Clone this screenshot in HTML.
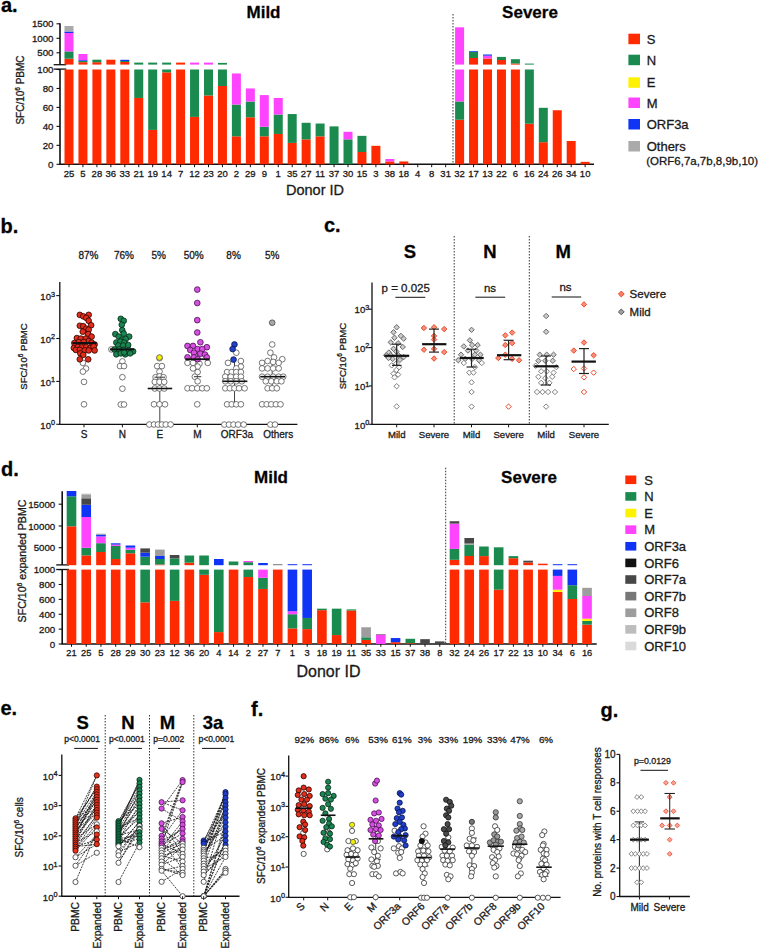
<!DOCTYPE html>
<html><head><meta charset="utf-8"><style>
html,body{margin:0;padding:0;background:#fff;}
svg{display:block;}
text{stroke:#1a1a1a;stroke-width:0.3px;}
</style></head><body>
<svg width="760" height="950" viewBox="0 0 760 950" font-family='"Liberation Sans", sans-serif'>
<rect width="760" height="950" fill="#fff"/>
<text x="1.00" y="11.80" font-size="20" text-anchor="start" font-weight="bold" fill="#000" >a.</text>
<text x="263.50" y="17.60" font-size="17" text-anchor="middle" font-weight="bold" fill="#000" >Mild</text>
<text x="530.00" y="17.60" font-size="17" text-anchor="middle" font-weight="bold" fill="#000" >Severe</text>
<line x1="60.00" y1="23.30" x2="60.00" y2="64.70" stroke="#111" stroke-width="1.6" />
<line x1="60.00" y1="69.10" x2="60.00" y2="164.30" stroke="#111" stroke-width="1.6" />
<line x1="59.20" y1="164.30" x2="594.00" y2="164.30" stroke="#111" stroke-width="1.6" />
<line x1="53.70" y1="64.70" x2="66.30" y2="64.70" stroke="#111" stroke-width="1.3" />
<line x1="53.70" y1="69.10" x2="66.30" y2="69.10" stroke="#111" stroke-width="1.3" />
<line x1="56.50" y1="23.80" x2="60.00" y2="23.80" stroke="#111" stroke-width="1.1" />
<text x="53.50" y="27.30" font-size="9.7" text-anchor="end" fill="#1a1a1a" >1500</text>
<line x1="56.50" y1="38.30" x2="60.00" y2="38.30" stroke="#111" stroke-width="1.1" />
<text x="53.50" y="41.80" font-size="9.7" text-anchor="end" fill="#1a1a1a" >1000</text>
<line x1="56.50" y1="52.80" x2="60.00" y2="52.80" stroke="#111" stroke-width="1.1" />
<text x="53.50" y="56.30" font-size="9.7" text-anchor="end" fill="#1a1a1a" >500</text>
<line x1="56.50" y1="164.30" x2="60.00" y2="164.30" stroke="#111" stroke-width="1.1" />
<text x="53.50" y="167.80" font-size="9.7" text-anchor="end" fill="#1a1a1a" >0</text>
<line x1="56.50" y1="145.34" x2="60.00" y2="145.34" stroke="#111" stroke-width="1.1" />
<text x="53.50" y="148.84" font-size="9.7" text-anchor="end" fill="#1a1a1a" >20</text>
<line x1="56.50" y1="126.38" x2="60.00" y2="126.38" stroke="#111" stroke-width="1.1" />
<text x="53.50" y="129.88" font-size="9.7" text-anchor="end" fill="#1a1a1a" >40</text>
<line x1="56.50" y1="107.42" x2="60.00" y2="107.42" stroke="#111" stroke-width="1.1" />
<text x="53.50" y="110.92" font-size="9.7" text-anchor="end" fill="#1a1a1a" >60</text>
<line x1="56.50" y1="88.46" x2="60.00" y2="88.46" stroke="#111" stroke-width="1.1" />
<text x="53.50" y="91.96" font-size="9.7" text-anchor="end" fill="#1a1a1a" >80</text>
<line x1="56.50" y1="69.50" x2="60.00" y2="69.50" stroke="#111" stroke-width="1.1" />
<text x="53.50" y="73.00" font-size="9.7" text-anchor="end" fill="#1a1a1a" >100</text>
<text x="24.00" y="90.00" font-size="10" text-anchor="middle" fill="#1a1a1a" transform="rotate(-90 24.00 90.00)">SFC/10<tspan font-size="6.5" dy="-4">6</tspan><tspan dy="4"> PBMC</tspan></text>
<rect x="64.50" y="69.50" width="9.00" height="94.80" fill="#ff2a00"/>
<rect x="64.50" y="58.70" width="9.00" height="5.90" fill="#ff2a00"/>
<rect x="64.50" y="51.40" width="9.00" height="7.30" fill="#1a8a4e"/>
<rect x="64.50" y="33.00" width="9.00" height="18.40" fill="#ff44ff"/>
<rect x="64.50" y="31.50" width="9.00" height="1.50" fill="#1034f5"/>
<rect x="64.50" y="26.00" width="9.00" height="5.50" fill="#aaaaaa"/>
<line x1="69.00" y1="164.30" x2="69.00" y2="167.20" stroke="#111" stroke-width="1.0" />
<text x="69.00" y="177.20" font-size="9.5" text-anchor="middle" fill="#1a1a1a" >25</text>
<rect x="78.45" y="69.50" width="9.00" height="94.80" fill="#ff2a00"/>
<rect x="78.45" y="62.20" width="9.00" height="2.40" fill="#ff2a00"/>
<rect x="78.45" y="61.00" width="9.00" height="1.20" fill="#1a8a4e"/>
<rect x="78.45" y="60.20" width="9.00" height="0.80" fill="#1034f5"/>
<rect x="78.45" y="54.00" width="9.00" height="6.20" fill="#ff44ff"/>
<line x1="82.95" y1="164.30" x2="82.95" y2="167.20" stroke="#111" stroke-width="1.0" />
<text x="82.95" y="177.20" font-size="9.5" text-anchor="middle" fill="#1a1a1a" >5</text>
<rect x="92.40" y="69.50" width="9.00" height="94.80" fill="#ff2a00"/>
<rect x="92.40" y="62.20" width="9.00" height="2.40" fill="#ff2a00"/>
<rect x="92.40" y="59.70" width="9.00" height="2.50" fill="#1a8a4e"/>
<line x1="96.90" y1="164.30" x2="96.90" y2="167.20" stroke="#111" stroke-width="1.0" />
<text x="96.90" y="177.20" font-size="9.5" text-anchor="middle" fill="#1a1a1a" >28</text>
<rect x="106.35" y="69.50" width="9.00" height="94.80" fill="#ff2a00"/>
<rect x="106.35" y="59.70" width="9.00" height="4.90" fill="#ff2a00"/>
<line x1="110.85" y1="164.30" x2="110.85" y2="167.20" stroke="#111" stroke-width="1.0" />
<text x="110.85" y="177.20" font-size="9.5" text-anchor="middle" fill="#1a1a1a" >36</text>
<rect x="120.30" y="69.50" width="9.00" height="94.80" fill="#ff2a00"/>
<rect x="120.30" y="62.00" width="9.00" height="2.60" fill="#ff2a00"/>
<rect x="120.30" y="61.00" width="9.00" height="1.00" fill="#1a8a4e"/>
<rect x="120.30" y="59.80" width="9.00" height="1.20" fill="#1034f5"/>
<line x1="124.80" y1="164.30" x2="124.80" y2="167.20" stroke="#111" stroke-width="1.0" />
<text x="124.80" y="177.20" font-size="9.5" text-anchor="middle" fill="#1a1a1a" >33</text>
<rect x="134.25" y="97.94" width="9.00" height="66.36" fill="#ff2a00"/>
<rect x="134.25" y="69.50" width="9.00" height="28.44" fill="#1a8a4e"/>
<rect x="134.25" y="62.60" width="9.00" height="2.00" fill="#1a8a4e"/>
<line x1="138.75" y1="164.30" x2="138.75" y2="167.20" stroke="#111" stroke-width="1.0" />
<text x="138.75" y="177.20" font-size="9.5" text-anchor="middle" fill="#1a1a1a" >21</text>
<rect x="148.20" y="129.89" width="9.00" height="34.41" fill="#ff2a00"/>
<rect x="148.20" y="69.50" width="9.00" height="60.39" fill="#1a8a4e"/>
<rect x="148.20" y="62.60" width="9.00" height="2.00" fill="#1a8a4e"/>
<line x1="152.70" y1="164.30" x2="152.70" y2="167.20" stroke="#111" stroke-width="1.0" />
<text x="152.70" y="177.20" font-size="9.5" text-anchor="middle" fill="#1a1a1a" >19</text>
<rect x="162.15" y="72.34" width="9.00" height="91.96" fill="#ff2a00"/>
<rect x="162.15" y="69.50" width="9.00" height="2.84" fill="#1a8a4e"/>
<rect x="162.15" y="62.60" width="9.00" height="2.00" fill="#1a8a4e"/>
<line x1="166.65" y1="164.30" x2="166.65" y2="167.20" stroke="#111" stroke-width="1.0" />
<text x="166.65" y="177.20" font-size="9.5" text-anchor="middle" fill="#1a1a1a" >14</text>
<rect x="176.10" y="69.50" width="9.00" height="94.80" fill="#ff2a00"/>
<rect x="176.10" y="62.60" width="9.00" height="2.00" fill="#ff2a00"/>
<line x1="180.60" y1="164.30" x2="180.60" y2="167.20" stroke="#111" stroke-width="1.0" />
<text x="180.60" y="177.20" font-size="9.5" text-anchor="middle" fill="#1a1a1a" >7</text>
<rect x="190.05" y="116.90" width="9.00" height="47.40" fill="#ff2a00"/>
<rect x="190.05" y="69.50" width="9.00" height="47.40" fill="#1a8a4e"/>
<rect x="190.05" y="62.60" width="9.00" height="2.00" fill="#ff44ff"/>
<line x1="194.55" y1="164.30" x2="194.55" y2="167.20" stroke="#111" stroke-width="1.0" />
<text x="194.55" y="177.20" font-size="9.5" text-anchor="middle" fill="#1a1a1a" >12</text>
<rect x="204.00" y="95.48" width="9.00" height="68.82" fill="#ff2a00"/>
<rect x="204.00" y="69.50" width="9.00" height="25.98" fill="#1a8a4e"/>
<rect x="204.00" y="62.60" width="9.00" height="2.00" fill="#ff44ff"/>
<line x1="208.50" y1="164.30" x2="208.50" y2="167.20" stroke="#111" stroke-width="1.0" />
<text x="208.50" y="177.20" font-size="9.5" text-anchor="middle" fill="#1a1a1a" >23</text>
<rect x="217.95" y="86.00" width="9.00" height="78.30" fill="#ff2a00"/>
<rect x="217.95" y="69.50" width="9.00" height="16.50" fill="#1a8a4e"/>
<rect x="217.95" y="62.90" width="9.00" height="1.70" fill="#1a8a4e"/>
<line x1="222.45" y1="164.30" x2="222.45" y2="167.20" stroke="#111" stroke-width="1.0" />
<text x="222.45" y="177.20" font-size="9.5" text-anchor="middle" fill="#1a1a1a" >20</text>
<rect x="231.90" y="136.33" width="9.00" height="27.97" fill="#ff2a00"/>
<rect x="231.90" y="104.58" width="9.00" height="31.76" fill="#1a8a4e"/>
<rect x="231.90" y="73.48" width="9.00" height="31.09" fill="#ff44ff"/>
<line x1="236.40" y1="164.30" x2="236.40" y2="167.20" stroke="#111" stroke-width="1.0" />
<text x="236.40" y="177.20" font-size="9.5" text-anchor="middle" fill="#1a1a1a" >2</text>
<rect x="245.85" y="117.28" width="9.00" height="47.02" fill="#ff2a00"/>
<rect x="245.85" y="101.54" width="9.00" height="15.74" fill="#1a8a4e"/>
<rect x="245.85" y="88.46" width="9.00" height="13.08" fill="#ff44ff"/>
<line x1="250.35" y1="164.30" x2="250.35" y2="167.20" stroke="#111" stroke-width="1.0" />
<text x="250.35" y="177.20" font-size="9.5" text-anchor="middle" fill="#1a1a1a" >29</text>
<rect x="259.80" y="136.33" width="9.00" height="27.97" fill="#ff2a00"/>
<rect x="259.80" y="126.76" width="9.00" height="9.57" fill="#1a8a4e"/>
<rect x="259.80" y="95.10" width="9.00" height="31.66" fill="#ff44ff"/>
<line x1="264.30" y1="164.30" x2="264.30" y2="167.20" stroke="#111" stroke-width="1.0" />
<text x="264.30" y="177.20" font-size="9.5" text-anchor="middle" fill="#1a1a1a" >9</text>
<rect x="273.75" y="133.96" width="9.00" height="30.34" fill="#ff2a00"/>
<rect x="273.75" y="114.53" width="9.00" height="19.43" fill="#1a8a4e"/>
<rect x="273.75" y="97.94" width="9.00" height="16.59" fill="#ff44ff"/>
<line x1="278.25" y1="164.30" x2="278.25" y2="167.20" stroke="#111" stroke-width="1.0" />
<text x="278.25" y="177.20" font-size="9.5" text-anchor="middle" fill="#1a1a1a" >1</text>
<rect x="287.70" y="142.88" width="9.00" height="21.42" fill="#ff2a00"/>
<rect x="287.70" y="114.06" width="9.00" height="28.82" fill="#1a8a4e"/>
<line x1="292.20" y1="164.30" x2="292.20" y2="167.20" stroke="#111" stroke-width="1.0" />
<text x="292.20" y="177.20" font-size="9.5" text-anchor="middle" fill="#1a1a1a" >35</text>
<rect x="301.65" y="139.37" width="9.00" height="24.93" fill="#ff2a00"/>
<rect x="301.65" y="122.78" width="9.00" height="16.59" fill="#1a8a4e"/>
<line x1="306.15" y1="164.30" x2="306.15" y2="167.20" stroke="#111" stroke-width="1.0" />
<text x="306.15" y="177.20" font-size="9.5" text-anchor="middle" fill="#1a1a1a" >27</text>
<rect x="315.60" y="136.33" width="9.00" height="27.97" fill="#ff2a00"/>
<rect x="315.60" y="123.54" width="9.00" height="12.80" fill="#1a8a4e"/>
<line x1="320.10" y1="164.30" x2="320.10" y2="167.20" stroke="#111" stroke-width="1.0" />
<text x="320.10" y="177.20" font-size="9.5" text-anchor="middle" fill="#1a1a1a" >11</text>
<rect x="329.55" y="126.38" width="9.00" height="37.92" fill="#1a8a4e"/>
<line x1="334.05" y1="164.30" x2="334.05" y2="167.20" stroke="#111" stroke-width="1.0" />
<text x="334.05" y="177.20" font-size="9.5" text-anchor="middle" fill="#1a1a1a" >37</text>
<rect x="343.50" y="139.37" width="9.00" height="24.93" fill="#1a8a4e"/>
<rect x="343.50" y="131.78" width="9.00" height="7.58" fill="#ff44ff"/>
<line x1="348.00" y1="164.30" x2="348.00" y2="167.20" stroke="#111" stroke-width="1.0" />
<text x="348.00" y="177.20" font-size="9.5" text-anchor="middle" fill="#1a1a1a" >30</text>
<rect x="357.45" y="151.98" width="9.00" height="12.32" fill="#ff2a00"/>
<rect x="357.45" y="135.86" width="9.00" height="16.12" fill="#1a8a4e"/>
<line x1="361.95" y1="164.30" x2="361.95" y2="167.20" stroke="#111" stroke-width="1.0" />
<text x="361.95" y="177.20" font-size="9.5" text-anchor="middle" fill="#1a1a1a" >15</text>
<rect x="371.40" y="145.81" width="9.00" height="18.49" fill="#ff2a00"/>
<line x1="375.90" y1="164.30" x2="375.90" y2="167.20" stroke="#111" stroke-width="1.0" />
<text x="375.90" y="177.20" font-size="9.5" text-anchor="middle" fill="#1a1a1a" >3</text>
<rect x="385.35" y="161.46" width="9.00" height="2.84" fill="#ff2a00"/>
<rect x="385.35" y="158.99" width="9.00" height="2.46" fill="#ff44ff"/>
<line x1="389.85" y1="164.30" x2="389.85" y2="167.20" stroke="#111" stroke-width="1.0" />
<text x="389.85" y="177.20" font-size="9.5" text-anchor="middle" fill="#1a1a1a" >38</text>
<rect x="399.30" y="161.46" width="9.00" height="2.84" fill="#ff2a00"/>
<line x1="403.80" y1="164.30" x2="403.80" y2="167.20" stroke="#111" stroke-width="1.0" />
<text x="403.80" y="177.20" font-size="9.5" text-anchor="middle" fill="#1a1a1a" >18</text>
<line x1="417.75" y1="164.30" x2="417.75" y2="167.20" stroke="#111" stroke-width="1.0" />
<text x="417.75" y="177.20" font-size="9.5" text-anchor="middle" fill="#1a1a1a" >4</text>
<line x1="431.70" y1="164.30" x2="431.70" y2="167.20" stroke="#111" stroke-width="1.0" />
<text x="431.70" y="177.20" font-size="9.5" text-anchor="middle" fill="#1a1a1a" >8</text>
<line x1="445.65" y1="164.30" x2="445.65" y2="167.20" stroke="#111" stroke-width="1.0" />
<text x="445.65" y="177.20" font-size="9.5" text-anchor="middle" fill="#1a1a1a" >31</text>
<rect x="455.10" y="119.74" width="9.00" height="44.56" fill="#ff2a00"/>
<rect x="455.10" y="101.45" width="9.00" height="18.30" fill="#1a8a4e"/>
<rect x="455.10" y="69.50" width="9.00" height="31.95" fill="#ff44ff"/>
<rect x="455.10" y="27.30" width="9.00" height="37.30" fill="#ff44ff"/>
<line x1="459.60" y1="164.30" x2="459.60" y2="167.20" stroke="#111" stroke-width="1.0" />
<text x="459.60" y="177.20" font-size="9.5" text-anchor="middle" fill="#1a1a1a" >32</text>
<rect x="469.05" y="69.50" width="9.00" height="94.80" fill="#ff2a00"/>
<rect x="469.05" y="58.00" width="9.00" height="6.60" fill="#ff2a00"/>
<rect x="469.05" y="51.70" width="9.00" height="6.30" fill="#1a8a4e"/>
<rect x="469.05" y="51.00" width="9.00" height="0.70" fill="#1034f5"/>
<line x1="473.55" y1="164.30" x2="473.55" y2="167.20" stroke="#111" stroke-width="1.0" />
<text x="473.55" y="177.20" font-size="9.5" text-anchor="middle" fill="#1a1a1a" >17</text>
<rect x="483.00" y="69.50" width="9.00" height="94.80" fill="#ff2a00"/>
<rect x="483.00" y="58.50" width="9.00" height="6.10" fill="#ff2a00"/>
<rect x="483.00" y="55.70" width="9.00" height="2.80" fill="#ff44ff"/>
<rect x="483.00" y="54.50" width="9.00" height="1.20" fill="#1034f5"/>
<line x1="487.50" y1="164.30" x2="487.50" y2="167.20" stroke="#111" stroke-width="1.0" />
<text x="487.50" y="177.20" font-size="9.5" text-anchor="middle" fill="#1a1a1a" >13</text>
<rect x="496.95" y="69.50" width="9.00" height="94.80" fill="#ff2a00"/>
<rect x="496.95" y="60.00" width="9.00" height="4.60" fill="#ff2a00"/>
<rect x="496.95" y="56.90" width="9.00" height="3.10" fill="#1a8a4e"/>
<line x1="501.45" y1="164.30" x2="501.45" y2="167.20" stroke="#111" stroke-width="1.0" />
<text x="501.45" y="177.20" font-size="9.5" text-anchor="middle" fill="#1a1a1a" >22</text>
<rect x="510.90" y="69.50" width="9.00" height="94.80" fill="#ff2a00"/>
<rect x="510.90" y="63.50" width="9.00" height="1.10" fill="#ff2a00"/>
<rect x="510.90" y="59.20" width="9.00" height="4.30" fill="#1a8a4e"/>
<line x1="515.40" y1="164.30" x2="515.40" y2="167.20" stroke="#111" stroke-width="1.0" />
<text x="515.40" y="177.20" font-size="9.5" text-anchor="middle" fill="#1a1a1a" >6</text>
<rect x="524.85" y="123.73" width="9.00" height="40.57" fill="#ff2a00"/>
<rect x="524.85" y="69.50" width="9.00" height="54.23" fill="#1a8a4e"/>
<rect x="524.85" y="63.60" width="9.00" height="1.00" fill="#1a8a4e"/>
<line x1="529.35" y1="164.30" x2="529.35" y2="167.20" stroke="#111" stroke-width="1.0" />
<text x="529.35" y="177.20" font-size="9.5" text-anchor="middle" fill="#1a1a1a" >16</text>
<rect x="538.80" y="142.21" width="9.00" height="22.09" fill="#ff2a00"/>
<rect x="538.80" y="107.80" width="9.00" height="34.41" fill="#1a8a4e"/>
<line x1="543.30" y1="164.30" x2="543.30" y2="167.20" stroke="#111" stroke-width="1.0" />
<text x="543.30" y="177.20" font-size="9.5" text-anchor="middle" fill="#1a1a1a" >24</text>
<rect x="552.75" y="110.26" width="9.00" height="54.04" fill="#ff2a00"/>
<line x1="557.25" y1="164.30" x2="557.25" y2="167.20" stroke="#111" stroke-width="1.0" />
<text x="557.25" y="177.20" font-size="9.5" text-anchor="middle" fill="#1a1a1a" >26</text>
<rect x="566.70" y="140.98" width="9.00" height="23.32" fill="#ff2a00"/>
<line x1="571.20" y1="164.30" x2="571.20" y2="167.20" stroke="#111" stroke-width="1.0" />
<text x="571.20" y="177.20" font-size="9.5" text-anchor="middle" fill="#1a1a1a" >34</text>
<rect x="580.65" y="161.84" width="9.00" height="2.46" fill="#ff2a00"/>
<line x1="585.15" y1="164.30" x2="585.15" y2="167.20" stroke="#111" stroke-width="1.0" />
<text x="585.15" y="177.20" font-size="9.5" text-anchor="middle" fill="#1a1a1a" >10</text>
<line x1="453.00" y1="14.00" x2="453.00" y2="164.00" stroke="#333" stroke-width="1.0" stroke-dasharray="1.5,1.5"/>
<text x="315.00" y="194.50" font-size="14.5" text-anchor="middle" fill="#1a1a1a" >Donor ID</text>
<rect x="628.40" y="33.70" width="11.60" height="10.50" fill="#ff2a00"/>
<text x="646.70" y="43.70" font-size="13" text-anchor="start" fill="#1a1a1a" >S</text>
<rect x="628.40" y="54.70" width="11.60" height="10.50" fill="#1a8a4e"/>
<text x="646.70" y="64.70" font-size="13" text-anchor="start" fill="#1a1a1a" >N</text>
<rect x="628.40" y="77.30" width="11.60" height="10.50" fill="#fff200"/>
<text x="646.70" y="87.30" font-size="13" text-anchor="start" fill="#1a1a1a" >E</text>
<rect x="628.40" y="97.50" width="11.60" height="10.50" fill="#ff44ff"/>
<text x="646.70" y="107.50" font-size="13" text-anchor="start" fill="#1a1a1a" >M</text>
<rect x="628.40" y="119.00" width="11.60" height="10.50" fill="#1034f5"/>
<text x="646.70" y="129.00" font-size="13" text-anchor="start" fill="#1a1a1a" >ORF3a</text>
<rect x="628.40" y="141.00" width="11.60" height="10.50" fill="#aaaaaa"/>
<text x="646.70" y="151.00" font-size="13" text-anchor="start" fill="#1a1a1a" >Others</text>
<text x="646.20" y="164.60" font-size="11.5" text-anchor="start" fill="#1a1a1a" >(ORF6,7a,7b,8,9b,10)</text>
<text x="0.50" y="233.30" font-size="20" text-anchor="start" font-weight="bold" fill="#000" >b.</text>
<line x1="59.80" y1="282.00" x2="59.80" y2="424.30" stroke="#111" stroke-width="1.3" />
<line x1="59.20" y1="424.30" x2="297.40" y2="424.30" stroke="#111" stroke-width="1.3" />
<line x1="56.30" y1="424.30" x2="59.80" y2="424.30" stroke="#111" stroke-width="1.1" />
<text x="55.00" y="428.60" font-size="9.5" text-anchor="end" fill="#1a1a1a">10<tspan font-size="7.3" dy="-3.4">0</tspan></text>
<line x1="56.30" y1="381.40" x2="59.80" y2="381.40" stroke="#111" stroke-width="1.1" />
<text x="55.00" y="385.70" font-size="9.5" text-anchor="end" fill="#1a1a1a">10<tspan font-size="7.3" dy="-3.4">1</tspan></text>
<line x1="56.30" y1="338.50" x2="59.80" y2="338.50" stroke="#111" stroke-width="1.1" />
<text x="55.00" y="342.80" font-size="9.5" text-anchor="end" fill="#1a1a1a">10<tspan font-size="7.3" dy="-3.4">2</tspan></text>
<line x1="56.30" y1="295.60" x2="59.80" y2="295.60" stroke="#111" stroke-width="1.1" />
<text x="55.00" y="299.90" font-size="9.5" text-anchor="end" fill="#1a1a1a">10<tspan font-size="7.3" dy="-3.4">3</tspan></text>
<text x="26.50" y="356.50" font-size="9.6" text-anchor="middle" fill="#1a1a1a" transform="rotate(-90 26.50 356.50)">SFC/10<tspan font-size="6.5" dy="-4">6</tspan><tspan dy="4"> PBMC</tspan></text>
<line x1="84.00" y1="424.30" x2="84.00" y2="427.30" stroke="#111" stroke-width="1.0" />
<text x="84.00" y="438.30" font-size="10" text-anchor="middle" fill="#1a1a1a" >S</text>
<line x1="122.40" y1="424.30" x2="122.40" y2="427.30" stroke="#111" stroke-width="1.0" />
<text x="122.40" y="438.30" font-size="10" text-anchor="middle" fill="#1a1a1a" >N</text>
<line x1="159.80" y1="424.30" x2="159.80" y2="427.30" stroke="#111" stroke-width="1.0" />
<text x="159.80" y="438.30" font-size="10" text-anchor="middle" fill="#1a1a1a" >E</text>
<line x1="197.30" y1="424.30" x2="197.30" y2="427.30" stroke="#111" stroke-width="1.0" />
<text x="197.30" y="438.30" font-size="10" text-anchor="middle" fill="#1a1a1a" >M</text>
<line x1="234.50" y1="424.30" x2="234.50" y2="427.30" stroke="#111" stroke-width="1.0" />
<text x="236.90" y="438.30" font-size="10" text-anchor="middle" fill="#1a1a1a" >ORF3a</text>
<line x1="272.20" y1="424.30" x2="272.20" y2="427.30" stroke="#111" stroke-width="1.0" />
<text x="278.20" y="438.30" font-size="10" text-anchor="middle" fill="#1a1a1a" >Others</text>
<text x="88.40" y="259.00" font-size="10" text-anchor="middle" fill="#1a1a1a" >87%</text>
<text x="124.00" y="259.00" font-size="10" text-anchor="middle" fill="#1a1a1a" >76%</text>
<text x="158.70" y="259.00" font-size="10" text-anchor="middle" fill="#1a1a1a" >5%</text>
<text x="193.70" y="259.00" font-size="10" text-anchor="middle" fill="#1a1a1a" >50%</text>
<text x="233.60" y="259.00" font-size="10" text-anchor="middle" fill="#1a1a1a" >8%</text>
<text x="272.30" y="259.00" font-size="10" text-anchor="middle" fill="#1a1a1a" >5%</text>
<circle cx="82.90" cy="362.90" r="2.85" fill="#ffffff" stroke="#555" stroke-width="0.8"/>
<circle cx="86.00" cy="368.50" r="2.85" fill="#ffffff" stroke="#555" stroke-width="0.8"/>
<circle cx="82.90" cy="371.60" r="2.85" fill="#ffffff" stroke="#555" stroke-width="0.8"/>
<circle cx="84.00" cy="381.90" r="2.85" fill="#ffffff" stroke="#555" stroke-width="0.8"/>
<circle cx="84.00" cy="404.30" r="2.85" fill="#ffffff" stroke="#555" stroke-width="0.8"/>
<circle cx="122.40" cy="361.40" r="2.85" fill="#ffffff" stroke="#555" stroke-width="0.8"/>
<circle cx="120.00" cy="366.10" r="2.85" fill="#ffffff" stroke="#555" stroke-width="0.8"/>
<circle cx="124.00" cy="366.10" r="2.85" fill="#ffffff" stroke="#555" stroke-width="0.8"/>
<circle cx="122.40" cy="377.20" r="2.85" fill="#ffffff" stroke="#555" stroke-width="0.8"/>
<circle cx="122.40" cy="388.70" r="2.85" fill="#ffffff" stroke="#555" stroke-width="0.8"/>
<circle cx="120.80" cy="404.50" r="2.85" fill="#ffffff" stroke="#555" stroke-width="0.8"/>
<circle cx="124.00" cy="404.50" r="2.85" fill="#ffffff" stroke="#555" stroke-width="0.8"/>
<circle cx="111.40" cy="349.40" r="2.85" fill="#ffffff" stroke="#555" stroke-width="0.8"/>
<circle cx="79.81" cy="314.87" r="2.85" fill="#e22c1c" stroke="#2a0500" stroke-width="0.8"/>
<circle cx="83.26" cy="316.35" r="2.85" fill="#e22c1c" stroke="#2a0500" stroke-width="0.8"/>
<circle cx="88.69" cy="314.87" r="2.85" fill="#e22c1c" stroke="#2a0500" stroke-width="0.8"/>
<circle cx="86.22" cy="317.83" r="2.85" fill="#e22c1c" stroke="#2a0500" stroke-width="0.8"/>
<circle cx="88.69" cy="320.79" r="2.85" fill="#e22c1c" stroke="#2a0500" stroke-width="0.8"/>
<circle cx="79.81" cy="325.73" r="2.85" fill="#e22c1c" stroke="#2a0500" stroke-width="0.8"/>
<circle cx="83.26" cy="326.22" r="2.85" fill="#e22c1c" stroke="#2a0500" stroke-width="0.8"/>
<circle cx="91.16" cy="325.24" r="2.85" fill="#e22c1c" stroke="#2a0500" stroke-width="0.8"/>
<circle cx="86.22" cy="328.69" r="2.85" fill="#e22c1c" stroke="#2a0500" stroke-width="0.8"/>
<circle cx="88.69" cy="329.68" r="2.85" fill="#e22c1c" stroke="#2a0500" stroke-width="0.8"/>
<circle cx="82.77" cy="331.65" r="2.85" fill="#e22c1c" stroke="#2a0500" stroke-width="0.8"/>
<circle cx="88.20" cy="334.12" r="2.85" fill="#e22c1c" stroke="#2a0500" stroke-width="0.8"/>
<circle cx="91.65" cy="336.59" r="2.85" fill="#e22c1c" stroke="#2a0500" stroke-width="0.8"/>
<circle cx="76.85" cy="338.07" r="2.85" fill="#e22c1c" stroke="#2a0500" stroke-width="0.8"/>
<circle cx="80.79" cy="338.56" r="2.85" fill="#e22c1c" stroke="#2a0500" stroke-width="0.8"/>
<circle cx="85.73" cy="338.56" r="2.85" fill="#e22c1c" stroke="#2a0500" stroke-width="0.8"/>
<circle cx="88.69" cy="341.03" r="2.85" fill="#e22c1c" stroke="#2a0500" stroke-width="0.8"/>
<circle cx="74.38" cy="343.01" r="2.85" fill="#e22c1c" stroke="#2a0500" stroke-width="0.8"/>
<circle cx="78.82" cy="342.02" r="2.85" fill="#e22c1c" stroke="#2a0500" stroke-width="0.8"/>
<circle cx="83.76" cy="342.02" r="2.85" fill="#e22c1c" stroke="#2a0500" stroke-width="0.8"/>
<circle cx="91.65" cy="342.51" r="2.85" fill="#e22c1c" stroke="#2a0500" stroke-width="0.8"/>
<circle cx="94.62" cy="344.49" r="2.85" fill="#e22c1c" stroke="#2a0500" stroke-width="0.8"/>
<circle cx="73.88" cy="347.94" r="2.85" fill="#e22c1c" stroke="#2a0500" stroke-width="0.8"/>
<circle cx="77.83" cy="346.95" r="2.85" fill="#e22c1c" stroke="#2a0500" stroke-width="0.8"/>
<circle cx="81.78" cy="347.45" r="2.85" fill="#e22c1c" stroke="#2a0500" stroke-width="0.8"/>
<circle cx="86.22" cy="346.95" r="2.85" fill="#e22c1c" stroke="#2a0500" stroke-width="0.8"/>
<circle cx="90.17" cy="347.94" r="2.85" fill="#e22c1c" stroke="#2a0500" stroke-width="0.8"/>
<circle cx="93.63" cy="346.46" r="2.85" fill="#e22c1c" stroke="#2a0500" stroke-width="0.8"/>
<circle cx="75.86" cy="349.92" r="2.85" fill="#e22c1c" stroke="#2a0500" stroke-width="0.8"/>
<circle cx="79.81" cy="349.92" r="2.85" fill="#e22c1c" stroke="#2a0500" stroke-width="0.8"/>
<circle cx="84.74" cy="350.41" r="2.85" fill="#e22c1c" stroke="#2a0500" stroke-width="0.8"/>
<circle cx="88.69" cy="350.41" r="2.85" fill="#e22c1c" stroke="#2a0500" stroke-width="0.8"/>
<circle cx="94.62" cy="350.41" r="2.85" fill="#e22c1c" stroke="#2a0500" stroke-width="0.8"/>
<circle cx="80.30" cy="353.37" r="2.85" fill="#e22c1c" stroke="#2a0500" stroke-width="0.8"/>
<circle cx="83.26" cy="354.85" r="2.85" fill="#e22c1c" stroke="#2a0500" stroke-width="0.8"/>
<circle cx="79.81" cy="359.29" r="2.85" fill="#e22c1c" stroke="#2a0500" stroke-width="0.8"/>
<circle cx="88.20" cy="359.29" r="2.85" fill="#e22c1c" stroke="#2a0500" stroke-width="0.8"/>
<circle cx="120.77" cy="318.82" r="2.85" fill="#1b8450" stroke="#052818" stroke-width="0.8"/>
<circle cx="123.74" cy="320.79" r="2.85" fill="#1b8450" stroke="#052818" stroke-width="0.8"/>
<circle cx="121.76" cy="324.74" r="2.85" fill="#1b8450" stroke="#052818" stroke-width="0.8"/>
<circle cx="122.26" cy="330.17" r="2.85" fill="#1b8450" stroke="#052818" stroke-width="0.8"/>
<circle cx="115.35" cy="334.12" r="2.85" fill="#1b8450" stroke="#052818" stroke-width="0.8"/>
<circle cx="123.74" cy="333.63" r="2.85" fill="#1b8450" stroke="#052818" stroke-width="0.8"/>
<circle cx="118.80" cy="336.59" r="2.85" fill="#1b8450" stroke="#052818" stroke-width="0.8"/>
<circle cx="129.17" cy="336.59" r="2.85" fill="#1b8450" stroke="#052818" stroke-width="0.8"/>
<circle cx="122.26" cy="339.55" r="2.85" fill="#1b8450" stroke="#052818" stroke-width="0.8"/>
<circle cx="125.71" cy="339.06" r="2.85" fill="#1b8450" stroke="#052818" stroke-width="0.8"/>
<circle cx="116.33" cy="342.51" r="2.85" fill="#1b8450" stroke="#052818" stroke-width="0.8"/>
<circle cx="120.28" cy="341.53" r="2.85" fill="#1b8450" stroke="#052818" stroke-width="0.8"/>
<circle cx="124.23" cy="342.51" r="2.85" fill="#1b8450" stroke="#052818" stroke-width="0.8"/>
<circle cx="118.31" cy="345.47" r="2.85" fill="#1b8450" stroke="#052818" stroke-width="0.8"/>
<circle cx="123.24" cy="345.47" r="2.85" fill="#1b8450" stroke="#052818" stroke-width="0.8"/>
<circle cx="128.18" cy="344.98" r="2.85" fill="#1b8450" stroke="#052818" stroke-width="0.8"/>
<circle cx="114.36" cy="349.42" r="2.85" fill="#1b8450" stroke="#052818" stroke-width="0.8"/>
<circle cx="119.29" cy="349.42" r="2.85" fill="#1b8450" stroke="#052818" stroke-width="0.8"/>
<circle cx="123.74" cy="349.92" r="2.85" fill="#1b8450" stroke="#052818" stroke-width="0.8"/>
<circle cx="129.17" cy="350.41" r="2.85" fill="#1b8450" stroke="#052818" stroke-width="0.8"/>
<circle cx="133.11" cy="351.40" r="2.85" fill="#1b8450" stroke="#052818" stroke-width="0.8"/>
<circle cx="116.33" cy="354.36" r="2.85" fill="#1b8450" stroke="#052818" stroke-width="0.8"/>
<circle cx="120.77" cy="353.37" r="2.85" fill="#1b8450" stroke="#052818" stroke-width="0.8"/>
<circle cx="125.22" cy="354.36" r="2.85" fill="#1b8450" stroke="#052818" stroke-width="0.8"/>
<circle cx="130.15" cy="353.37" r="2.85" fill="#1b8450" stroke="#052818" stroke-width="0.8"/>
<circle cx="124.23" cy="352.38" r="2.85" fill="#1b8450" stroke="#052818" stroke-width="0.8"/>
<line x1="72.40" y1="343.00" x2="96.60" y2="343.00" stroke="#111" stroke-width="2.0" />
<line x1="109.90" y1="349.40" x2="134.10" y2="349.40" stroke="#111" stroke-width="2.0" />
<line x1="159.80" y1="377.20" x2="159.80" y2="424.30" stroke="#444" stroke-width="1.0" />
<circle cx="159.50" cy="358.20" r="2.85" fill="#ffffff" stroke="#555" stroke-width="0.8"/>
<circle cx="157.20" cy="366.10" r="2.85" fill="#ffffff" stroke="#555" stroke-width="0.8"/>
<circle cx="161.90" cy="366.10" r="2.85" fill="#ffffff" stroke="#555" stroke-width="0.8"/>
<circle cx="159.50" cy="371.60" r="2.85" fill="#ffffff" stroke="#555" stroke-width="0.8"/>
<circle cx="155.60" cy="377.20" r="2.85" fill="#ffffff" stroke="#555" stroke-width="0.8"/>
<circle cx="159.50" cy="376.40" r="2.85" fill="#ffffff" stroke="#555" stroke-width="0.8"/>
<circle cx="163.50" cy="377.20" r="2.85" fill="#ffffff" stroke="#555" stroke-width="0.8"/>
<circle cx="154.80" cy="381.90" r="2.85" fill="#ffffff" stroke="#555" stroke-width="0.8"/>
<circle cx="159.50" cy="381.90" r="2.85" fill="#ffffff" stroke="#555" stroke-width="0.8"/>
<circle cx="164.20" cy="381.90" r="2.85" fill="#ffffff" stroke="#555" stroke-width="0.8"/>
<circle cx="154.80" cy="388.50" r="2.85" fill="#ffffff" stroke="#555" stroke-width="0.8"/>
<circle cx="159.50" cy="388.50" r="2.85" fill="#ffffff" stroke="#555" stroke-width="0.8"/>
<circle cx="164.20" cy="388.50" r="2.85" fill="#ffffff" stroke="#555" stroke-width="0.8"/>
<circle cx="154.00" cy="404.30" r="2.85" fill="#ffffff" stroke="#555" stroke-width="0.8"/>
<circle cx="159.50" cy="404.30" r="2.85" fill="#ffffff" stroke="#555" stroke-width="0.8"/>
<circle cx="165.00" cy="404.30" r="2.85" fill="#ffffff" stroke="#555" stroke-width="0.8"/>
<circle cx="149.30" cy="424.50" r="2.85" fill="#ffffff" stroke="#555" stroke-width="0.8"/>
<circle cx="154.00" cy="424.50" r="2.85" fill="#ffffff" stroke="#555" stroke-width="0.8"/>
<circle cx="158.00" cy="424.50" r="2.85" fill="#ffffff" stroke="#555" stroke-width="0.8"/>
<circle cx="161.90" cy="424.50" r="2.85" fill="#ffffff" stroke="#555" stroke-width="0.8"/>
<circle cx="165.80" cy="424.50" r="2.85" fill="#ffffff" stroke="#555" stroke-width="0.8"/>
<circle cx="170.60" cy="424.50" r="2.85" fill="#ffffff" stroke="#555" stroke-width="0.8"/>
<circle cx="159.50" cy="357.50" r="2.85" fill="#f6f000" stroke="#555" stroke-width="0.8"/>
<line x1="154.50" y1="377.20" x2="165.00" y2="377.20" stroke="#333" stroke-width="1.0" />
<line x1="147.70" y1="388.50" x2="172.20" y2="388.50" stroke="#111" stroke-width="1.6" />
<line x1="197.30" y1="347.22" x2="197.30" y2="376.69" stroke="#444" stroke-width="1.0" />
<circle cx="187.50" cy="362.87" r="2.85" fill="#ffffff" stroke="#555" stroke-width="0.8"/>
<circle cx="193.02" cy="362.87" r="2.85" fill="#ffffff" stroke="#555" stroke-width="0.8"/>
<circle cx="199.47" cy="363.79" r="2.85" fill="#ffffff" stroke="#555" stroke-width="0.8"/>
<circle cx="207.75" cy="362.87" r="2.85" fill="#ffffff" stroke="#555" stroke-width="0.8"/>
<circle cx="197.62" cy="366.56" r="2.85" fill="#ffffff" stroke="#555" stroke-width="0.8"/>
<circle cx="193.02" cy="368.40" r="2.85" fill="#ffffff" stroke="#555" stroke-width="0.8"/>
<circle cx="197.62" cy="372.08" r="2.85" fill="#ffffff" stroke="#555" stroke-width="0.8"/>
<circle cx="194.86" cy="376.69" r="2.85" fill="#ffffff" stroke="#555" stroke-width="0.8"/>
<circle cx="197.62" cy="381.29" r="2.85" fill="#ffffff" stroke="#555" stroke-width="0.8"/>
<circle cx="187.50" cy="388.29" r="2.85" fill="#ffffff" stroke="#555" stroke-width="0.8"/>
<circle cx="192.10" cy="388.29" r="2.85" fill="#ffffff" stroke="#555" stroke-width="0.8"/>
<circle cx="197.26" cy="388.29" r="2.85" fill="#ffffff" stroke="#555" stroke-width="0.8"/>
<circle cx="202.23" cy="388.29" r="2.85" fill="#ffffff" stroke="#555" stroke-width="0.8"/>
<circle cx="206.83" cy="388.29" r="2.85" fill="#ffffff" stroke="#555" stroke-width="0.8"/>
<circle cx="197.26" cy="404.31" r="2.85" fill="#ffffff" stroke="#555" stroke-width="0.8"/>
<circle cx="197.26" cy="289.58" r="2.85" fill="#d54fe0" stroke="#4a1050" stroke-width="0.8"/>
<circle cx="197.26" cy="303.02" r="2.85" fill="#d54fe0" stroke="#4a1050" stroke-width="0.8"/>
<circle cx="197.26" cy="320.15" r="2.85" fill="#d54fe0" stroke="#4a1050" stroke-width="0.8"/>
<circle cx="197.26" cy="332.49" r="2.85" fill="#d54fe0" stroke="#4a1050" stroke-width="0.8"/>
<circle cx="200.39" cy="342.25" r="2.85" fill="#d54fe0" stroke="#4a1050" stroke-width="0.8"/>
<circle cx="187.50" cy="345.93" r="2.85" fill="#d54fe0" stroke="#4a1050" stroke-width="0.8"/>
<circle cx="193.02" cy="345.93" r="2.85" fill="#d54fe0" stroke="#4a1050" stroke-width="0.8"/>
<circle cx="206.83" cy="347.22" r="2.85" fill="#d54fe0" stroke="#4a1050" stroke-width="0.8"/>
<circle cx="190.26" cy="349.98" r="2.85" fill="#d54fe0" stroke="#4a1050" stroke-width="0.8"/>
<circle cx="197.62" cy="349.06" r="2.85" fill="#d54fe0" stroke="#4a1050" stroke-width="0.8"/>
<circle cx="202.23" cy="349.06" r="2.85" fill="#d54fe0" stroke="#4a1050" stroke-width="0.8"/>
<circle cx="193.94" cy="352.74" r="2.85" fill="#d54fe0" stroke="#4a1050" stroke-width="0.8"/>
<circle cx="200.39" cy="353.66" r="2.85" fill="#d54fe0" stroke="#4a1050" stroke-width="0.8"/>
<circle cx="204.99" cy="354.59" r="2.85" fill="#d54fe0" stroke="#4a1050" stroke-width="0.8"/>
<circle cx="187.50" cy="357.35" r="2.85" fill="#d54fe0" stroke="#4a1050" stroke-width="0.8"/>
<circle cx="193.94" cy="357.35" r="2.85" fill="#d54fe0" stroke="#4a1050" stroke-width="0.8"/>
<circle cx="206.83" cy="357.35" r="2.85" fill="#d54fe0" stroke="#4a1050" stroke-width="0.8"/>
<circle cx="197.62" cy="359.19" r="2.85" fill="#d54fe0" stroke="#4a1050" stroke-width="0.8"/>
<line x1="193.94" y1="376.69" x2="201.31" y2="376.69" stroke="#333" stroke-width="1.0" />
<line x1="185.65" y1="359.19" x2="209.59" y2="359.19" stroke="#111" stroke-width="1.8" />
<line x1="234.50" y1="357.35" x2="234.50" y2="404.31" stroke="#444" stroke-width="1.0" />
<circle cx="236.30" cy="352.74" r="2.85" fill="#ffffff" stroke="#555" stroke-width="0.8"/>
<circle cx="228.01" cy="362.87" r="2.85" fill="#ffffff" stroke="#555" stroke-width="0.8"/>
<circle cx="240.90" cy="361.03" r="2.85" fill="#ffffff" stroke="#555" stroke-width="0.8"/>
<circle cx="240.90" cy="366.56" r="2.85" fill="#ffffff" stroke="#555" stroke-width="0.8"/>
<circle cx="236.30" cy="368.40" r="2.85" fill="#ffffff" stroke="#555" stroke-width="0.8"/>
<circle cx="227.09" cy="372.08" r="2.85" fill="#ffffff" stroke="#555" stroke-width="0.8"/>
<circle cx="231.69" cy="372.08" r="2.85" fill="#ffffff" stroke="#555" stroke-width="0.8"/>
<circle cx="236.30" cy="372.08" r="2.85" fill="#ffffff" stroke="#555" stroke-width="0.8"/>
<circle cx="240.90" cy="372.08" r="2.85" fill="#ffffff" stroke="#555" stroke-width="0.8"/>
<circle cx="225.25" cy="376.69" r="2.85" fill="#ffffff" stroke="#555" stroke-width="0.8"/>
<circle cx="230.77" cy="376.69" r="2.85" fill="#ffffff" stroke="#555" stroke-width="0.8"/>
<circle cx="236.30" cy="376.69" r="2.85" fill="#ffffff" stroke="#555" stroke-width="0.8"/>
<circle cx="240.90" cy="376.69" r="2.85" fill="#ffffff" stroke="#555" stroke-width="0.8"/>
<circle cx="225.25" cy="381.29" r="2.85" fill="#ffffff" stroke="#555" stroke-width="0.8"/>
<circle cx="230.77" cy="381.29" r="2.85" fill="#ffffff" stroke="#555" stroke-width="0.8"/>
<circle cx="236.30" cy="381.29" r="2.85" fill="#ffffff" stroke="#555" stroke-width="0.8"/>
<circle cx="241.82" cy="381.29" r="2.85" fill="#ffffff" stroke="#555" stroke-width="0.8"/>
<circle cx="225.25" cy="388.29" r="2.85" fill="#ffffff" stroke="#555" stroke-width="0.8"/>
<circle cx="229.85" cy="388.29" r="2.85" fill="#ffffff" stroke="#555" stroke-width="0.8"/>
<circle cx="234.46" cy="388.29" r="2.85" fill="#ffffff" stroke="#555" stroke-width="0.8"/>
<circle cx="239.06" cy="388.29" r="2.85" fill="#ffffff" stroke="#555" stroke-width="0.8"/>
<circle cx="244.59" cy="388.29" r="2.85" fill="#ffffff" stroke="#555" stroke-width="0.8"/>
<circle cx="227.09" cy="404.31" r="2.85" fill="#ffffff" stroke="#555" stroke-width="0.8"/>
<circle cx="231.69" cy="404.31" r="2.85" fill="#ffffff" stroke="#555" stroke-width="0.8"/>
<circle cx="236.30" cy="404.31" r="2.85" fill="#ffffff" stroke="#555" stroke-width="0.8"/>
<circle cx="240.90" cy="404.31" r="2.85" fill="#ffffff" stroke="#555" stroke-width="0.8"/>
<circle cx="224.33" cy="424.57" r="2.85" fill="#ffffff" stroke="#555" stroke-width="0.8"/>
<circle cx="228.93" cy="424.57" r="2.85" fill="#ffffff" stroke="#555" stroke-width="0.8"/>
<circle cx="233.54" cy="424.57" r="2.85" fill="#ffffff" stroke="#555" stroke-width="0.8"/>
<circle cx="238.14" cy="424.57" r="2.85" fill="#ffffff" stroke="#555" stroke-width="0.8"/>
<circle cx="243.66" cy="424.57" r="2.85" fill="#ffffff" stroke="#555" stroke-width="0.8"/>
<circle cx="234.46" cy="344.46" r="2.85" fill="#2040c8" stroke="#0a1450" stroke-width="0.8"/>
<circle cx="232.62" cy="349.06" r="2.85" fill="#2040c8" stroke="#0a1450" stroke-width="0.8"/>
<circle cx="233.54" cy="359.56" r="2.85" fill="#2040c8" stroke="#0a1450" stroke-width="0.8"/>
<line x1="222.49" y1="381.29" x2="247.35" y2="381.29" stroke="#111" stroke-width="1.6" />
<line x1="272.20" y1="357.35" x2="272.20" y2="388.29" stroke="#444" stroke-width="1.0" />
<circle cx="272.21" cy="344.46" r="2.85" fill="#ffffff" stroke="#555" stroke-width="0.8"/>
<circle cx="270.37" cy="352.74" r="2.85" fill="#ffffff" stroke="#555" stroke-width="0.8"/>
<circle cx="274.05" cy="357.35" r="2.85" fill="#ffffff" stroke="#555" stroke-width="0.8"/>
<circle cx="282.34" cy="359.19" r="2.85" fill="#ffffff" stroke="#555" stroke-width="0.8"/>
<circle cx="262.08" cy="362.87" r="2.85" fill="#ffffff" stroke="#555" stroke-width="0.8"/>
<circle cx="267.61" cy="361.03" r="2.85" fill="#ffffff" stroke="#555" stroke-width="0.8"/>
<circle cx="273.13" cy="361.95" r="2.85" fill="#ffffff" stroke="#555" stroke-width="0.8"/>
<circle cx="278.66" cy="362.87" r="2.85" fill="#ffffff" stroke="#555" stroke-width="0.8"/>
<circle cx="262.08" cy="368.40" r="2.85" fill="#ffffff" stroke="#555" stroke-width="0.8"/>
<circle cx="267.61" cy="368.40" r="2.85" fill="#ffffff" stroke="#555" stroke-width="0.8"/>
<circle cx="273.13" cy="368.40" r="2.85" fill="#ffffff" stroke="#555" stroke-width="0.8"/>
<circle cx="278.66" cy="368.40" r="2.85" fill="#ffffff" stroke="#555" stroke-width="0.8"/>
<circle cx="262.08" cy="376.69" r="2.85" fill="#ffffff" stroke="#555" stroke-width="0.8"/>
<circle cx="267.61" cy="376.69" r="2.85" fill="#ffffff" stroke="#555" stroke-width="0.8"/>
<circle cx="273.13" cy="376.69" r="2.85" fill="#ffffff" stroke="#555" stroke-width="0.8"/>
<circle cx="278.66" cy="376.69" r="2.85" fill="#ffffff" stroke="#555" stroke-width="0.8"/>
<circle cx="283.26" cy="376.69" r="2.85" fill="#ffffff" stroke="#555" stroke-width="0.8"/>
<circle cx="265.76" cy="381.29" r="2.85" fill="#ffffff" stroke="#555" stroke-width="0.8"/>
<circle cx="271.29" cy="381.29" r="2.85" fill="#ffffff" stroke="#555" stroke-width="0.8"/>
<circle cx="276.81" cy="381.29" r="2.85" fill="#ffffff" stroke="#555" stroke-width="0.8"/>
<circle cx="281.42" cy="381.29" r="2.85" fill="#ffffff" stroke="#555" stroke-width="0.8"/>
<circle cx="267.61" cy="388.29" r="2.85" fill="#ffffff" stroke="#555" stroke-width="0.8"/>
<circle cx="272.21" cy="388.29" r="2.85" fill="#ffffff" stroke="#555" stroke-width="0.8"/>
<circle cx="276.81" cy="388.29" r="2.85" fill="#ffffff" stroke="#555" stroke-width="0.8"/>
<circle cx="262.08" cy="404.31" r="2.85" fill="#ffffff" stroke="#555" stroke-width="0.8"/>
<circle cx="266.69" cy="404.31" r="2.85" fill="#ffffff" stroke="#555" stroke-width="0.8"/>
<circle cx="271.29" cy="404.31" r="2.85" fill="#ffffff" stroke="#555" stroke-width="0.8"/>
<circle cx="275.89" cy="404.31" r="2.85" fill="#ffffff" stroke="#555" stroke-width="0.8"/>
<circle cx="280.50" cy="404.31" r="2.85" fill="#ffffff" stroke="#555" stroke-width="0.8"/>
<circle cx="270.37" cy="424.57" r="2.85" fill="#ffffff" stroke="#555" stroke-width="0.8"/>
<circle cx="274.97" cy="424.57" r="2.85" fill="#ffffff" stroke="#555" stroke-width="0.8"/>
<circle cx="272.21" cy="322.73" r="2.85" fill="#a8a8a8" stroke="#444" stroke-width="0.8"/>
<line x1="260.24" y1="376.69" x2="285.10" y2="376.69" stroke="#111" stroke-width="1.6" />
<text x="324.00" y="232.30" font-size="20" text-anchor="start" font-weight="bold" fill="#000" >c.</text>
<text x="410.00" y="258.00" font-size="18.5" text-anchor="middle" font-weight="bold" fill="#000" >S</text>
<text x="490.00" y="258.00" font-size="18.5" text-anchor="middle" font-weight="bold" fill="#000" >N</text>
<text x="563.30" y="258.00" font-size="18.5" text-anchor="middle" font-weight="bold" fill="#000" >M</text>
<line x1="454.20" y1="236.00" x2="454.20" y2="424.30" stroke="#333" stroke-width="1.0" stroke-dasharray="1.5,1.5"/>
<line x1="529.30" y1="236.00" x2="529.30" y2="424.30" stroke="#333" stroke-width="1.0" stroke-dasharray="1.5,1.5"/>
<line x1="372.00" y1="282.50" x2="372.00" y2="424.30" stroke="#111" stroke-width="1.3" />
<line x1="371.40" y1="424.30" x2="608.80" y2="424.30" stroke="#111" stroke-width="1.3" />
<line x1="368.80" y1="424.30" x2="372.00" y2="424.30" stroke="#111" stroke-width="1.1" />
<text x="369.30" y="428.50" font-size="9.6" text-anchor="end" fill="#1a1a1a">10<tspan font-size="7.3" dy="-3.5">0</tspan></text>
<line x1="368.80" y1="385.93" x2="372.00" y2="385.93" stroke="#111" stroke-width="1.1" />
<text x="369.30" y="390.13" font-size="9.6" text-anchor="end" fill="#1a1a1a">10<tspan font-size="7.3" dy="-3.5">1</tspan></text>
<line x1="368.80" y1="347.56" x2="372.00" y2="347.56" stroke="#111" stroke-width="1.1" />
<text x="369.30" y="351.76" font-size="9.6" text-anchor="end" fill="#1a1a1a">10<tspan font-size="7.3" dy="-3.5">2</tspan></text>
<line x1="368.80" y1="309.19" x2="372.00" y2="309.19" stroke="#111" stroke-width="1.1" />
<text x="369.30" y="313.39" font-size="9.6" text-anchor="end" fill="#1a1a1a">10<tspan font-size="7.3" dy="-3.5">3</tspan></text>
<text x="345.50" y="356.00" font-size="9.6" text-anchor="middle" fill="#1a1a1a" transform="rotate(-90 345.50 356.00)">SFC/10<tspan font-size="6.5" dy="-4">6</tspan><tspan dy="4"> PBMC</tspan></text>
<line x1="396.70" y1="424.30" x2="396.70" y2="427.30" stroke="#111" stroke-width="1.0" />
<text x="396.70" y="437.80" font-size="9.6" text-anchor="middle" fill="#1a1a1a" >Mild</text>
<line x1="434.00" y1="424.30" x2="434.00" y2="427.30" stroke="#111" stroke-width="1.0" />
<text x="434.00" y="437.80" font-size="9.6" text-anchor="middle" fill="#1a1a1a" >Severe</text>
<line x1="471.50" y1="424.30" x2="471.50" y2="427.30" stroke="#111" stroke-width="1.0" />
<text x="471.50" y="437.80" font-size="9.6" text-anchor="middle" fill="#1a1a1a" >Mild</text>
<line x1="508.60" y1="424.30" x2="508.60" y2="427.30" stroke="#111" stroke-width="1.0" />
<text x="508.60" y="437.80" font-size="9.6" text-anchor="middle" fill="#1a1a1a" >Severe</text>
<line x1="546.10" y1="424.30" x2="546.10" y2="427.30" stroke="#111" stroke-width="1.0" />
<text x="546.10" y="437.80" font-size="9.6" text-anchor="middle" fill="#1a1a1a" >Mild</text>
<line x1="584.00" y1="424.30" x2="584.00" y2="427.30" stroke="#111" stroke-width="1.0" />
<text x="584.00" y="437.80" font-size="9.6" text-anchor="middle" fill="#1a1a1a" >Severe</text>
<text x="405.70" y="292.30" font-size="11.5" text-anchor="middle" fill="#1a1a1a" >p = 0.025</text>
<line x1="395.40" y1="297.30" x2="425.30" y2="297.30" stroke="#111" stroke-width="1.0" />
<text x="490.00" y="291.50" font-size="11.5" text-anchor="middle" fill="#1a1a1a" >ns</text>
<line x1="475.40" y1="297.20" x2="505.20" y2="297.20" stroke="#111" stroke-width="1.0" />
<text x="565.50" y="290.50" font-size="11.5" text-anchor="middle" fill="#1a1a1a" >ns</text>
<line x1="551.70" y1="297.00" x2="581.20" y2="297.00" stroke="#111" stroke-width="1.0" />
<polygon points="621.30,291.10 624.20,294.00 621.30,296.90 618.40,294.00" fill="#f88068" stroke="#f04a2a" stroke-width="1.0"/>
<text x="629.60" y="298.30" font-size="11.5" text-anchor="start" fill="#1a1a1a" >Severe</text>
<polygon points="621.30,309.00 624.20,311.90 621.30,314.80 618.40,311.90" fill="#a0a0a0" stroke="#555" stroke-width="1.0"/>
<text x="629.60" y="316.20" font-size="11.5" text-anchor="start" fill="#1a1a1a" >Mild</text>
<polygon points="396.67,324.56 399.37,327.26 396.67,329.96 393.97,327.26" fill="#cccccc" stroke="#6a6a6a" stroke-width="1.0"/>
<polygon points="393.54,329.53 396.24,332.23 393.54,334.93 390.84,332.23" fill="#cccccc" stroke="#6a6a6a" stroke-width="1.0"/>
<polygon points="400.90,333.21 403.60,335.91 400.90,338.61 398.20,335.91" fill="#cccccc" stroke="#6a6a6a" stroke-width="1.0"/>
<polygon points="394.46,335.05 397.16,337.75 394.46,340.45 391.76,337.75" fill="#cccccc" stroke="#6a6a6a" stroke-width="1.0"/>
<polygon points="403.66,335.97 406.36,338.67 403.66,341.37 400.96,338.67" fill="#cccccc" stroke="#6a6a6a" stroke-width="1.0"/>
<polygon points="390.77,339.66 393.47,342.36 390.77,345.06 388.07,342.36" fill="#cccccc" stroke="#6a6a6a" stroke-width="1.0"/>
<polygon points="398.14,340.58 400.84,343.28 398.14,345.98 395.44,343.28" fill="#cccccc" stroke="#6a6a6a" stroke-width="1.0"/>
<polygon points="402.74,344.26 405.44,346.96 402.74,349.66 400.04,346.96" fill="#cccccc" stroke="#6a6a6a" stroke-width="1.0"/>
<polygon points="393.54,346.10 396.24,348.80 393.54,351.50 390.84,348.80" fill="#cccccc" stroke="#6a6a6a" stroke-width="1.0"/>
<polygon points="388.93,349.79 391.63,352.49 388.93,355.19 386.23,352.49" fill="#cccccc" stroke="#6a6a6a" stroke-width="1.0"/>
<polygon points="396.30,348.87 399.00,351.57 396.30,354.27 393.60,351.57" fill="#cccccc" stroke="#6a6a6a" stroke-width="1.0"/>
<polygon points="386.17,352.55 388.87,355.25 386.17,357.95 383.47,355.25" fill="#cccccc" stroke="#6a6a6a" stroke-width="1.0"/>
<polygon points="403.66,354.39 406.36,357.09 403.66,359.79 400.96,357.09" fill="#cccccc" stroke="#6a6a6a" stroke-width="1.0"/>
<polygon points="392.62,356.23 395.32,358.93 392.62,361.63 389.92,358.93" fill="#cccccc" stroke="#6a6a6a" stroke-width="1.0"/>
<polygon points="399.98,357.15 402.68,359.85 399.98,362.55 397.28,359.85" fill="#cccccc" stroke="#6a6a6a" stroke-width="1.0"/>
<polygon points="396.30,360.84 399.00,363.54 396.30,366.24 393.60,363.54" fill="#ffffff" stroke="#808080" stroke-width="1.0"/>
<polygon points="391.69,362.68 394.39,365.38 391.69,368.08 388.99,365.38" fill="#ffffff" stroke="#808080" stroke-width="1.0"/>
<polygon points="399.06,364.52 401.76,367.22 399.06,369.92 396.36,367.22" fill="#ffffff" stroke="#808080" stroke-width="1.0"/>
<polygon points="396.30,367.28 399.00,369.98 396.30,372.68 393.60,369.98" fill="#ffffff" stroke="#808080" stroke-width="1.0"/>
<polygon points="393.54,370.96 396.24,373.66 393.54,376.36 390.84,373.66" fill="#ffffff" stroke="#808080" stroke-width="1.0"/>
<polygon points="398.14,371.89 400.84,374.59 398.14,377.29 395.44,374.59" fill="#ffffff" stroke="#808080" stroke-width="1.0"/>
<polygon points="394.46,374.65 397.16,377.35 394.46,380.05 391.76,377.35" fill="#ffffff" stroke="#808080" stroke-width="1.0"/>
<polygon points="396.67,383.49 399.37,386.19 396.67,388.89 393.97,386.19" fill="#ffffff" stroke="#808080" stroke-width="1.0"/>
<polygon points="396.67,403.75 399.37,406.45 396.67,409.15 393.97,406.45" fill="#ffffff" stroke="#808080" stroke-width="1.0"/>
<polygon points="390.77,352.55 393.47,355.25 390.77,357.95 388.07,355.25" fill="#cccccc" stroke="#6a6a6a" stroke-width="1.0"/>
<polygon points="398.51,352.55 401.21,355.25 398.51,357.95 395.81,355.25" fill="#cccccc" stroke="#6a6a6a" stroke-width="1.0"/>
<polygon points="388.56,355.31 391.26,358.01 388.56,360.71 385.86,358.01" fill="#cccccc" stroke="#6a6a6a" stroke-width="1.0"/>
<line x1="396.70" y1="344.20" x2="396.70" y2="365.40" stroke="#222" stroke-width="1.2" />
<line x1="392.00" y1="344.20" x2="401.50" y2="344.20" stroke="#222" stroke-width="1.2" />
<line x1="392.00" y1="365.40" x2="401.50" y2="365.40" stroke="#222" stroke-width="1.2" />
<line x1="384.30" y1="355.80" x2="409.20" y2="355.80" stroke="#111" stroke-width="2.2" />
<polygon points="423.92,325.29 426.62,327.99 423.92,330.69 421.22,327.99" fill="#f6907a" stroke="#ee4a2c" stroke-width="1.0"/>
<polygon points="434.05,324.56 436.75,327.26 434.05,329.96 431.35,327.26" fill="#f6907a" stroke="#ee4a2c" stroke-width="1.0"/>
<polygon points="444.18,326.40 446.88,329.10 444.18,331.80 441.48,329.10" fill="#f6907a" stroke="#ee4a2c" stroke-width="1.0"/>
<polygon points="434.05,333.21 436.75,335.91 434.05,338.61 431.35,335.91" fill="#f6907a" stroke="#ee4a2c" stroke-width="1.0"/>
<polygon points="434.05,336.89 436.75,339.59 434.05,342.29 431.35,339.59" fill="#f6907a" stroke="#ee4a2c" stroke-width="1.0"/>
<polygon points="423.92,347.02 426.62,349.72 423.92,352.42 421.22,349.72" fill="#f6907a" stroke="#ee4a2c" stroke-width="1.0"/>
<polygon points="434.05,346.10 436.75,348.80 434.05,351.50 431.35,348.80" fill="#f6907a" stroke="#ee4a2c" stroke-width="1.0"/>
<polygon points="444.18,349.42 446.88,352.12 444.18,354.82 441.48,352.12" fill="#f6907a" stroke="#ee4a2c" stroke-width="1.0"/>
<polygon points="434.05,355.86 436.75,358.56 434.05,361.26 431.35,358.56" fill="#f6907a" stroke="#ee4a2c" stroke-width="1.0"/>
<line x1="434.00" y1="329.10" x2="434.00" y2="352.10" stroke="#222" stroke-width="1.2" />
<line x1="429.00" y1="329.10" x2="439.00" y2="329.10" stroke="#222" stroke-width="1.2" />
<line x1="429.00" y1="352.10" x2="439.00" y2="352.10" stroke="#222" stroke-width="1.2" />
<line x1="422.10" y1="344.20" x2="446.40" y2="344.20" stroke="#111" stroke-width="2.2" />
<polygon points="471.55,327.13 474.25,329.83 471.55,332.53 468.85,329.83" fill="#cccccc" stroke="#6a6a6a" stroke-width="1.0"/>
<polygon points="469.89,337.63 472.59,340.33 469.89,343.03 467.19,340.33" fill="#cccccc" stroke="#6a6a6a" stroke-width="1.0"/>
<polygon points="463.81,343.71 466.51,346.41 463.81,349.11 461.11,346.41" fill="#cccccc" stroke="#6a6a6a" stroke-width="1.0"/>
<polygon points="472.10,342.33 474.80,345.03 472.10,347.73 469.40,345.03" fill="#cccccc" stroke="#6a6a6a" stroke-width="1.0"/>
<polygon points="477.62,342.33 480.32,345.03 477.62,347.73 474.92,345.03" fill="#cccccc" stroke="#6a6a6a" stroke-width="1.0"/>
<polygon points="461.05,352.00 463.75,354.70 461.05,357.40 458.35,354.70" fill="#cccccc" stroke="#6a6a6a" stroke-width="1.0"/>
<polygon points="467.96,347.85 470.66,350.55 467.96,353.25 465.26,350.55" fill="#cccccc" stroke="#6a6a6a" stroke-width="1.0"/>
<polygon points="476.24,347.85 478.94,350.55 476.24,353.25 473.54,350.55" fill="#cccccc" stroke="#6a6a6a" stroke-width="1.0"/>
<polygon points="480.39,352.00 483.09,354.70 480.39,357.40 477.69,354.70" fill="#cccccc" stroke="#6a6a6a" stroke-width="1.0"/>
<polygon points="458.29,357.52 460.99,360.22 458.29,362.92 455.59,360.22" fill="#cccccc" stroke="#6a6a6a" stroke-width="1.0"/>
<polygon points="465.19,356.14 467.89,358.84 465.19,361.54 462.49,358.84" fill="#cccccc" stroke="#6a6a6a" stroke-width="1.0"/>
<polygon points="472.10,356.14 474.80,358.84 472.10,361.54 469.40,358.84" fill="#cccccc" stroke="#6a6a6a" stroke-width="1.0"/>
<polygon points="479.01,357.52 481.71,360.22 479.01,362.92 476.31,360.22" fill="#cccccc" stroke="#6a6a6a" stroke-width="1.0"/>
<polygon points="481.77,360.28 484.47,362.98 481.77,365.68 479.07,362.98" fill="#ffffff" stroke="#808080" stroke-width="1.0"/>
<polygon points="474.86,364.43 477.56,367.13 474.86,369.83 472.16,367.13" fill="#ffffff" stroke="#808080" stroke-width="1.0"/>
<polygon points="469.34,369.95 472.04,372.65 469.34,375.35 466.64,372.65" fill="#ffffff" stroke="#808080" stroke-width="1.0"/>
<polygon points="473.48,369.95 476.18,372.65 473.48,375.35 470.78,372.65" fill="#ffffff" stroke="#808080" stroke-width="1.0"/>
<polygon points="471.55,379.62 474.25,382.32 471.55,385.02 468.85,382.32" fill="#ffffff" stroke="#808080" stroke-width="1.0"/>
<polygon points="471.55,389.29 474.25,391.99 471.55,394.69 468.85,391.99" fill="#ffffff" stroke="#808080" stroke-width="1.0"/>
<polygon points="471.55,403.93 474.25,406.63 471.55,409.33 468.85,406.63" fill="#ffffff" stroke="#808080" stroke-width="1.0"/>
<polygon points="463.81,360.28 466.51,362.98 463.81,365.68 461.11,362.98" fill="#ffffff" stroke="#808080" stroke-width="1.0"/>
<polygon points="474.86,352.00 477.56,354.70 474.86,357.40 472.16,354.70" fill="#cccccc" stroke="#6a6a6a" stroke-width="1.0"/>
<line x1="471.50" y1="349.20" x2="471.50" y2="367.00" stroke="#222" stroke-width="1.2" />
<line x1="466.50" y1="349.20" x2="476.50" y2="349.20" stroke="#222" stroke-width="1.2" />
<line x1="466.50" y1="367.00" x2="476.50" y2="367.00" stroke="#222" stroke-width="1.2" />
<line x1="459.70" y1="358.00" x2="483.70" y2="358.00" stroke="#111" stroke-width="2.2" />
<polygon points="505.25,332.66 507.95,335.36 505.25,338.06 502.55,335.36" fill="#f6907a" stroke="#ee4a2c" stroke-width="1.0"/>
<polygon points="512.15,329.90 514.85,332.60 512.15,335.30 509.45,332.60" fill="#f6907a" stroke="#ee4a2c" stroke-width="1.0"/>
<polygon points="505.25,342.33 507.95,345.03 505.25,347.73 502.55,345.03" fill="#f6907a" stroke="#ee4a2c" stroke-width="1.0"/>
<polygon points="512.15,340.39 514.85,343.09 512.15,345.79 509.45,343.09" fill="#f6907a" stroke="#ee4a2c" stroke-width="1.0"/>
<polygon points="505.25,352.00 507.95,354.70 505.25,357.40 502.55,354.70" fill="#f6907a" stroke="#ee4a2c" stroke-width="1.0"/>
<polygon points="498.34,355.31 501.04,358.01 498.34,360.71 495.64,358.01" fill="#f6907a" stroke="#ee4a2c" stroke-width="1.0"/>
<polygon points="512.15,356.14 514.85,358.84 512.15,361.54 509.45,358.84" fill="#f6907a" stroke="#ee4a2c" stroke-width="1.0"/>
<polygon points="519.06,357.52 521.76,360.22 519.06,362.92 516.36,360.22" fill="#f6907a" stroke="#ee4a2c" stroke-width="1.0"/>
<polygon points="508.56,403.93 511.26,406.63 508.56,409.33 505.86,406.63" fill="#ffffff" stroke="#ee4a2c" stroke-width="1.0"/>
<line x1="508.60" y1="340.30" x2="508.60" y2="359.70" stroke="#222" stroke-width="1.2" />
<line x1="503.60" y1="340.30" x2="513.60" y2="340.30" stroke="#222" stroke-width="1.2" />
<line x1="503.60" y1="359.70" x2="513.60" y2="359.70" stroke="#222" stroke-width="1.2" />
<line x1="497.00" y1="355.20" x2="521.30" y2="355.20" stroke="#111" stroke-width="2.2" />
<polygon points="546.13,313.32 548.83,316.02 546.13,318.72 543.43,316.02" fill="#cccccc" stroke="#6a6a6a" stroke-width="1.0"/>
<polygon points="546.13,329.07 548.83,331.77 546.13,334.47 543.43,331.77" fill="#cccccc" stroke="#6a6a6a" stroke-width="1.0"/>
<polygon points="539.78,352.00 542.48,354.70 539.78,357.40 537.08,354.70" fill="#cccccc" stroke="#6a6a6a" stroke-width="1.0"/>
<polygon points="546.69,352.00 549.39,354.70 546.69,357.40 543.99,354.70" fill="#cccccc" stroke="#6a6a6a" stroke-width="1.0"/>
<polygon points="553.59,352.00 556.29,354.70 553.59,357.40 550.89,354.70" fill="#cccccc" stroke="#6a6a6a" stroke-width="1.0"/>
<polygon points="538.40,358.07 541.10,360.77 538.40,363.47 535.70,360.77" fill="#cccccc" stroke="#6a6a6a" stroke-width="1.0"/>
<polygon points="545.30,358.07 548.00,360.77 545.30,363.47 542.60,360.77" fill="#cccccc" stroke="#6a6a6a" stroke-width="1.0"/>
<polygon points="552.76,358.07 555.46,360.77 552.76,363.47 550.06,360.77" fill="#cccccc" stroke="#6a6a6a" stroke-width="1.0"/>
<polygon points="535.64,363.05 538.34,365.75 535.64,368.45 532.94,365.75" fill="#ffffff" stroke="#808080" stroke-width="1.0"/>
<polygon points="556.35,364.43 559.05,367.13 556.35,369.83 553.65,367.13" fill="#ffffff" stroke="#808080" stroke-width="1.0"/>
<polygon points="541.16,368.57 543.86,371.27 541.16,373.97 538.46,371.27" fill="#ffffff" stroke="#808080" stroke-width="1.0"/>
<polygon points="546.69,368.57 549.39,371.27 546.69,373.97 543.99,371.27" fill="#ffffff" stroke="#808080" stroke-width="1.0"/>
<polygon points="553.59,369.95 556.29,372.65 553.59,375.35 550.89,372.65" fill="#ffffff" stroke="#808080" stroke-width="1.0"/>
<polygon points="538.40,374.10 541.10,376.80 538.40,379.50 535.70,376.80" fill="#ffffff" stroke="#808080" stroke-width="1.0"/>
<polygon points="545.30,375.48 548.00,378.18 545.30,380.88 542.60,378.18" fill="#ffffff" stroke="#808080" stroke-width="1.0"/>
<polygon points="552.21,374.10 554.91,376.80 552.21,379.50 549.51,376.80" fill="#ffffff" stroke="#808080" stroke-width="1.0"/>
<polygon points="541.16,380.17 543.86,382.87 541.16,385.57 538.46,382.87" fill="#ffffff" stroke="#808080" stroke-width="1.0"/>
<polygon points="549.45,380.17 552.15,382.87 549.45,385.57 546.75,382.87" fill="#ffffff" stroke="#808080" stroke-width="1.0"/>
<polygon points="537.02,389.29 539.72,391.99 537.02,394.69 534.32,391.99" fill="#ffffff" stroke="#808080" stroke-width="1.0"/>
<polygon points="542.54,389.29 545.24,391.99 542.54,394.69 539.84,391.99" fill="#ffffff" stroke="#808080" stroke-width="1.0"/>
<polygon points="548.07,389.29 550.77,391.99 548.07,394.69 545.37,391.99" fill="#ffffff" stroke="#808080" stroke-width="1.0"/>
<polygon points="554.97,389.29 557.67,391.99 554.97,394.69 552.27,391.99" fill="#ffffff" stroke="#808080" stroke-width="1.0"/>
<polygon points="546.13,403.93 548.83,406.63 546.13,409.33 543.43,406.63" fill="#ffffff" stroke="#808080" stroke-width="1.0"/>
<line x1="546.10" y1="356.00" x2="546.10" y2="385.00" stroke="#222" stroke-width="1.2" />
<line x1="541.00" y1="356.00" x2="551.00" y2="356.00" stroke="#222" stroke-width="1.2" />
<line x1="541.00" y1="385.00" x2="551.00" y2="385.00" stroke="#222" stroke-width="1.2" />
<line x1="534.30" y1="366.30" x2="558.30" y2="366.30" stroke="#111" stroke-width="2.2" />
<polygon points="583.98,301.72 586.68,304.42 583.98,307.12 581.28,304.42" fill="#f6907a" stroke="#ee4a2c" stroke-width="1.0"/>
<polygon points="583.98,339.84 586.68,342.54 583.98,345.24 581.28,342.54" fill="#f6907a" stroke="#ee4a2c" stroke-width="1.0"/>
<polygon points="573.76,347.85 576.46,350.55 573.76,353.25 571.06,350.55" fill="#f6907a" stroke="#ee4a2c" stroke-width="1.0"/>
<polygon points="593.65,352.55 596.35,355.25 593.65,357.95 590.95,355.25" fill="#f6907a" stroke="#ee4a2c" stroke-width="1.0"/>
<polygon points="573.76,366.36 576.46,369.06 573.76,371.76 571.06,369.06" fill="#ffffff" stroke="#ee4a2c" stroke-width="1.0"/>
<polygon points="583.98,365.81 586.68,368.51 583.98,371.21 581.28,368.51" fill="#ffffff" stroke="#ee4a2c" stroke-width="1.0"/>
<polygon points="593.65,369.95 596.35,372.65 593.65,375.35 590.95,372.65" fill="#ffffff" stroke="#ee4a2c" stroke-width="1.0"/>
<polygon points="583.98,374.65 586.68,377.35 583.98,380.05 581.28,377.35" fill="#ffffff" stroke="#ee4a2c" stroke-width="1.0"/>
<polygon points="583.98,389.29 586.68,391.99 583.98,394.69 581.28,391.99" fill="#ffffff" stroke="#ee4a2c" stroke-width="1.0"/>
<line x1="584.00" y1="348.60" x2="584.00" y2="373.50" stroke="#222" stroke-width="1.2" />
<line x1="579.00" y1="348.60" x2="589.00" y2="348.60" stroke="#222" stroke-width="1.2" />
<line x1="579.00" y1="373.50" x2="589.00" y2="373.50" stroke="#222" stroke-width="1.2" />
<line x1="571.50" y1="361.60" x2="595.90" y2="361.60" stroke="#111" stroke-width="2.2" />
<text x="1.00" y="475.80" font-size="20" text-anchor="start" font-weight="bold" fill="#000" >d.</text>
<text x="271.00" y="482.60" font-size="17" text-anchor="middle" font-weight="bold" fill="#000" >Mild</text>
<text x="529.00" y="482.60" font-size="17" text-anchor="middle" font-weight="bold" fill="#000" >Severe</text>
<line x1="62.20" y1="491.30" x2="62.20" y2="564.90" stroke="#111" stroke-width="1.6" />
<line x1="62.20" y1="569.50" x2="62.20" y2="644.00" stroke="#111" stroke-width="1.6" />
<line x1="61.60" y1="644.00" x2="596.70" y2="644.00" stroke="#111" stroke-width="1.3" />
<line x1="56.20" y1="564.90" x2="69.00" y2="564.90" stroke="#111" stroke-width="1.3" />
<line x1="56.20" y1="569.50" x2="69.00" y2="569.50" stroke="#111" stroke-width="1.3" />
<line x1="58.70" y1="504.20" x2="62.20" y2="504.20" stroke="#111" stroke-width="1.1" />
<text x="55.20" y="507.70" font-size="9.7" text-anchor="end" fill="#1a1a1a" >15000</text>
<line x1="58.70" y1="526.00" x2="62.20" y2="526.00" stroke="#111" stroke-width="1.1" />
<text x="55.20" y="529.50" font-size="9.7" text-anchor="end" fill="#1a1a1a" >10000</text>
<line x1="58.70" y1="547.70" x2="62.20" y2="547.70" stroke="#111" stroke-width="1.1" />
<text x="55.20" y="551.20" font-size="9.7" text-anchor="end" fill="#1a1a1a" >5000</text>
<line x1="58.70" y1="644.00" x2="62.20" y2="644.00" stroke="#111" stroke-width="1.1" />
<text x="55.20" y="647.50" font-size="9.7" text-anchor="end" fill="#1a1a1a" >0</text>
<line x1="58.70" y1="629.12" x2="62.20" y2="629.12" stroke="#111" stroke-width="1.1" />
<text x="55.20" y="632.62" font-size="9.7" text-anchor="end" fill="#1a1a1a" >200</text>
<line x1="58.70" y1="614.24" x2="62.20" y2="614.24" stroke="#111" stroke-width="1.1" />
<text x="55.20" y="617.74" font-size="9.7" text-anchor="end" fill="#1a1a1a" >400</text>
<line x1="58.70" y1="599.36" x2="62.20" y2="599.36" stroke="#111" stroke-width="1.1" />
<text x="55.20" y="602.86" font-size="9.7" text-anchor="end" fill="#1a1a1a" >600</text>
<line x1="58.70" y1="584.48" x2="62.20" y2="584.48" stroke="#111" stroke-width="1.1" />
<text x="55.20" y="587.98" font-size="9.7" text-anchor="end" fill="#1a1a1a" >800</text>
<line x1="58.70" y1="569.60" x2="62.20" y2="569.60" stroke="#111" stroke-width="1.1" />
<text x="55.20" y="573.10" font-size="9.7" text-anchor="end" fill="#1a1a1a" >1000</text>
<text x="25.50" y="561.00" font-size="10.6" text-anchor="middle" fill="#1a1a1a" transform="rotate(-90 25.50 561.00)">SFC/10<tspan font-size="6.8" dy="-4">6</tspan><tspan dy="4"> expanded PBMC</tspan></text>
<rect x="66.70" y="569.60" width="9.60" height="74.40" fill="#ff2a00"/>
<rect x="66.70" y="526.30" width="9.60" height="38.90" fill="#ff2a00"/>
<rect x="66.70" y="496.30" width="9.60" height="30.00" fill="#1a8a4e"/>
<rect x="66.70" y="491.00" width="9.60" height="5.30" fill="#1034f5"/>
<line x1="71.50" y1="644.00" x2="71.50" y2="646.80" stroke="#111" stroke-width="1.0" />
<text x="71.50" y="655.90" font-size="9.3" text-anchor="middle" fill="#1a1a1a" >21</text>
<rect x="81.43" y="569.60" width="9.60" height="74.40" fill="#ff2a00"/>
<rect x="81.43" y="555.40" width="9.60" height="9.80" fill="#ff2a00"/>
<rect x="81.43" y="547.80" width="9.60" height="7.60" fill="#1a8a4e"/>
<rect x="81.43" y="517.00" width="9.60" height="30.80" fill="#ff44ff"/>
<rect x="81.43" y="504.80" width="9.60" height="12.20" fill="#1034f5"/>
<rect x="81.43" y="498.30" width="9.60" height="6.50" fill="#474747"/>
<rect x="81.43" y="495.00" width="9.60" height="3.30" fill="#9d9d9d"/>
<rect x="81.43" y="493.70" width="9.60" height="1.30" fill="#bdbdbd"/>
<line x1="86.23" y1="644.00" x2="86.23" y2="646.80" stroke="#111" stroke-width="1.0" />
<text x="86.23" y="655.90" font-size="9.3" text-anchor="middle" fill="#1a1a1a" >25</text>
<rect x="96.16" y="569.60" width="9.60" height="74.40" fill="#ff2a00"/>
<rect x="96.16" y="552.00" width="9.60" height="13.20" fill="#ff2a00"/>
<rect x="96.16" y="543.20" width="9.60" height="8.80" fill="#1a8a4e"/>
<rect x="96.16" y="536.40" width="9.60" height="6.80" fill="#ff44ff"/>
<rect x="96.16" y="534.60" width="9.60" height="1.80" fill="#1034f5"/>
<rect x="96.16" y="533.70" width="9.60" height="0.90" fill="#9d9d9d"/>
<line x1="100.96" y1="644.00" x2="100.96" y2="646.80" stroke="#111" stroke-width="1.0" />
<text x="100.96" y="655.90" font-size="9.3" text-anchor="middle" fill="#1a1a1a" >5</text>
<rect x="110.89" y="569.60" width="9.60" height="74.40" fill="#ff2a00"/>
<rect x="110.89" y="559.00" width="9.60" height="6.20" fill="#ff2a00"/>
<rect x="110.89" y="545.90" width="9.60" height="13.10" fill="#1a8a4e"/>
<rect x="110.89" y="544.60" width="9.60" height="1.30" fill="#ff44ff"/>
<rect x="110.89" y="543.30" width="9.60" height="1.30" fill="#1034f5"/>
<line x1="115.69" y1="644.00" x2="115.69" y2="646.80" stroke="#111" stroke-width="1.0" />
<text x="115.69" y="655.90" font-size="9.3" text-anchor="middle" fill="#1a1a1a" >28</text>
<rect x="125.62" y="569.60" width="9.60" height="74.40" fill="#ff2a00"/>
<rect x="125.62" y="553.30" width="9.60" height="11.90" fill="#ff2a00"/>
<rect x="125.62" y="549.60" width="9.60" height="3.70" fill="#1a8a4e"/>
<rect x="125.62" y="547.70" width="9.60" height="1.90" fill="#ff44ff"/>
<rect x="125.62" y="545.50" width="9.60" height="2.20" fill="#1034f5"/>
<line x1="130.42" y1="644.00" x2="130.42" y2="646.80" stroke="#111" stroke-width="1.0" />
<text x="130.42" y="655.90" font-size="9.3" text-anchor="middle" fill="#1a1a1a" >29</text>
<rect x="140.35" y="602.34" width="9.60" height="41.66" fill="#ff2a00"/>
<rect x="140.35" y="569.60" width="9.60" height="32.74" fill="#1a8a4e"/>
<rect x="140.35" y="556.70" width="9.60" height="8.50" fill="#1a8a4e"/>
<rect x="140.35" y="552.70" width="9.60" height="4.00" fill="#1034f5"/>
<rect x="140.35" y="548.40" width="9.60" height="4.30" fill="#474747"/>
<line x1="145.15" y1="644.00" x2="145.15" y2="646.80" stroke="#111" stroke-width="1.0" />
<text x="145.15" y="655.90" font-size="9.3" text-anchor="middle" fill="#1a1a1a" >30</text>
<rect x="155.08" y="569.60" width="9.60" height="74.40" fill="#ff2a00"/>
<rect x="155.08" y="564.50" width="9.60" height="0.70" fill="#ff2a00"/>
<rect x="155.08" y="559.00" width="9.60" height="5.50" fill="#1a8a4e"/>
<rect x="155.08" y="556.00" width="9.60" height="3.00" fill="#1034f5"/>
<rect x="155.08" y="549.60" width="9.60" height="6.40" fill="#9d9d9d"/>
<line x1="159.88" y1="644.00" x2="159.88" y2="646.80" stroke="#111" stroke-width="1.0" />
<text x="159.88" y="655.90" font-size="9.3" text-anchor="middle" fill="#1a1a1a" >23</text>
<rect x="169.81" y="600.85" width="9.60" height="43.15" fill="#ff2a00"/>
<rect x="169.81" y="569.60" width="9.60" height="31.25" fill="#1a8a4e"/>
<rect x="169.81" y="558.40" width="9.60" height="6.80" fill="#1a8a4e"/>
<rect x="169.81" y="555.00" width="9.60" height="3.40" fill="#474747"/>
<line x1="174.61" y1="644.00" x2="174.61" y2="646.80" stroke="#111" stroke-width="1.0" />
<text x="174.61" y="655.90" font-size="9.3" text-anchor="middle" fill="#1a1a1a" >12</text>
<rect x="184.54" y="569.60" width="9.60" height="74.40" fill="#ff2a00"/>
<rect x="184.54" y="562.70" width="9.60" height="2.50" fill="#ff2a00"/>
<rect x="184.54" y="555.50" width="9.60" height="7.20" fill="#1a8a4e"/>
<line x1="189.34" y1="644.00" x2="189.34" y2="646.80" stroke="#111" stroke-width="1.0" />
<text x="189.34" y="655.90" font-size="9.3" text-anchor="middle" fill="#1a1a1a" >36</text>
<rect x="199.27" y="574.81" width="9.60" height="69.19" fill="#ff2a00"/>
<rect x="199.27" y="569.60" width="9.60" height="5.21" fill="#1a8a4e"/>
<rect x="199.27" y="555.50" width="9.60" height="9.70" fill="#1a8a4e"/>
<line x1="204.07" y1="644.00" x2="204.07" y2="646.80" stroke="#111" stroke-width="1.0" />
<text x="204.07" y="655.90" font-size="9.3" text-anchor="middle" fill="#1a1a1a" >20</text>
<rect x="214.00" y="632.10" width="9.60" height="11.90" fill="#ff2a00"/>
<rect x="214.00" y="569.60" width="9.60" height="62.50" fill="#1a8a4e"/>
<rect x="214.00" y="559.00" width="9.60" height="6.20" fill="#1034f5"/>
<line x1="218.80" y1="644.00" x2="218.80" y2="646.80" stroke="#111" stroke-width="1.0" />
<text x="218.80" y="655.90" font-size="9.3" text-anchor="middle" fill="#1a1a1a" >4</text>
<rect x="228.73" y="569.60" width="9.60" height="74.40" fill="#ff2a00"/>
<rect x="228.73" y="561.50" width="9.60" height="3.70" fill="#1a8a4e"/>
<line x1="233.53" y1="644.00" x2="233.53" y2="646.80" stroke="#111" stroke-width="1.0" />
<text x="233.53" y="655.90" font-size="9.3" text-anchor="middle" fill="#1a1a1a" >14</text>
<rect x="243.46" y="577.04" width="9.60" height="66.96" fill="#ff2a00"/>
<rect x="243.46" y="569.60" width="9.60" height="7.44" fill="#1a8a4e"/>
<rect x="243.46" y="562.20" width="9.60" height="3.00" fill="#1a8a4e"/>
<rect x="243.46" y="561.00" width="9.60" height="1.20" fill="#ff44ff"/>
<line x1="248.26" y1="644.00" x2="248.26" y2="646.80" stroke="#111" stroke-width="1.0" />
<text x="248.26" y="655.90" font-size="9.3" text-anchor="middle" fill="#1a1a1a" >2</text>
<rect x="258.19" y="588.94" width="9.60" height="55.06" fill="#ff2a00"/>
<rect x="258.19" y="577.78" width="9.60" height="11.16" fill="#1a8a4e"/>
<rect x="258.19" y="569.60" width="9.60" height="8.18" fill="#ff44ff"/>
<rect x="258.19" y="563.00" width="9.60" height="2.20" fill="#1034f5"/>
<line x1="262.99" y1="644.00" x2="262.99" y2="646.80" stroke="#111" stroke-width="1.0" />
<text x="262.99" y="655.90" font-size="9.3" text-anchor="middle" fill="#1a1a1a" >27</text>
<rect x="272.92" y="569.60" width="9.60" height="74.40" fill="#ff2a00"/>
<rect x="272.92" y="564.20" width="9.60" height="1.00" fill="#777777"/>
<line x1="277.72" y1="644.00" x2="277.72" y2="646.80" stroke="#111" stroke-width="1.0" />
<text x="277.72" y="655.90" font-size="9.3" text-anchor="middle" fill="#1a1a1a" >7</text>
<rect x="287.65" y="628.38" width="9.60" height="15.62" fill="#ff2a00"/>
<rect x="287.65" y="614.24" width="9.60" height="14.14" fill="#1a8a4e"/>
<rect x="287.65" y="611.26" width="9.60" height="2.98" fill="#ff44ff"/>
<rect x="287.65" y="569.60" width="9.60" height="41.66" fill="#1034f5"/>
<rect x="287.65" y="564.20" width="9.60" height="1.00" fill="#1034f5"/>
<line x1="292.45" y1="644.00" x2="292.45" y2="646.80" stroke="#111" stroke-width="1.0" />
<text x="292.45" y="655.90" font-size="9.3" text-anchor="middle" fill="#1a1a1a" >1</text>
<rect x="302.38" y="629.12" width="9.60" height="14.88" fill="#ff2a00"/>
<rect x="302.38" y="617.96" width="9.60" height="11.16" fill="#1a8a4e"/>
<rect x="302.38" y="569.60" width="9.60" height="48.36" fill="#1034f5"/>
<rect x="302.38" y="564.20" width="9.60" height="1.00" fill="#1034f5"/>
<line x1="307.18" y1="644.00" x2="307.18" y2="646.80" stroke="#111" stroke-width="1.0" />
<text x="307.18" y="655.90" font-size="9.3" text-anchor="middle" fill="#1a1a1a" >3</text>
<rect x="317.11" y="610.15" width="9.60" height="33.85" fill="#ff2a00"/>
<rect x="317.11" y="608.66" width="9.60" height="1.49" fill="#1a8a4e"/>
<line x1="321.91" y1="644.00" x2="321.91" y2="646.80" stroke="#111" stroke-width="1.0" />
<text x="321.91" y="655.90" font-size="9.3" text-anchor="middle" fill="#1a1a1a" >18</text>
<rect x="331.84" y="635.07" width="9.60" height="8.93" fill="#ff2a00"/>
<rect x="331.84" y="608.66" width="9.60" height="26.41" fill="#1a8a4e"/>
<line x1="336.64" y1="644.00" x2="336.64" y2="646.80" stroke="#111" stroke-width="1.0" />
<text x="336.64" y="655.90" font-size="9.3" text-anchor="middle" fill="#1a1a1a" >19</text>
<rect x="346.57" y="610.52" width="9.60" height="33.48" fill="#ff2a00"/>
<rect x="346.57" y="609.40" width="9.60" height="1.12" fill="#1a8a4e"/>
<line x1="351.37" y1="644.00" x2="351.37" y2="646.80" stroke="#111" stroke-width="1.0" />
<text x="351.37" y="655.90" font-size="9.3" text-anchor="middle" fill="#1a1a1a" >11</text>
<rect x="361.30" y="639.91" width="9.60" height="4.09" fill="#ff2a00"/>
<rect x="361.30" y="637.30" width="9.60" height="2.60" fill="#1a8a4e"/>
<rect x="361.30" y="627.26" width="9.60" height="10.04" fill="#9d9d9d"/>
<line x1="366.10" y1="644.00" x2="366.10" y2="646.80" stroke="#111" stroke-width="1.0" />
<text x="366.10" y="655.90" font-size="9.3" text-anchor="middle" fill="#1a1a1a" >35</text>
<rect x="376.03" y="634.70" width="9.60" height="9.30" fill="#ff44ff"/>
<rect x="376.03" y="634.18" width="9.60" height="0.52" fill="#474747"/>
<line x1="380.83" y1="644.00" x2="380.83" y2="646.80" stroke="#111" stroke-width="1.0" />
<text x="380.83" y="655.90" font-size="9.3" text-anchor="middle" fill="#1a1a1a" >33</text>
<rect x="390.76" y="642.14" width="9.60" height="1.86" fill="#ff2a00"/>
<rect x="390.76" y="638.05" width="9.60" height="4.09" fill="#1034f5"/>
<line x1="395.56" y1="644.00" x2="395.56" y2="646.80" stroke="#111" stroke-width="1.0" />
<text x="395.56" y="655.90" font-size="9.3" text-anchor="middle" fill="#1a1a1a" >15</text>
<rect x="405.49" y="643.26" width="9.60" height="0.74" fill="#ff2a00"/>
<rect x="405.49" y="638.79" width="9.60" height="4.46" fill="#1a8a4e"/>
<line x1="410.29" y1="644.00" x2="410.29" y2="646.80" stroke="#111" stroke-width="1.0" />
<text x="410.29" y="655.90" font-size="9.3" text-anchor="middle" fill="#1a1a1a" >37</text>
<rect x="420.22" y="639.16" width="9.60" height="4.84" fill="#474747"/>
<line x1="425.02" y1="644.00" x2="425.02" y2="646.80" stroke="#111" stroke-width="1.0" />
<text x="425.02" y="655.90" font-size="9.3" text-anchor="middle" fill="#1a1a1a" >38</text>
<rect x="434.95" y="641.40" width="9.60" height="2.60" fill="#474747"/>
<line x1="439.75" y1="644.00" x2="439.75" y2="646.80" stroke="#111" stroke-width="1.0" />
<text x="439.75" y="655.90" font-size="9.3" text-anchor="middle" fill="#1a1a1a" >8</text>
<rect x="449.68" y="569.60" width="9.60" height="74.40" fill="#ff2a00"/>
<rect x="449.68" y="559.80" width="9.60" height="5.40" fill="#ff2a00"/>
<rect x="449.68" y="548.90" width="9.60" height="10.90" fill="#1a8a4e"/>
<rect x="449.68" y="523.60" width="9.60" height="25.30" fill="#ff44ff"/>
<rect x="449.68" y="521.20" width="9.60" height="2.40" fill="#474747"/>
<line x1="454.48" y1="644.00" x2="454.48" y2="646.80" stroke="#111" stroke-width="1.0" />
<text x="454.48" y="655.90" font-size="9.3" text-anchor="middle" fill="#1a1a1a" >32</text>
<rect x="464.41" y="569.60" width="9.60" height="74.40" fill="#ff2a00"/>
<rect x="464.41" y="556.00" width="9.60" height="9.20" fill="#ff2a00"/>
<rect x="464.41" y="544.80" width="9.60" height="11.20" fill="#1a8a4e"/>
<rect x="464.41" y="543.50" width="9.60" height="1.30" fill="#9d9d9d"/>
<rect x="464.41" y="538.00" width="9.60" height="5.50" fill="#474747"/>
<line x1="469.21" y1="644.00" x2="469.21" y2="646.80" stroke="#111" stroke-width="1.0" />
<text x="469.21" y="655.90" font-size="9.3" text-anchor="middle" fill="#1a1a1a" >24</text>
<rect x="479.14" y="569.60" width="9.60" height="74.40" fill="#ff2a00"/>
<rect x="479.14" y="556.10" width="9.60" height="9.10" fill="#ff2a00"/>
<rect x="479.14" y="546.50" width="9.60" height="9.60" fill="#1a8a4e"/>
<line x1="483.94" y1="644.00" x2="483.94" y2="646.80" stroke="#111" stroke-width="1.0" />
<text x="483.94" y="655.90" font-size="9.3" text-anchor="middle" fill="#1a1a1a" >26</text>
<rect x="493.87" y="589.69" width="9.60" height="54.31" fill="#ff2a00"/>
<rect x="493.87" y="569.60" width="9.60" height="20.09" fill="#1a8a4e"/>
<rect x="493.87" y="547.30" width="9.60" height="17.90" fill="#1a8a4e"/>
<line x1="498.67" y1="644.00" x2="498.67" y2="646.80" stroke="#111" stroke-width="1.0" />
<text x="498.67" y="655.90" font-size="9.3" text-anchor="middle" fill="#1a1a1a" >17</text>
<rect x="508.60" y="569.60" width="9.60" height="74.40" fill="#ff2a00"/>
<rect x="508.60" y="558.20" width="9.60" height="7.00" fill="#ff2a00"/>
<rect x="508.60" y="556.10" width="9.60" height="2.10" fill="#1a8a4e"/>
<line x1="513.40" y1="644.00" x2="513.40" y2="646.80" stroke="#111" stroke-width="1.0" />
<text x="513.40" y="655.90" font-size="9.3" text-anchor="middle" fill="#1a1a1a" >22</text>
<rect x="523.33" y="569.60" width="9.60" height="74.40" fill="#ff2a00"/>
<rect x="523.33" y="562.50" width="9.60" height="2.70" fill="#ff2a00"/>
<rect x="523.33" y="560.70" width="9.60" height="1.80" fill="#474747"/>
<line x1="528.13" y1="644.00" x2="528.13" y2="646.80" stroke="#111" stroke-width="1.0" />
<text x="528.13" y="655.90" font-size="9.3" text-anchor="middle" fill="#1a1a1a" >13</text>
<rect x="538.06" y="569.60" width="9.60" height="74.40" fill="#ff2a00"/>
<rect x="538.06" y="563.70" width="9.60" height="1.50" fill="#ff2a00"/>
<line x1="542.86" y1="644.00" x2="542.86" y2="646.80" stroke="#111" stroke-width="1.0" />
<text x="542.86" y="655.90" font-size="9.3" text-anchor="middle" fill="#1a1a1a" >10</text>
<rect x="552.79" y="591.92" width="9.60" height="52.08" fill="#ff2a00"/>
<rect x="552.79" y="589.69" width="9.60" height="2.23" fill="#fff200"/>
<rect x="552.79" y="575.92" width="9.60" height="13.76" fill="#ff44ff"/>
<rect x="552.79" y="569.60" width="9.60" height="6.32" fill="#1034f5"/>
<rect x="552.79" y="564.20" width="9.60" height="1.00" fill="#1034f5"/>
<line x1="557.59" y1="644.00" x2="557.59" y2="646.80" stroke="#111" stroke-width="1.0" />
<text x="557.59" y="655.90" font-size="9.3" text-anchor="middle" fill="#1a1a1a" >34</text>
<rect x="567.52" y="598.99" width="9.60" height="45.01" fill="#ff2a00"/>
<rect x="567.52" y="585.22" width="9.60" height="13.76" fill="#1a8a4e"/>
<rect x="567.52" y="569.60" width="9.60" height="15.62" fill="#1034f5"/>
<rect x="567.52" y="564.20" width="9.60" height="1.00" fill="#1034f5"/>
<line x1="572.32" y1="644.00" x2="572.32" y2="646.80" stroke="#111" stroke-width="1.0" />
<text x="572.32" y="655.90" font-size="9.3" text-anchor="middle" fill="#1a1a1a" >6</text>
<rect x="582.25" y="624.66" width="9.60" height="19.34" fill="#ff2a00"/>
<rect x="582.25" y="620.94" width="9.60" height="3.72" fill="#1a8a4e"/>
<rect x="582.25" y="618.70" width="9.60" height="2.23" fill="#fff200"/>
<rect x="582.25" y="596.01" width="9.60" height="22.69" fill="#ff44ff"/>
<rect x="582.25" y="587.83" width="9.60" height="8.18" fill="#9d9d9d"/>
<line x1="587.05" y1="644.00" x2="587.05" y2="646.80" stroke="#111" stroke-width="1.0" />
<text x="587.05" y="655.90" font-size="9.3" text-anchor="middle" fill="#1a1a1a" >16</text>
<line x1="445.70" y1="467.70" x2="445.70" y2="644.00" stroke="#333" stroke-width="1.0" stroke-dasharray="1.5,1.5"/>
<text x="328.50" y="676.80" font-size="16" text-anchor="middle" fill="#1a1a1a" >Donor ID</text>
<rect x="625.30" y="475.50" width="11.00" height="8.60" fill="#ff2a00"/>
<text x="644.20" y="484.50" font-size="13" text-anchor="start" fill="#1a1a1a" >S</text>
<rect x="625.30" y="492.12" width="11.00" height="8.60" fill="#1a8a4e"/>
<text x="644.20" y="501.12" font-size="13" text-anchor="start" fill="#1a1a1a" >N</text>
<rect x="625.30" y="508.74" width="11.00" height="8.60" fill="#fff200"/>
<text x="644.20" y="517.74" font-size="13" text-anchor="start" fill="#1a1a1a" >E</text>
<rect x="625.30" y="525.36" width="11.00" height="8.60" fill="#ff44ff"/>
<text x="644.20" y="534.36" font-size="13" text-anchor="start" fill="#1a1a1a" >M</text>
<rect x="625.30" y="541.98" width="11.00" height="8.60" fill="#1034f5"/>
<text x="644.20" y="550.98" font-size="13" text-anchor="start" fill="#1a1a1a" >ORF3a</text>
<rect x="625.30" y="558.60" width="11.00" height="8.60" fill="#111111"/>
<text x="644.20" y="567.60" font-size="13" text-anchor="start" fill="#1a1a1a" >ORF6</text>
<rect x="625.30" y="575.22" width="11.00" height="8.60" fill="#474747"/>
<text x="644.20" y="584.22" font-size="13" text-anchor="start" fill="#1a1a1a" >ORF7a</text>
<rect x="625.30" y="591.84" width="11.00" height="8.60" fill="#777777"/>
<text x="644.20" y="600.84" font-size="13" text-anchor="start" fill="#1a1a1a" >ORF7b</text>
<rect x="625.30" y="608.46" width="11.00" height="8.60" fill="#9d9d9d"/>
<text x="644.20" y="617.46" font-size="13" text-anchor="start" fill="#1a1a1a" >ORF8</text>
<rect x="625.30" y="625.08" width="11.00" height="8.60" fill="#bdbdbd"/>
<text x="644.20" y="634.08" font-size="13" text-anchor="start" fill="#1a1a1a" >ORF9b</text>
<rect x="625.30" y="641.70" width="11.00" height="8.60" fill="#dadada"/>
<text x="644.20" y="650.70" font-size="13" text-anchor="start" fill="#1a1a1a" >ORF10</text>
<text x="0.50" y="715.30" font-size="20" text-anchor="start" font-weight="bold" fill="#000" >e.</text>
<line x1="61.80" y1="754.50" x2="61.80" y2="896.20" stroke="#111" stroke-width="1.3" />
<line x1="61.20" y1="896.20" x2="239.50" y2="896.20" stroke="#111" stroke-width="1.5" />
<line x1="58.60" y1="896.20" x2="61.80" y2="896.20" stroke="#111" stroke-width="1.1" />
<text x="57.50" y="900.50" font-size="9.5" text-anchor="end" fill="#1a1a1a">10<tspan font-size="7.3" dy="-3.4">0</tspan></text>
<line x1="58.60" y1="866.00" x2="61.80" y2="866.00" stroke="#111" stroke-width="1.1" />
<text x="57.50" y="870.30" font-size="9.5" text-anchor="end" fill="#1a1a1a">10<tspan font-size="7.3" dy="-3.4">1</tspan></text>
<line x1="58.60" y1="835.80" x2="61.80" y2="835.80" stroke="#111" stroke-width="1.1" />
<text x="57.50" y="840.10" font-size="9.5" text-anchor="end" fill="#1a1a1a">10<tspan font-size="7.3" dy="-3.4">2</tspan></text>
<line x1="58.60" y1="805.60" x2="61.80" y2="805.60" stroke="#111" stroke-width="1.1" />
<text x="57.50" y="809.90" font-size="9.5" text-anchor="end" fill="#1a1a1a">10<tspan font-size="7.3" dy="-3.4">3</tspan></text>
<line x1="58.60" y1="775.40" x2="61.80" y2="775.40" stroke="#111" stroke-width="1.1" />
<text x="57.50" y="779.70" font-size="9.5" text-anchor="end" fill="#1a1a1a">10<tspan font-size="7.3" dy="-3.4">4</tspan></text>
<text x="23.50" y="827.30" font-size="10" text-anchor="middle" fill="#1a1a1a" transform="rotate(-90 23.50 827.30)">SFC/10<tspan font-size="6.5" dy="-4">6</tspan><tspan dy="4"> cells</tspan></text>
<line x1="105.20" y1="715.00" x2="105.20" y2="896.20" stroke="#333" stroke-width="1.0" stroke-dasharray="1.5,1.5"/>
<line x1="149.50" y1="715.00" x2="149.50" y2="896.20" stroke="#333" stroke-width="1.0" stroke-dasharray="1.5,1.5"/>
<line x1="193.80" y1="715.00" x2="193.80" y2="896.20" stroke="#333" stroke-width="1.0" stroke-dasharray="1.5,1.5"/>
<text x="82.70" y="729.00" font-size="18.5" text-anchor="middle" font-weight="bold" fill="#000" >S</text>
<text x="127.90" y="729.00" font-size="18.5" text-anchor="middle" font-weight="bold" fill="#000" >N</text>
<text x="167.40" y="729.00" font-size="18.5" text-anchor="middle" font-weight="bold" fill="#000" >M</text>
<text x="213.00" y="729.00" font-size="18.5" text-anchor="middle" font-weight="bold" fill="#000" >3a</text>
<text x="82.20" y="742.00" font-size="8.5" text-anchor="middle" fill="#1a1a1a" >p&lt;0.0001</text>
<line x1="74.20" y1="748.40" x2="97.90" y2="748.40" stroke="#111" stroke-width="1.0" />
<text x="126.80" y="742.00" font-size="8.5" text-anchor="middle" fill="#1a1a1a" >p&lt;0.0001</text>
<line x1="118.40" y1="748.40" x2="142.00" y2="748.40" stroke="#111" stroke-width="1.0" />
<text x="168.80" y="742.00" font-size="8.5" text-anchor="middle" fill="#1a1a1a" >p=0.002</text>
<line x1="158.00" y1="748.40" x2="180.00" y2="748.40" stroke="#111" stroke-width="1.0" />
<text x="216.30" y="742.00" font-size="8.5" text-anchor="middle" fill="#1a1a1a" >p&lt;0.0001</text>
<line x1="202.00" y1="748.40" x2="225.80" y2="748.40" stroke="#111" stroke-width="1.0" />
<line x1="75.50" y1="818.29" x2="96.80" y2="789.22" stroke="#111" stroke-width="0.8" stroke-dasharray="2,1"/>
<line x1="75.50" y1="818.29" x2="96.80" y2="775.40" stroke="#111" stroke-width="0.8" stroke-dasharray="2,1"/>
<line x1="75.50" y1="820.32" x2="96.80" y2="802.22" stroke="#111" stroke-width="0.8" stroke-dasharray="2,1"/>
<line x1="75.50" y1="820.32" x2="96.80" y2="786.62" stroke="#111" stroke-width="0.8" stroke-dasharray="2,1"/>
<line x1="75.50" y1="822.35" x2="96.80" y2="786.62" stroke="#111" stroke-width="0.8" stroke-dasharray="2,1"/>
<line x1="75.50" y1="822.35" x2="96.80" y2="807.43" stroke="#111" stroke-width="0.8" stroke-dasharray="2,1"/>
<line x1="75.50" y1="824.38" x2="96.80" y2="791.82" stroke="#111" stroke-width="0.8" stroke-dasharray="2,1"/>
<line x1="75.50" y1="826.40" x2="96.80" y2="810.03" stroke="#111" stroke-width="0.8" stroke-dasharray="2,1"/>
<line x1="75.50" y1="826.40" x2="96.80" y2="775.40" stroke="#111" stroke-width="0.8" stroke-dasharray="2,1"/>
<line x1="75.50" y1="828.43" x2="96.80" y2="794.42" stroke="#111" stroke-width="0.8" stroke-dasharray="2,1"/>
<line x1="75.50" y1="828.43" x2="96.80" y2="797.02" stroke="#111" stroke-width="0.8" stroke-dasharray="2,1"/>
<line x1="75.50" y1="830.46" x2="96.80" y2="812.63" stroke="#111" stroke-width="0.8" stroke-dasharray="2,1"/>
<line x1="75.50" y1="832.49" x2="96.80" y2="799.62" stroke="#111" stroke-width="0.8" stroke-dasharray="2,1"/>
<line x1="75.50" y1="832.49" x2="96.80" y2="799.62" stroke="#111" stroke-width="0.8" stroke-dasharray="2,1"/>
<line x1="75.50" y1="834.52" x2="96.80" y2="791.82" stroke="#111" stroke-width="0.8" stroke-dasharray="2,1"/>
<line x1="75.50" y1="834.52" x2="96.80" y2="812.63" stroke="#111" stroke-width="0.8" stroke-dasharray="2,1"/>
<line x1="75.50" y1="836.55" x2="96.80" y2="794.42" stroke="#111" stroke-width="0.8" stroke-dasharray="2,1"/>
<line x1="75.50" y1="838.57" x2="96.80" y2="804.83" stroke="#111" stroke-width="0.8" stroke-dasharray="2,1"/>
<line x1="75.50" y1="838.57" x2="96.80" y2="824.32" stroke="#111" stroke-width="0.8" stroke-dasharray="2,1"/>
<line x1="75.50" y1="840.60" x2="96.80" y2="807.43" stroke="#111" stroke-width="0.8" stroke-dasharray="2,1"/>
<line x1="75.50" y1="840.60" x2="96.80" y2="804.83" stroke="#111" stroke-width="0.8" stroke-dasharray="2,1"/>
<line x1="75.50" y1="842.63" x2="96.80" y2="815.23" stroke="#111" stroke-width="0.8" stroke-dasharray="2,1"/>
<line x1="75.50" y1="842.63" x2="96.80" y2="831.39" stroke="#111" stroke-width="0.8" stroke-dasharray="2,1"/>
<line x1="75.50" y1="844.66" x2="96.80" y2="815.23" stroke="#111" stroke-width="0.8" stroke-dasharray="2,1"/>
<line x1="75.50" y1="846.69" x2="96.80" y2="839.57" stroke="#111" stroke-width="0.8" stroke-dasharray="2,1"/>
<line x1="75.50" y1="846.69" x2="96.80" y2="844.13" stroke="#111" stroke-width="0.8" stroke-dasharray="2,1"/>
<line x1="75.50" y1="848.72" x2="96.80" y2="817.62" stroke="#111" stroke-width="0.8" stroke-dasharray="2,1"/>
<line x1="75.50" y1="848.72" x2="96.80" y2="824.32" stroke="#111" stroke-width="0.8" stroke-dasharray="2,1"/>
<line x1="75.50" y1="850.74" x2="96.80" y2="827.38" stroke="#111" stroke-width="0.8" stroke-dasharray="2,1"/>
<line x1="75.50" y1="857.24" x2="96.80" y2="844.13" stroke="#111" stroke-width="0.8" stroke-dasharray="2,1"/>
<line x1="75.50" y1="857.24" x2="96.80" y2="834.55" stroke="#111" stroke-width="0.8" stroke-dasharray="2,1"/>
<line x1="75.50" y1="865.74" x2="96.80" y2="852.78" stroke="#111" stroke-width="0.8" stroke-dasharray="2,1"/>
<line x1="75.50" y1="865.74" x2="96.80" y2="834.55" stroke="#111" stroke-width="0.8" stroke-dasharray="2,1"/>
<line x1="75.50" y1="882.01" x2="96.80" y2="831.39" stroke="#111" stroke-width="0.8" stroke-dasharray="2,1"/>
<circle cx="75.50" cy="818.29" r="2.6" fill="#e8321a" stroke="#300800" stroke-width="0.8"/>
<circle cx="75.50" cy="820.32" r="2.6" fill="#e8321a" stroke="#300800" stroke-width="0.8"/>
<circle cx="75.50" cy="822.35" r="2.6" fill="#e8321a" stroke="#300800" stroke-width="0.8"/>
<circle cx="75.50" cy="824.38" r="2.6" fill="#e8321a" stroke="#300800" stroke-width="0.8"/>
<circle cx="75.50" cy="826.40" r="2.6" fill="#e8321a" stroke="#300800" stroke-width="0.8"/>
<circle cx="75.50" cy="828.43" r="2.6" fill="#e8321a" stroke="#300800" stroke-width="0.8"/>
<circle cx="75.50" cy="830.46" r="2.6" fill="#e8321a" stroke="#300800" stroke-width="0.8"/>
<circle cx="75.50" cy="832.49" r="2.6" fill="#e8321a" stroke="#300800" stroke-width="0.8"/>
<circle cx="75.50" cy="834.52" r="2.6" fill="#e8321a" stroke="#300800" stroke-width="0.8"/>
<circle cx="75.50" cy="836.55" r="2.6" fill="#e8321a" stroke="#300800" stroke-width="0.8"/>
<circle cx="75.50" cy="838.57" r="2.6" fill="#e8321a" stroke="#300800" stroke-width="0.8"/>
<circle cx="75.50" cy="840.60" r="2.6" fill="#e8321a" stroke="#300800" stroke-width="0.8"/>
<circle cx="75.50" cy="842.63" r="2.6" fill="#e8321a" stroke="#300800" stroke-width="0.8"/>
<circle cx="75.50" cy="844.66" r="2.6" fill="#e8321a" stroke="#300800" stroke-width="0.8"/>
<circle cx="75.50" cy="846.69" r="2.6" fill="#e8321a" stroke="#300800" stroke-width="0.8"/>
<circle cx="75.50" cy="848.72" r="2.6" fill="#e8321a" stroke="#300800" stroke-width="0.8"/>
<circle cx="75.50" cy="850.74" r="2.6" fill="#e8321a" stroke="#300800" stroke-width="0.8"/>
<circle cx="75.50" cy="857.24" r="2.6" fill="#fff" stroke="#333" stroke-width="0.8"/>
<circle cx="75.50" cy="865.74" r="2.6" fill="#fff" stroke="#333" stroke-width="0.8"/>
<circle cx="75.50" cy="882.01" r="2.6" fill="#fff" stroke="#333" stroke-width="0.8"/>
<circle cx="96.80" cy="775.40" r="2.6" fill="#e8321a" stroke="#300800" stroke-width="0.8"/>
<circle cx="96.80" cy="786.62" r="2.6" fill="#e8321a" stroke="#300800" stroke-width="0.8"/>
<circle cx="96.80" cy="789.22" r="2.6" fill="#e8321a" stroke="#300800" stroke-width="0.8"/>
<circle cx="96.80" cy="791.82" r="2.6" fill="#e8321a" stroke="#300800" stroke-width="0.8"/>
<circle cx="96.80" cy="794.42" r="2.6" fill="#e8321a" stroke="#300800" stroke-width="0.8"/>
<circle cx="96.80" cy="797.02" r="2.6" fill="#e8321a" stroke="#300800" stroke-width="0.8"/>
<circle cx="96.80" cy="799.62" r="2.6" fill="#e8321a" stroke="#300800" stroke-width="0.8"/>
<circle cx="96.80" cy="802.22" r="2.6" fill="#e8321a" stroke="#300800" stroke-width="0.8"/>
<circle cx="96.80" cy="804.83" r="2.6" fill="#e8321a" stroke="#300800" stroke-width="0.8"/>
<circle cx="96.80" cy="807.43" r="2.6" fill="#e8321a" stroke="#300800" stroke-width="0.8"/>
<circle cx="96.80" cy="810.03" r="2.6" fill="#e8321a" stroke="#300800" stroke-width="0.8"/>
<circle cx="96.80" cy="812.63" r="2.6" fill="#e8321a" stroke="#300800" stroke-width="0.8"/>
<circle cx="96.80" cy="815.23" r="2.6" fill="#e8321a" stroke="#300800" stroke-width="0.8"/>
<circle cx="96.80" cy="817.62" r="2.6" fill="#e8321a" stroke="#300800" stroke-width="0.8"/>
<circle cx="96.80" cy="824.32" r="2.6" fill="#fff" stroke="#333" stroke-width="0.8"/>
<circle cx="96.80" cy="827.38" r="2.6" fill="#e8321a" stroke="#300800" stroke-width="0.8"/>
<circle cx="96.80" cy="831.39" r="2.6" fill="#fff" stroke="#333" stroke-width="0.8"/>
<circle cx="96.80" cy="834.55" r="2.6" fill="#e8321a" stroke="#300800" stroke-width="0.8"/>
<circle cx="96.80" cy="839.57" r="2.6" fill="#e8321a" stroke="#300800" stroke-width="0.8"/>
<circle cx="96.80" cy="844.13" r="2.6" fill="#e8321a" stroke="#300800" stroke-width="0.8"/>
<circle cx="96.80" cy="852.78" r="2.6" fill="#fff" stroke="#333" stroke-width="0.8"/>
<line x1="75.50" y1="896.20" x2="75.50" y2="899.20" stroke="#111" stroke-width="1.0" />
<text x="79.20" y="902.00" font-size="10.3" text-anchor="end" fill="#1a1a1a" transform="rotate(-90 79.20 902.00)">PBMC</text>
<line x1="96.80" y1="896.20" x2="96.80" y2="899.20" stroke="#111" stroke-width="1.0" />
<text x="100.50" y="902.00" font-size="10.3" text-anchor="end" fill="#1a1a1a" transform="rotate(-90 100.50 902.00)">Expanded</text>
<line x1="118.50" y1="821.17" x2="139.50" y2="783.37" stroke="#111" stroke-width="0.8" stroke-dasharray="2,1"/>
<line x1="118.50" y1="821.17" x2="139.50" y2="804.24" stroke="#111" stroke-width="0.8" stroke-dasharray="2,1"/>
<line x1="118.50" y1="822.76" x2="139.50" y2="797.28" stroke="#111" stroke-width="0.8" stroke-dasharray="2,1"/>
<line x1="118.50" y1="822.76" x2="139.50" y2="783.37" stroke="#111" stroke-width="0.8" stroke-dasharray="2,1"/>
<line x1="118.50" y1="824.34" x2="139.50" y2="790.33" stroke="#111" stroke-width="0.8" stroke-dasharray="2,1"/>
<line x1="118.50" y1="825.92" x2="139.50" y2="786.85" stroke="#111" stroke-width="0.8" stroke-dasharray="2,1"/>
<line x1="118.50" y1="825.92" x2="139.50" y2="779.89" stroke="#111" stroke-width="0.8" stroke-dasharray="2,1"/>
<line x1="118.50" y1="827.50" x2="139.50" y2="779.89" stroke="#111" stroke-width="0.8" stroke-dasharray="2,1"/>
<line x1="118.50" y1="827.50" x2="139.50" y2="818.15" stroke="#111" stroke-width="0.8" stroke-dasharray="2,1"/>
<line x1="118.50" y1="829.08" x2="139.50" y2="793.80" stroke="#111" stroke-width="0.8" stroke-dasharray="2,1"/>
<line x1="118.50" y1="830.66" x2="139.50" y2="811.20" stroke="#111" stroke-width="0.8" stroke-dasharray="2,1"/>
<line x1="118.50" y1="830.66" x2="139.50" y2="800.76" stroke="#111" stroke-width="0.8" stroke-dasharray="2,1"/>
<line x1="118.50" y1="832.24" x2="139.50" y2="807.72" stroke="#111" stroke-width="0.8" stroke-dasharray="2,1"/>
<line x1="118.50" y1="833.82" x2="139.50" y2="797.28" stroke="#111" stroke-width="0.8" stroke-dasharray="2,1"/>
<line x1="118.50" y1="833.82" x2="139.50" y2="811.20" stroke="#111" stroke-width="0.8" stroke-dasharray="2,1"/>
<line x1="118.50" y1="835.40" x2="139.50" y2="790.33" stroke="#111" stroke-width="0.8" stroke-dasharray="2,1"/>
<line x1="118.50" y1="835.40" x2="139.50" y2="829.64" stroke="#111" stroke-width="0.8" stroke-dasharray="2,1"/>
<line x1="118.50" y1="836.99" x2="139.50" y2="818.15" stroke="#111" stroke-width="0.8" stroke-dasharray="2,1"/>
<line x1="118.50" y1="838.57" x2="139.50" y2="847.18" stroke="#111" stroke-width="0.8" stroke-dasharray="2,1"/>
<line x1="118.50" y1="838.57" x2="139.50" y2="835.54" stroke="#111" stroke-width="0.8" stroke-dasharray="2,1"/>
<line x1="118.50" y1="840.15" x2="139.50" y2="814.67" stroke="#111" stroke-width="0.8" stroke-dasharray="2,1"/>
<line x1="118.50" y1="840.15" x2="139.50" y2="804.24" stroke="#111" stroke-width="0.8" stroke-dasharray="2,1"/>
<line x1="118.50" y1="841.73" x2="139.50" y2="832.07" stroke="#111" stroke-width="0.8" stroke-dasharray="2,1"/>
<line x1="118.50" y1="843.31" x2="139.50" y2="839.02" stroke="#111" stroke-width="0.8" stroke-dasharray="2,1"/>
<line x1="118.50" y1="843.31" x2="139.50" y2="835.54" stroke="#111" stroke-width="0.8" stroke-dasharray="2,1"/>
<line x1="118.50" y1="844.89" x2="139.50" y2="828.59" stroke="#111" stroke-width="0.8" stroke-dasharray="2,1"/>
<line x1="118.50" y1="846.27" x2="139.50" y2="821.63" stroke="#111" stroke-width="0.8" stroke-dasharray="2,1"/>
<line x1="118.50" y1="846.27" x2="139.50" y2="821.63" stroke="#111" stroke-width="0.8" stroke-dasharray="2,1"/>
<line x1="118.50" y1="852.04" x2="139.50" y2="826.07" stroke="#111" stroke-width="0.8" stroke-dasharray="2,1"/>
<line x1="118.50" y1="852.04" x2="139.50" y2="842.50" stroke="#111" stroke-width="0.8" stroke-dasharray="2,1"/>
<line x1="118.50" y1="855.36" x2="139.50" y2="825.11" stroke="#111" stroke-width="0.8" stroke-dasharray="2,1"/>
<line x1="118.50" y1="862.76" x2="139.50" y2="829.64" stroke="#111" stroke-width="0.8" stroke-dasharray="2,1"/>
<line x1="118.50" y1="862.76" x2="139.50" y2="826.07" stroke="#111" stroke-width="0.8" stroke-dasharray="2,1"/>
<line x1="118.50" y1="882.01" x2="139.50" y2="842.50" stroke="#111" stroke-width="0.8" stroke-dasharray="2,1"/>
<circle cx="118.50" cy="821.17" r="2.6" fill="#1b8450" stroke="#052818" stroke-width="0.8"/>
<circle cx="118.50" cy="822.76" r="2.6" fill="#1b8450" stroke="#052818" stroke-width="0.8"/>
<circle cx="118.50" cy="824.34" r="2.6" fill="#1b8450" stroke="#052818" stroke-width="0.8"/>
<circle cx="118.50" cy="825.92" r="2.6" fill="#1b8450" stroke="#052818" stroke-width="0.8"/>
<circle cx="118.50" cy="827.50" r="2.6" fill="#1b8450" stroke="#052818" stroke-width="0.8"/>
<circle cx="118.50" cy="829.08" r="2.6" fill="#1b8450" stroke="#052818" stroke-width="0.8"/>
<circle cx="118.50" cy="830.66" r="2.6" fill="#1b8450" stroke="#052818" stroke-width="0.8"/>
<circle cx="118.50" cy="832.24" r="2.6" fill="#1b8450" stroke="#052818" stroke-width="0.8"/>
<circle cx="118.50" cy="833.82" r="2.6" fill="#1b8450" stroke="#052818" stroke-width="0.8"/>
<circle cx="118.50" cy="835.40" r="2.6" fill="#1b8450" stroke="#052818" stroke-width="0.8"/>
<circle cx="118.50" cy="836.99" r="2.6" fill="#1b8450" stroke="#052818" stroke-width="0.8"/>
<circle cx="118.50" cy="838.57" r="2.6" fill="#1b8450" stroke="#052818" stroke-width="0.8"/>
<circle cx="118.50" cy="840.15" r="2.6" fill="#1b8450" stroke="#052818" stroke-width="0.8"/>
<circle cx="118.50" cy="841.73" r="2.6" fill="#1b8450" stroke="#052818" stroke-width="0.8"/>
<circle cx="118.50" cy="843.31" r="2.6" fill="#1b8450" stroke="#052818" stroke-width="0.8"/>
<circle cx="118.50" cy="844.89" r="2.6" fill="#1b8450" stroke="#052818" stroke-width="0.8"/>
<circle cx="118.50" cy="846.27" r="2.6" fill="#fff" stroke="#333" stroke-width="0.8"/>
<circle cx="118.50" cy="852.04" r="2.6" fill="#fff" stroke="#333" stroke-width="0.8"/>
<circle cx="118.50" cy="855.36" r="2.6" fill="#fff" stroke="#333" stroke-width="0.8"/>
<circle cx="118.50" cy="862.76" r="2.6" fill="#fff" stroke="#333" stroke-width="0.8"/>
<circle cx="118.50" cy="882.01" r="2.6" fill="#fff" stroke="#333" stroke-width="0.8"/>
<circle cx="139.50" cy="779.89" r="2.6" fill="#1b8450" stroke="#052818" stroke-width="0.8"/>
<circle cx="139.50" cy="783.37" r="2.6" fill="#1b8450" stroke="#052818" stroke-width="0.8"/>
<circle cx="139.50" cy="786.85" r="2.6" fill="#1b8450" stroke="#052818" stroke-width="0.8"/>
<circle cx="139.50" cy="790.33" r="2.6" fill="#1b8450" stroke="#052818" stroke-width="0.8"/>
<circle cx="139.50" cy="793.80" r="2.6" fill="#1b8450" stroke="#052818" stroke-width="0.8"/>
<circle cx="139.50" cy="797.28" r="2.6" fill="#1b8450" stroke="#052818" stroke-width="0.8"/>
<circle cx="139.50" cy="800.76" r="2.6" fill="#1b8450" stroke="#052818" stroke-width="0.8"/>
<circle cx="139.50" cy="804.24" r="2.6" fill="#1b8450" stroke="#052818" stroke-width="0.8"/>
<circle cx="139.50" cy="807.72" r="2.6" fill="#1b8450" stroke="#052818" stroke-width="0.8"/>
<circle cx="139.50" cy="811.20" r="2.6" fill="#1b8450" stroke="#052818" stroke-width="0.8"/>
<circle cx="139.50" cy="814.67" r="2.6" fill="#1b8450" stroke="#052818" stroke-width="0.8"/>
<circle cx="139.50" cy="818.15" r="2.6" fill="#1b8450" stroke="#052818" stroke-width="0.8"/>
<circle cx="139.50" cy="821.63" r="2.6" fill="#1b8450" stroke="#052818" stroke-width="0.8"/>
<circle cx="139.50" cy="825.11" r="2.6" fill="#1b8450" stroke="#052818" stroke-width="0.8"/>
<circle cx="139.50" cy="826.07" r="2.6" fill="#fff" stroke="#333" stroke-width="0.8"/>
<circle cx="139.50" cy="828.59" r="2.6" fill="#1b8450" stroke="#052818" stroke-width="0.8"/>
<circle cx="139.50" cy="829.64" r="2.6" fill="#fff" stroke="#333" stroke-width="0.8"/>
<circle cx="139.50" cy="832.07" r="2.6" fill="#1b8450" stroke="#052818" stroke-width="0.8"/>
<circle cx="139.50" cy="835.54" r="2.6" fill="#1b8450" stroke="#052818" stroke-width="0.8"/>
<circle cx="139.50" cy="839.02" r="2.6" fill="#1b8450" stroke="#052818" stroke-width="0.8"/>
<circle cx="139.50" cy="842.50" r="2.6" fill="#1b8450" stroke="#052818" stroke-width="0.8"/>
<circle cx="139.50" cy="847.18" r="2.6" fill="#fff" stroke="#333" stroke-width="0.8"/>
<line x1="118.50" y1="896.20" x2="118.50" y2="899.20" stroke="#111" stroke-width="1.0" />
<text x="122.20" y="902.00" font-size="10.3" text-anchor="end" fill="#1a1a1a" transform="rotate(-90 122.20 902.00)">PBMC</text>
<line x1="139.50" y1="896.20" x2="139.50" y2="899.20" stroke="#111" stroke-width="1.0" />
<text x="143.20" y="902.00" font-size="10.3" text-anchor="end" fill="#1a1a1a" transform="rotate(-90 143.20 902.00)">Expanded</text>
<line x1="161.60" y1="802.16" x2="182.60" y2="810.28" stroke="#111" stroke-width="0.8" stroke-dasharray="2,1"/>
<line x1="161.60" y1="802.16" x2="182.60" y2="800.28" stroke="#111" stroke-width="0.8" stroke-dasharray="2,1"/>
<line x1="161.60" y1="808.53" x2="182.60" y2="780.08" stroke="#111" stroke-width="0.8" stroke-dasharray="2,1"/>
<line x1="161.60" y1="808.53" x2="182.60" y2="821.39" stroke="#111" stroke-width="0.8" stroke-dasharray="2,1"/>
<line x1="161.60" y1="823.27" x2="182.60" y2="816.98" stroke="#111" stroke-width="0.8" stroke-dasharray="2,1"/>
<line x1="161.60" y1="823.27" x2="182.60" y2="853.98" stroke="#111" stroke-width="0.8" stroke-dasharray="2,1"/>
<line x1="161.60" y1="828.84" x2="182.60" y2="843.64" stroke="#111" stroke-width="0.8" stroke-dasharray="2,1"/>
<line x1="161.60" y1="828.84" x2="182.60" y2="861.59" stroke="#111" stroke-width="0.8" stroke-dasharray="2,1"/>
<line x1="161.60" y1="835.80" x2="182.60" y2="780.08" stroke="#111" stroke-width="0.8" stroke-dasharray="2,1"/>
<line x1="161.60" y1="838.73" x2="182.60" y2="782.10" stroke="#111" stroke-width="0.8" stroke-dasharray="2,1"/>
<line x1="161.60" y1="838.73" x2="182.60" y2="810.28" stroke="#111" stroke-width="0.8" stroke-dasharray="2,1"/>
<line x1="161.60" y1="841.45" x2="182.60" y2="868.93" stroke="#111" stroke-width="0.8" stroke-dasharray="2,1"/>
<line x1="161.60" y1="841.45" x2="182.60" y2="828.84" stroke="#111" stroke-width="0.8" stroke-dasharray="2,1"/>
<line x1="161.60" y1="843.64" x2="182.60" y2="828.84" stroke="#111" stroke-width="0.8" stroke-dasharray="2,1"/>
<line x1="161.60" y1="843.64" x2="182.60" y2="853.98" stroke="#111" stroke-width="0.8" stroke-dasharray="2,1"/>
<line x1="161.60" y1="845.43" x2="182.60" y2="833.41" stroke="#111" stroke-width="0.8" stroke-dasharray="2,1"/>
<line x1="161.60" y1="845.43" x2="182.60" y2="782.10" stroke="#111" stroke-width="0.8" stroke-dasharray="2,1"/>
<line x1="161.60" y1="847.82" x2="182.60" y2="821.39" stroke="#111" stroke-width="0.8" stroke-dasharray="2,1"/>
<line x1="161.60" y1="850.34" x2="182.60" y2="841.45" stroke="#111" stroke-width="0.8" stroke-dasharray="2,1"/>
<line x1="161.60" y1="850.34" x2="182.60" y2="838.73" stroke="#111" stroke-width="0.8" stroke-dasharray="2,1"/>
<line x1="161.60" y1="852.97" x2="182.60" y2="824.88" stroke="#111" stroke-width="0.8" stroke-dasharray="2,1"/>
<line x1="161.60" y1="852.97" x2="182.60" y2="843.64" stroke="#111" stroke-width="0.8" stroke-dasharray="2,1"/>
<line x1="161.60" y1="855.66" x2="182.60" y2="861.59" stroke="#111" stroke-width="0.8" stroke-dasharray="2,1"/>
<line x1="161.60" y1="855.66" x2="182.60" y2="849.57" stroke="#111" stroke-width="0.8" stroke-dasharray="2,1"/>
<line x1="161.60" y1="858.29" x2="182.60" y2="875.09" stroke="#111" stroke-width="0.8" stroke-dasharray="2,1"/>
<line x1="161.60" y1="858.29" x2="182.60" y2="846.27" stroke="#111" stroke-width="0.8" stroke-dasharray="2,1"/>
<line x1="161.60" y1="861.59" x2="182.60" y2="838.73" stroke="#111" stroke-width="0.8" stroke-dasharray="2,1"/>
<line x1="161.60" y1="864.75" x2="182.60" y2="856.91" stroke="#111" stroke-width="0.8" stroke-dasharray="2,1"/>
<line x1="161.60" y1="864.75" x2="182.60" y2="846.27" stroke="#111" stroke-width="0.8" stroke-dasharray="2,1"/>
<line x1="161.60" y1="868.93" x2="182.60" y2="875.09" stroke="#111" stroke-width="0.8" stroke-dasharray="2,1"/>
<line x1="161.60" y1="868.93" x2="182.60" y2="872.70" stroke="#111" stroke-width="0.8" stroke-dasharray="2,1"/>
<line x1="161.60" y1="870.68" x2="182.60" y2="866.00" stroke="#111" stroke-width="0.8" stroke-dasharray="2,1"/>
<line x1="161.60" y1="870.68" x2="182.60" y2="896.20" stroke="#111" stroke-width="0.8" stroke-dasharray="2,1"/>
<line x1="161.60" y1="881.79" x2="182.60" y2="868.93" stroke="#111" stroke-width="0.8" stroke-dasharray="2,1"/>
<circle cx="161.60" cy="802.16" r="2.6" fill="#d54fe0" stroke="#4a1050" stroke-width="0.8"/>
<circle cx="161.60" cy="808.53" r="2.6" fill="#d54fe0" stroke="#4a1050" stroke-width="0.8"/>
<circle cx="161.60" cy="823.27" r="2.6" fill="#d54fe0" stroke="#4a1050" stroke-width="0.8"/>
<circle cx="161.60" cy="828.84" r="2.6" fill="#d54fe0" stroke="#4a1050" stroke-width="0.8"/>
<circle cx="161.60" cy="835.80" r="2.6" fill="#d54fe0" stroke="#4a1050" stroke-width="0.8"/>
<circle cx="161.60" cy="838.73" r="2.6" fill="#d54fe0" stroke="#4a1050" stroke-width="0.8"/>
<circle cx="161.60" cy="841.45" r="2.6" fill="#d54fe0" stroke="#4a1050" stroke-width="0.8"/>
<circle cx="161.60" cy="843.64" r="2.6" fill="#d54fe0" stroke="#4a1050" stroke-width="0.8"/>
<circle cx="161.60" cy="845.43" r="2.6" fill="#d54fe0" stroke="#4a1050" stroke-width="0.8"/>
<circle cx="161.60" cy="847.82" r="2.6" fill="#fff" stroke="#333" stroke-width="0.8"/>
<circle cx="161.60" cy="850.34" r="2.6" fill="#fff" stroke="#333" stroke-width="0.8"/>
<circle cx="161.60" cy="852.97" r="2.6" fill="#fff" stroke="#333" stroke-width="0.8"/>
<circle cx="161.60" cy="855.66" r="2.6" fill="#fff" stroke="#333" stroke-width="0.8"/>
<circle cx="161.60" cy="858.29" r="2.6" fill="#fff" stroke="#333" stroke-width="0.8"/>
<circle cx="161.60" cy="861.59" r="2.6" fill="#fff" stroke="#333" stroke-width="0.8"/>
<circle cx="161.60" cy="864.75" r="2.6" fill="#fff" stroke="#333" stroke-width="0.8"/>
<circle cx="161.60" cy="868.93" r="2.6" fill="#fff" stroke="#333" stroke-width="0.8"/>
<circle cx="161.60" cy="870.68" r="2.6" fill="#fff" stroke="#333" stroke-width="0.8"/>
<circle cx="161.60" cy="881.79" r="2.6" fill="#fff" stroke="#333" stroke-width="0.8"/>
<circle cx="182.60" cy="780.08" r="2.6" fill="#d54fe0" stroke="#4a1050" stroke-width="0.8"/>
<circle cx="182.60" cy="782.10" r="2.6" fill="#d54fe0" stroke="#4a1050" stroke-width="0.8"/>
<circle cx="182.60" cy="800.28" r="2.6" fill="#d54fe0" stroke="#4a1050" stroke-width="0.8"/>
<circle cx="182.60" cy="810.28" r="2.6" fill="#d54fe0" stroke="#4a1050" stroke-width="0.8"/>
<circle cx="182.60" cy="816.98" r="2.6" fill="#d54fe0" stroke="#4a1050" stroke-width="0.8"/>
<circle cx="182.60" cy="821.39" r="2.6" fill="#d54fe0" stroke="#4a1050" stroke-width="0.8"/>
<circle cx="182.60" cy="824.88" r="2.6" fill="#d54fe0" stroke="#4a1050" stroke-width="0.8"/>
<circle cx="182.60" cy="828.84" r="2.6" fill="#d54fe0" stroke="#4a1050" stroke-width="0.8"/>
<circle cx="182.60" cy="833.41" r="2.6" fill="#d54fe0" stroke="#4a1050" stroke-width="0.8"/>
<circle cx="182.60" cy="838.73" r="2.6" fill="#d54fe0" stroke="#4a1050" stroke-width="0.8"/>
<circle cx="182.60" cy="841.45" r="2.6" fill="#d54fe0" stroke="#4a1050" stroke-width="0.8"/>
<circle cx="182.60" cy="843.64" r="2.6" fill="#fff" stroke="#333" stroke-width="0.8"/>
<circle cx="182.60" cy="846.27" r="2.6" fill="#fff" stroke="#333" stroke-width="0.8"/>
<circle cx="182.60" cy="849.57" r="2.6" fill="#fff" stroke="#333" stroke-width="0.8"/>
<circle cx="182.60" cy="853.98" r="2.6" fill="#fff" stroke="#333" stroke-width="0.8"/>
<circle cx="182.60" cy="856.91" r="2.6" fill="#fff" stroke="#333" stroke-width="0.8"/>
<circle cx="182.60" cy="861.59" r="2.6" fill="#fff" stroke="#333" stroke-width="0.8"/>
<circle cx="182.60" cy="866.00" r="2.6" fill="#fff" stroke="#333" stroke-width="0.8"/>
<circle cx="182.60" cy="868.93" r="2.6" fill="#fff" stroke="#333" stroke-width="0.8"/>
<circle cx="182.60" cy="872.70" r="2.6" fill="#fff" stroke="#333" stroke-width="0.8"/>
<circle cx="182.60" cy="875.09" r="2.6" fill="#fff" stroke="#333" stroke-width="0.8"/>
<circle cx="182.60" cy="896.20" r="2.6" fill="#fff" stroke="#333" stroke-width="0.8"/>
<line x1="161.60" y1="896.20" x2="161.60" y2="899.20" stroke="#111" stroke-width="1.0" />
<text x="165.30" y="902.00" font-size="10.3" text-anchor="end" fill="#1a1a1a" transform="rotate(-90 165.30 902.00)">PBMC</text>
<line x1="182.60" y1="896.20" x2="182.60" y2="899.20" stroke="#111" stroke-width="1.0" />
<text x="186.30" y="902.00" font-size="10.3" text-anchor="end" fill="#1a1a1a" transform="rotate(-90 186.30 902.00)">Expanded</text>
<line x1="203.70" y1="840.48" x2="225.50" y2="813.44" stroke="#111" stroke-width="0.8" stroke-dasharray="2,1"/>
<line x1="203.70" y1="840.48" x2="225.50" y2="802.16" stroke="#111" stroke-width="0.8" stroke-dasharray="2,1"/>
<line x1="203.70" y1="842.07" x2="225.50" y2="794.12" stroke="#111" stroke-width="0.8" stroke-dasharray="2,1"/>
<line x1="203.70" y1="842.07" x2="225.50" y2="831.39" stroke="#111" stroke-width="0.8" stroke-dasharray="2,1"/>
<line x1="203.70" y1="843.64" x2="225.50" y2="826.71" stroke="#111" stroke-width="0.8" stroke-dasharray="2,1"/>
<line x1="203.70" y1="847.82" x2="225.50" y2="794.12" stroke="#111" stroke-width="0.8" stroke-dasharray="2,1"/>
<line x1="203.70" y1="847.82" x2="225.50" y2="809.37" stroke="#111" stroke-width="0.8" stroke-dasharray="2,1"/>
<line x1="203.70" y1="849.95" x2="225.50" y2="835.80" stroke="#111" stroke-width="0.8" stroke-dasharray="2,1"/>
<line x1="203.70" y1="851.59" x2="225.50" y2="792.10" stroke="#111" stroke-width="0.8" stroke-dasharray="2,1"/>
<line x1="203.70" y1="851.59" x2="225.50" y2="802.16" stroke="#111" stroke-width="0.8" stroke-dasharray="2,1"/>
<line x1="203.70" y1="853.47" x2="225.50" y2="822.30" stroke="#111" stroke-width="0.8" stroke-dasharray="2,1"/>
<line x1="203.70" y1="855.66" x2="225.50" y2="813.44" stroke="#111" stroke-width="0.8" stroke-dasharray="2,1"/>
<line x1="203.70" y1="855.66" x2="225.50" y2="817.62" stroke="#111" stroke-width="0.8" stroke-dasharray="2,1"/>
<line x1="203.70" y1="858.29" x2="225.50" y2="853.98" stroke="#111" stroke-width="0.8" stroke-dasharray="2,1"/>
<line x1="203.70" y1="860.68" x2="225.50" y2="792.10" stroke="#111" stroke-width="0.8" stroke-dasharray="2,1"/>
<line x1="203.70" y1="860.68" x2="225.50" y2="797.89" stroke="#111" stroke-width="0.8" stroke-dasharray="2,1"/>
<line x1="203.70" y1="863.61" x2="225.50" y2="847.82" stroke="#111" stroke-width="0.8" stroke-dasharray="2,1"/>
<line x1="203.70" y1="866.00" x2="225.50" y2="805.60" stroke="#111" stroke-width="0.8" stroke-dasharray="2,1"/>
<line x1="203.70" y1="866.00" x2="225.50" y2="847.82" stroke="#111" stroke-width="0.8" stroke-dasharray="2,1"/>
<line x1="203.70" y1="868.93" x2="225.50" y2="856.91" stroke="#111" stroke-width="0.8" stroke-dasharray="2,1"/>
<line x1="203.70" y1="868.93" x2="225.50" y2="844.89" stroke="#111" stroke-width="0.8" stroke-dasharray="2,1"/>
<line x1="203.70" y1="871.65" x2="225.50" y2="835.80" stroke="#111" stroke-width="0.8" stroke-dasharray="2,1"/>
<line x1="203.70" y1="875.09" x2="225.50" y2="853.98" stroke="#111" stroke-width="0.8" stroke-dasharray="2,1"/>
<line x1="203.70" y1="875.09" x2="225.50" y2="850.74" stroke="#111" stroke-width="0.8" stroke-dasharray="2,1"/>
<line x1="203.70" y1="881.79" x2="225.50" y2="805.60" stroke="#111" stroke-width="0.8" stroke-dasharray="2,1"/>
<line x1="203.70" y1="896.20" x2="225.50" y2="840.48" stroke="#111" stroke-width="0.8" stroke-dasharray="2,1"/>
<line x1="203.70" y1="896.20" x2="225.50" y2="872.70" stroke="#111" stroke-width="0.8" stroke-dasharray="2,1"/>
<line x1="203.70" y1="896.20" x2="225.50" y2="856.91" stroke="#111" stroke-width="0.8" stroke-dasharray="2,1"/>
<line x1="203.70" y1="896.20" x2="225.50" y2="826.71" stroke="#111" stroke-width="0.8" stroke-dasharray="2,1"/>
<line x1="203.70" y1="896.20" x2="225.50" y2="870.68" stroke="#111" stroke-width="0.8" stroke-dasharray="2,1"/>
<line x1="203.70" y1="896.20" x2="225.50" y2="822.30" stroke="#111" stroke-width="0.8" stroke-dasharray="2,1"/>
<line x1="203.70" y1="896.20" x2="225.50" y2="840.48" stroke="#111" stroke-width="0.8" stroke-dasharray="2,1"/>
<line x1="203.70" y1="896.20" x2="225.50" y2="868.93" stroke="#111" stroke-width="0.8" stroke-dasharray="2,1"/>
<line x1="203.70" y1="896.20" x2="225.50" y2="870.68" stroke="#111" stroke-width="0.8" stroke-dasharray="2,1"/>
<circle cx="203.70" cy="840.48" r="2.6" fill="#2040c8" stroke="#0a1450" stroke-width="0.8"/>
<circle cx="203.70" cy="842.07" r="2.6" fill="#2040c8" stroke="#0a1450" stroke-width="0.8"/>
<circle cx="203.70" cy="843.64" r="2.6" fill="#2040c8" stroke="#0a1450" stroke-width="0.8"/>
<circle cx="203.70" cy="847.82" r="2.6" fill="#fff" stroke="#333" stroke-width="0.8"/>
<circle cx="203.70" cy="849.95" r="2.6" fill="#fff" stroke="#333" stroke-width="0.8"/>
<circle cx="203.70" cy="851.59" r="2.6" fill="#fff" stroke="#333" stroke-width="0.8"/>
<circle cx="203.70" cy="853.47" r="2.6" fill="#fff" stroke="#333" stroke-width="0.8"/>
<circle cx="203.70" cy="855.66" r="2.6" fill="#fff" stroke="#333" stroke-width="0.8"/>
<circle cx="203.70" cy="858.29" r="2.6" fill="#fff" stroke="#333" stroke-width="0.8"/>
<circle cx="203.70" cy="860.68" r="2.6" fill="#fff" stroke="#333" stroke-width="0.8"/>
<circle cx="203.70" cy="863.61" r="2.6" fill="#fff" stroke="#333" stroke-width="0.8"/>
<circle cx="203.70" cy="866.00" r="2.6" fill="#fff" stroke="#333" stroke-width="0.8"/>
<circle cx="203.70" cy="868.93" r="2.6" fill="#fff" stroke="#333" stroke-width="0.8"/>
<circle cx="203.70" cy="871.65" r="2.6" fill="#fff" stroke="#333" stroke-width="0.8"/>
<circle cx="203.70" cy="875.09" r="2.6" fill="#fff" stroke="#333" stroke-width="0.8"/>
<circle cx="203.70" cy="881.79" r="2.6" fill="#fff" stroke="#333" stroke-width="0.8"/>
<circle cx="203.70" cy="896.20" r="2.6" fill="#fff" stroke="#333" stroke-width="0.8"/>
<circle cx="203.70" cy="896.20" r="2.6" fill="#fff" stroke="#333" stroke-width="0.8"/>
<circle cx="203.70" cy="896.20" r="2.6" fill="#fff" stroke="#333" stroke-width="0.8"/>
<circle cx="203.70" cy="896.20" r="2.6" fill="#fff" stroke="#333" stroke-width="0.8"/>
<circle cx="203.70" cy="896.20" r="2.6" fill="#fff" stroke="#333" stroke-width="0.8"/>
<circle cx="203.70" cy="896.20" r="2.6" fill="#fff" stroke="#333" stroke-width="0.8"/>
<circle cx="225.50" cy="792.10" r="2.6" fill="#2040c8" stroke="#0a1450" stroke-width="0.8"/>
<circle cx="225.50" cy="794.12" r="2.6" fill="#2040c8" stroke="#0a1450" stroke-width="0.8"/>
<circle cx="225.50" cy="797.89" r="2.6" fill="#2040c8" stroke="#0a1450" stroke-width="0.8"/>
<circle cx="225.50" cy="802.16" r="2.6" fill="#2040c8" stroke="#0a1450" stroke-width="0.8"/>
<circle cx="225.50" cy="805.60" r="2.6" fill="#2040c8" stroke="#0a1450" stroke-width="0.8"/>
<circle cx="225.50" cy="809.37" r="2.6" fill="#2040c8" stroke="#0a1450" stroke-width="0.8"/>
<circle cx="225.50" cy="813.44" r="2.6" fill="#2040c8" stroke="#0a1450" stroke-width="0.8"/>
<circle cx="225.50" cy="817.62" r="2.6" fill="#2040c8" stroke="#0a1450" stroke-width="0.8"/>
<circle cx="225.50" cy="822.30" r="2.6" fill="#2040c8" stroke="#0a1450" stroke-width="0.8"/>
<circle cx="225.50" cy="826.71" r="2.6" fill="#2040c8" stroke="#0a1450" stroke-width="0.8"/>
<circle cx="225.50" cy="831.39" r="2.6" fill="#2040c8" stroke="#0a1450" stroke-width="0.8"/>
<circle cx="225.50" cy="835.80" r="2.6" fill="#2040c8" stroke="#0a1450" stroke-width="0.8"/>
<circle cx="225.50" cy="840.48" r="2.6" fill="#2040c8" stroke="#0a1450" stroke-width="0.8"/>
<circle cx="225.50" cy="844.89" r="2.6" fill="#2040c8" stroke="#0a1450" stroke-width="0.8"/>
<circle cx="225.50" cy="847.82" r="2.6" fill="#fff" stroke="#333" stroke-width="0.8"/>
<circle cx="225.50" cy="850.74" r="2.6" fill="#fff" stroke="#333" stroke-width="0.8"/>
<circle cx="225.50" cy="853.98" r="2.6" fill="#fff" stroke="#333" stroke-width="0.8"/>
<circle cx="225.50" cy="856.91" r="2.6" fill="#fff" stroke="#333" stroke-width="0.8"/>
<circle cx="225.50" cy="868.93" r="2.6" fill="#fff" stroke="#333" stroke-width="0.8"/>
<circle cx="225.50" cy="870.68" r="2.6" fill="#fff" stroke="#333" stroke-width="0.8"/>
<circle cx="225.50" cy="872.70" r="2.6" fill="#fff" stroke="#333" stroke-width="0.8"/>
<line x1="203.70" y1="896.20" x2="203.70" y2="899.20" stroke="#111" stroke-width="1.0" />
<text x="207.40" y="902.00" font-size="10.3" text-anchor="end" fill="#1a1a1a" transform="rotate(-90 207.40 902.00)">PBMC</text>
<line x1="225.50" y1="896.20" x2="225.50" y2="899.20" stroke="#111" stroke-width="1.0" />
<text x="229.20" y="902.00" font-size="10.3" text-anchor="end" fill="#1a1a1a" transform="rotate(-90 229.20 902.00)">Expanded</text>
<text x="251.00" y="716.20" font-size="20" text-anchor="start" font-weight="bold" fill="#000" >f.</text>
<line x1="288.70" y1="755.60" x2="288.70" y2="897.30" stroke="#111" stroke-width="1.3" />
<line x1="288.10" y1="897.30" x2="560.60" y2="897.30" stroke="#111" stroke-width="1.3" />
<line x1="285.50" y1="897.30" x2="288.70" y2="897.30" stroke="#111" stroke-width="1.1" />
<text x="285.00" y="901.60" font-size="9.5" text-anchor="end" fill="#1a1a1a">10<tspan font-size="7.3" dy="-3.4">0</tspan></text>
<line x1="285.50" y1="867.00" x2="288.70" y2="867.00" stroke="#111" stroke-width="1.1" />
<text x="285.00" y="871.30" font-size="9.5" text-anchor="end" fill="#1a1a1a">10<tspan font-size="7.3" dy="-3.4">1</tspan></text>
<line x1="285.50" y1="836.70" x2="288.70" y2="836.70" stroke="#111" stroke-width="1.1" />
<text x="285.00" y="841.00" font-size="9.5" text-anchor="end" fill="#1a1a1a">10<tspan font-size="7.3" dy="-3.4">2</tspan></text>
<line x1="285.50" y1="806.40" x2="288.70" y2="806.40" stroke="#111" stroke-width="1.1" />
<text x="285.00" y="810.70" font-size="9.5" text-anchor="end" fill="#1a1a1a">10<tspan font-size="7.3" dy="-3.4">3</tspan></text>
<line x1="285.50" y1="776.10" x2="288.70" y2="776.10" stroke="#111" stroke-width="1.1" />
<text x="285.00" y="780.40" font-size="9.5" text-anchor="end" fill="#1a1a1a">10<tspan font-size="7.3" dy="-3.4">4</tspan></text>
<text x="264.50" y="826.00" font-size="10" text-anchor="middle" fill="#1a1a1a" transform="rotate(-90 264.50 826.00)">SFC/10<tspan font-size="6.5" dy="-4">6</tspan><tspan dy="4"> expanded PBMC</tspan></text>
<line x1="303.70" y1="897.30" x2="303.70" y2="900.30" stroke="#111" stroke-width="1.0" />
<text x="305.50" y="906.80" font-size="10.5" text-anchor="end" fill="#1a1a1a" transform="rotate(-45 305.50 906.80)">S</text>
<text x="304.30" y="743.30" font-size="9.8" text-anchor="middle" fill="#1a1a1a" >92%</text>
<line x1="327.70" y1="897.30" x2="327.70" y2="900.30" stroke="#111" stroke-width="1.0" />
<text x="329.50" y="906.80" font-size="10.5" text-anchor="end" fill="#1a1a1a" transform="rotate(-45 329.50 906.80)">N</text>
<text x="328.90" y="743.30" font-size="9.8" text-anchor="middle" fill="#1a1a1a" >86%</text>
<line x1="351.70" y1="897.30" x2="351.70" y2="900.30" stroke="#111" stroke-width="1.0" />
<text x="353.50" y="906.80" font-size="10.5" text-anchor="end" fill="#1a1a1a" transform="rotate(-45 353.50 906.80)">E</text>
<text x="352.10" y="743.30" font-size="9.8" text-anchor="middle" fill="#1a1a1a" >6%</text>
<line x1="375.70" y1="897.30" x2="375.70" y2="900.30" stroke="#111" stroke-width="1.0" />
<text x="377.50" y="906.80" font-size="10.5" text-anchor="end" fill="#1a1a1a" transform="rotate(-45 377.50 906.80)">M</text>
<text x="378.10" y="743.30" font-size="9.8" text-anchor="middle" fill="#1a1a1a" >53%</text>
<line x1="399.70" y1="897.30" x2="399.70" y2="900.30" stroke="#111" stroke-width="1.0" />
<text x="401.50" y="906.80" font-size="10.5" text-anchor="end" fill="#1a1a1a" transform="rotate(-45 401.50 906.80)">ORF3a</text>
<text x="401.80" y="743.30" font-size="9.8" text-anchor="middle" fill="#1a1a1a" >61%</text>
<line x1="423.70" y1="897.30" x2="423.70" y2="900.30" stroke="#111" stroke-width="1.0" />
<text x="425.50" y="906.80" font-size="10.5" text-anchor="end" fill="#1a1a1a" transform="rotate(-45 425.50 906.80)">ORF6</text>
<text x="424.80" y="743.30" font-size="9.8" text-anchor="middle" fill="#1a1a1a" >3%</text>
<line x1="447.70" y1="897.30" x2="447.70" y2="900.30" stroke="#111" stroke-width="1.0" />
<text x="449.50" y="906.80" font-size="10.5" text-anchor="end" fill="#1a1a1a" transform="rotate(-45 449.50 906.80)">ORF7a</text>
<text x="448.30" y="743.30" font-size="9.8" text-anchor="middle" fill="#1a1a1a" >33%</text>
<line x1="471.70" y1="897.30" x2="471.70" y2="900.30" stroke="#111" stroke-width="1.0" />
<text x="473.50" y="906.80" font-size="10.5" text-anchor="end" fill="#1a1a1a" transform="rotate(-45 473.50 906.80)">ORF7b</text>
<text x="472.50" y="743.30" font-size="9.8" text-anchor="middle" fill="#1a1a1a" >19%</text>
<line x1="495.70" y1="897.30" x2="495.70" y2="900.30" stroke="#111" stroke-width="1.0" />
<text x="497.50" y="906.80" font-size="10.5" text-anchor="end" fill="#1a1a1a" transform="rotate(-45 497.50 906.80)">ORF8</text>
<text x="496.80" y="743.30" font-size="9.8" text-anchor="middle" fill="#1a1a1a" >33%</text>
<line x1="519.70" y1="897.30" x2="519.70" y2="900.30" stroke="#111" stroke-width="1.0" />
<text x="521.50" y="906.80" font-size="10.5" text-anchor="end" fill="#1a1a1a" transform="rotate(-45 521.50 906.80)">ORF9b</text>
<text x="520.00" y="743.30" font-size="9.8" text-anchor="middle" fill="#1a1a1a" >47%</text>
<line x1="543.70" y1="897.30" x2="543.70" y2="900.30" stroke="#111" stroke-width="1.0" />
<text x="545.50" y="906.80" font-size="10.5" text-anchor="end" fill="#1a1a1a" transform="rotate(-45 545.50 906.80)">ORF10</text>
<text x="546.00" y="743.30" font-size="9.8" text-anchor="middle" fill="#1a1a1a" >6%</text>
<circle cx="303.28" cy="826.30" r="2.6" fill="#fff" stroke="#333" stroke-width="0.8"/>
<circle cx="303.28" cy="832.74" r="2.6" fill="#fff" stroke="#333" stroke-width="0.8"/>
<circle cx="303.65" cy="853.92" r="2.6" fill="#fff" stroke="#333" stroke-width="0.8"/>
<circle cx="303.65" cy="806.96" r="2.6" fill="#fff" stroke="#333" stroke-width="0.8"/>
<circle cx="303.65" cy="776.21" r="2.6" fill="#e22c1c" stroke="#2a0500" stroke-width="0.8"/>
<circle cx="298.67" cy="790.39" r="2.6" fill="#e22c1c" stroke="#2a0500" stroke-width="0.8"/>
<circle cx="303.65" cy="787.62" r="2.6" fill="#e22c1c" stroke="#2a0500" stroke-width="0.8"/>
<circle cx="308.80" cy="789.47" r="2.6" fill="#e22c1c" stroke="#2a0500" stroke-width="0.8"/>
<circle cx="297.75" cy="794.99" r="2.6" fill="#e22c1c" stroke="#2a0500" stroke-width="0.8"/>
<circle cx="304.20" cy="794.07" r="2.6" fill="#e22c1c" stroke="#2a0500" stroke-width="0.8"/>
<circle cx="309.72" cy="795.91" r="2.6" fill="#e22c1c" stroke="#2a0500" stroke-width="0.8"/>
<circle cx="301.44" cy="799.59" r="2.6" fill="#e22c1c" stroke="#2a0500" stroke-width="0.8"/>
<circle cx="306.96" cy="799.59" r="2.6" fill="#e22c1c" stroke="#2a0500" stroke-width="0.8"/>
<circle cx="298.67" cy="805.12" r="2.6" fill="#e22c1c" stroke="#2a0500" stroke-width="0.8"/>
<circle cx="304.20" cy="804.20" r="2.6" fill="#e22c1c" stroke="#2a0500" stroke-width="0.8"/>
<circle cx="309.72" cy="806.04" r="2.6" fill="#e22c1c" stroke="#2a0500" stroke-width="0.8"/>
<circle cx="297.75" cy="809.72" r="2.6" fill="#e22c1c" stroke="#2a0500" stroke-width="0.8"/>
<circle cx="303.28" cy="810.64" r="2.6" fill="#e22c1c" stroke="#2a0500" stroke-width="0.8"/>
<circle cx="308.80" cy="811.57" r="2.6" fill="#e22c1c" stroke="#2a0500" stroke-width="0.8"/>
<circle cx="298.67" cy="814.33" r="2.6" fill="#e22c1c" stroke="#2a0500" stroke-width="0.8"/>
<circle cx="304.20" cy="815.25" r="2.6" fill="#e22c1c" stroke="#2a0500" stroke-width="0.8"/>
<circle cx="309.72" cy="815.25" r="2.6" fill="#e22c1c" stroke="#2a0500" stroke-width="0.8"/>
<circle cx="303.28" cy="821.69" r="2.6" fill="#e22c1c" stroke="#2a0500" stroke-width="0.8"/>
<circle cx="299.59" cy="827.22" r="2.6" fill="#e22c1c" stroke="#2a0500" stroke-width="0.8"/>
<circle cx="305.12" cy="824.46" r="2.6" fill="#e22c1c" stroke="#2a0500" stroke-width="0.8"/>
<circle cx="305.12" cy="829.98" r="2.6" fill="#e22c1c" stroke="#2a0500" stroke-width="0.8"/>
<circle cx="299.59" cy="836.43" r="2.6" fill="#e22c1c" stroke="#2a0500" stroke-width="0.8"/>
<circle cx="304.20" cy="837.35" r="2.6" fill="#e22c1c" stroke="#2a0500" stroke-width="0.8"/>
<circle cx="302.36" cy="841.03" r="2.6" fill="#e22c1c" stroke="#2a0500" stroke-width="0.8"/>
<circle cx="303.28" cy="845.64" r="2.6" fill="#e22c1c" stroke="#2a0500" stroke-width="0.8"/>
<line x1="295.91" y1="808.25" x2="311.57" y2="808.25" stroke="#111" stroke-width="1.6" />
<circle cx="327.22" cy="829.06" r="2.6" fill="#fff" stroke="#333" stroke-width="0.8"/>
<circle cx="329.06" cy="832.74" r="2.6" fill="#fff" stroke="#333" stroke-width="0.8"/>
<circle cx="327.22" cy="849.32" r="2.6" fill="#fff" stroke="#333" stroke-width="0.8"/>
<circle cx="328.14" cy="781.73" r="2.6" fill="#1b8450" stroke="#052818" stroke-width="0.8"/>
<circle cx="328.14" cy="787.62" r="2.6" fill="#1b8450" stroke="#052818" stroke-width="0.8"/>
<circle cx="322.62" cy="794.07" r="2.6" fill="#1b8450" stroke="#052818" stroke-width="0.8"/>
<circle cx="328.14" cy="793.15" r="2.6" fill="#1b8450" stroke="#052818" stroke-width="0.8"/>
<circle cx="333.66" cy="795.91" r="2.6" fill="#1b8450" stroke="#052818" stroke-width="0.8"/>
<circle cx="325.38" cy="798.67" r="2.6" fill="#1b8450" stroke="#052818" stroke-width="0.8"/>
<circle cx="330.90" cy="799.59" r="2.6" fill="#1b8450" stroke="#052818" stroke-width="0.8"/>
<circle cx="328.14" cy="804.20" r="2.6" fill="#1b8450" stroke="#052818" stroke-width="0.8"/>
<circle cx="322.62" cy="807.88" r="2.6" fill="#1b8450" stroke="#052818" stroke-width="0.8"/>
<circle cx="330.90" cy="808.80" r="2.6" fill="#1b8450" stroke="#052818" stroke-width="0.8"/>
<circle cx="325.38" cy="813.41" r="2.6" fill="#1b8450" stroke="#052818" stroke-width="0.8"/>
<circle cx="329.06" cy="818.93" r="2.6" fill="#1b8450" stroke="#052818" stroke-width="0.8"/>
<circle cx="322.62" cy="820.77" r="2.6" fill="#1b8450" stroke="#052818" stroke-width="0.8"/>
<circle cx="329.06" cy="823.54" r="2.6" fill="#1b8450" stroke="#052818" stroke-width="0.8"/>
<circle cx="326.30" cy="827.22" r="2.6" fill="#1b8450" stroke="#052818" stroke-width="0.8"/>
<circle cx="331.82" cy="826.30" r="2.6" fill="#1b8450" stroke="#052818" stroke-width="0.8"/>
<circle cx="323.54" cy="832.74" r="2.6" fill="#1b8450" stroke="#052818" stroke-width="0.8"/>
<circle cx="329.98" cy="833.66" r="2.6" fill="#1b8450" stroke="#052818" stroke-width="0.8"/>
<circle cx="325.38" cy="838.27" r="2.6" fill="#1b8450" stroke="#052818" stroke-width="0.8"/>
<circle cx="329.98" cy="839.19" r="2.6" fill="#1b8450" stroke="#052818" stroke-width="0.8"/>
<circle cx="323.54" cy="841.95" r="2.6" fill="#1b8450" stroke="#052818" stroke-width="0.8"/>
<circle cx="327.22" cy="844.71" r="2.6" fill="#1b8450" stroke="#052818" stroke-width="0.8"/>
<circle cx="329.98" cy="846.56" r="2.6" fill="#1b8450" stroke="#052818" stroke-width="0.8"/>
<line x1="320.77" y1="815.25" x2="335.51" y2="815.25" stroke="#111" stroke-width="1.6" />
<line x1="352.10" y1="848.40" x2="352.10" y2="865.89" stroke="#333" stroke-width="0.9" />
<line x1="347.10" y1="848.40" x2="357.10" y2="848.40" stroke="#333" stroke-width="0.9" />
<line x1="347.10" y1="865.89" x2="357.10" y2="865.89" stroke="#333" stroke-width="0.9" />
<circle cx="352.08" cy="830.90" r="2.6" fill="#fff" stroke="#333" stroke-width="0.8"/>
<circle cx="348.40" cy="841.03" r="2.6" fill="#fff" stroke="#333" stroke-width="0.8"/>
<circle cx="355.76" cy="841.03" r="2.6" fill="#fff" stroke="#333" stroke-width="0.8"/>
<circle cx="347.48" cy="850.24" r="2.6" fill="#fff" stroke="#333" stroke-width="0.8"/>
<circle cx="353.00" cy="848.40" r="2.6" fill="#fff" stroke="#333" stroke-width="0.8"/>
<circle cx="357.61" cy="850.24" r="2.6" fill="#fff" stroke="#333" stroke-width="0.8"/>
<circle cx="346.56" cy="854.84" r="2.6" fill="#fff" stroke="#333" stroke-width="0.8"/>
<circle cx="351.16" cy="853.92" r="2.6" fill="#fff" stroke="#333" stroke-width="0.8"/>
<circle cx="355.76" cy="854.84" r="2.6" fill="#fff" stroke="#333" stroke-width="0.8"/>
<circle cx="348.40" cy="859.45" r="2.6" fill="#fff" stroke="#333" stroke-width="0.8"/>
<circle cx="353.00" cy="860.37" r="2.6" fill="#fff" stroke="#333" stroke-width="0.8"/>
<circle cx="357.61" cy="858.53" r="2.6" fill="#fff" stroke="#333" stroke-width="0.8"/>
<circle cx="347.48" cy="864.05" r="2.6" fill="#fff" stroke="#333" stroke-width="0.8"/>
<circle cx="352.08" cy="864.97" r="2.6" fill="#fff" stroke="#333" stroke-width="0.8"/>
<circle cx="355.76" cy="863.13" r="2.6" fill="#fff" stroke="#333" stroke-width="0.8"/>
<circle cx="350.24" cy="868.66" r="2.6" fill="#fff" stroke="#333" stroke-width="0.8"/>
<circle cx="349.32" cy="874.18" r="2.6" fill="#fff" stroke="#333" stroke-width="0.8"/>
<circle cx="353.92" cy="874.18" r="2.6" fill="#fff" stroke="#333" stroke-width="0.8"/>
<circle cx="352.08" cy="883.02" r="2.6" fill="#fff" stroke="#333" stroke-width="0.8"/>
<circle cx="350.24" cy="897.20" r="2.6" fill="#fff" stroke="#333" stroke-width="0.8"/>
<circle cx="353.92" cy="897.20" r="2.6" fill="#fff" stroke="#333" stroke-width="0.8"/>
<circle cx="352.08" cy="824.83" r="2.6" fill="#f0f000" stroke="#555" stroke-width="0.8"/>
<circle cx="353.00" cy="841.95" r="2.6" fill="#f0f000" stroke="#555" stroke-width="0.8"/>
<line x1="345.64" y1="857.05" x2="359.45" y2="857.05" stroke="#111" stroke-width="1.6" />
<line x1="375.70" y1="826.30" x2="375.70" y2="859.45" stroke="#333" stroke-width="0.9" />
<line x1="370.70" y1="826.30" x2="380.70" y2="826.30" stroke="#333" stroke-width="0.9" />
<line x1="370.70" y1="859.45" x2="380.70" y2="859.45" stroke="#333" stroke-width="0.9" />
<circle cx="377.86" cy="841.03" r="2.6" fill="#fff" stroke="#333" stroke-width="0.8"/>
<circle cx="371.42" cy="847.48" r="2.6" fill="#fff" stroke="#333" stroke-width="0.8"/>
<circle cx="380.63" cy="848.40" r="2.6" fill="#fff" stroke="#333" stroke-width="0.8"/>
<circle cx="374.18" cy="852.08" r="2.6" fill="#fff" stroke="#333" stroke-width="0.8"/>
<circle cx="377.86" cy="855.76" r="2.6" fill="#fff" stroke="#333" stroke-width="0.8"/>
<circle cx="371.42" cy="859.45" r="2.6" fill="#fff" stroke="#333" stroke-width="0.8"/>
<circle cx="376.94" cy="861.29" r="2.6" fill="#fff" stroke="#333" stroke-width="0.8"/>
<circle cx="372.34" cy="865.89" r="2.6" fill="#fff" stroke="#333" stroke-width="0.8"/>
<circle cx="377.86" cy="865.89" r="2.6" fill="#fff" stroke="#333" stroke-width="0.8"/>
<circle cx="374.18" cy="866.81" r="2.6" fill="#fff" stroke="#333" stroke-width="0.8"/>
<circle cx="372.34" cy="874.18" r="2.6" fill="#fff" stroke="#333" stroke-width="0.8"/>
<circle cx="376.02" cy="874.18" r="2.6" fill="#fff" stroke="#333" stroke-width="0.8"/>
<circle cx="378.78" cy="876.39" r="2.6" fill="#fff" stroke="#333" stroke-width="0.8"/>
<circle cx="375.65" cy="897.20" r="2.6" fill="#fff" stroke="#333" stroke-width="0.8"/>
<circle cx="375.10" cy="783.57" r="2.6" fill="#d54fe0" stroke="#4a1050" stroke-width="0.8"/>
<circle cx="376.94" cy="780.63" r="2.6" fill="#d54fe0" stroke="#4a1050" stroke-width="0.8"/>
<circle cx="375.65" cy="800.52" r="2.6" fill="#d54fe0" stroke="#4a1050" stroke-width="0.8"/>
<circle cx="374.18" cy="813.41" r="2.6" fill="#d54fe0" stroke="#4a1050" stroke-width="0.8"/>
<circle cx="378.78" cy="812.49" r="2.6" fill="#d54fe0" stroke="#4a1050" stroke-width="0.8"/>
<circle cx="370.50" cy="819.85" r="2.6" fill="#d54fe0" stroke="#4a1050" stroke-width="0.8"/>
<circle cx="376.02" cy="820.77" r="2.6" fill="#d54fe0" stroke="#4a1050" stroke-width="0.8"/>
<circle cx="381.55" cy="818.93" r="2.6" fill="#d54fe0" stroke="#4a1050" stroke-width="0.8"/>
<circle cx="372.34" cy="824.46" r="2.6" fill="#d54fe0" stroke="#4a1050" stroke-width="0.8"/>
<circle cx="378.78" cy="825.38" r="2.6" fill="#d54fe0" stroke="#4a1050" stroke-width="0.8"/>
<circle cx="370.50" cy="829.98" r="2.6" fill="#d54fe0" stroke="#4a1050" stroke-width="0.8"/>
<circle cx="376.02" cy="829.06" r="2.6" fill="#d54fe0" stroke="#4a1050" stroke-width="0.8"/>
<circle cx="380.63" cy="829.98" r="2.6" fill="#d54fe0" stroke="#4a1050" stroke-width="0.8"/>
<circle cx="373.26" cy="834.59" r="2.6" fill="#d54fe0" stroke="#4a1050" stroke-width="0.8"/>
<circle cx="378.78" cy="835.51" r="2.6" fill="#d54fe0" stroke="#4a1050" stroke-width="0.8"/>
<circle cx="375.10" cy="841.03" r="2.6" fill="#d54fe0" stroke="#4a1050" stroke-width="0.8"/>
<line x1="368.66" y1="838.82" x2="383.39" y2="838.82" stroke="#111" stroke-width="1.6" />
<circle cx="394.57" cy="830.69" r="2.6" fill="#fff" stroke="#333" stroke-width="0.8"/>
<circle cx="393.84" cy="848.37" r="2.6" fill="#fff" stroke="#333" stroke-width="0.8"/>
<circle cx="398.99" cy="846.16" r="2.6" fill="#fff" stroke="#333" stroke-width="0.8"/>
<circle cx="401.94" cy="848.37" r="2.6" fill="#fff" stroke="#333" stroke-width="0.8"/>
<circle cx="398.25" cy="852.78" r="2.6" fill="#fff" stroke="#333" stroke-width="0.8"/>
<circle cx="401.20" cy="852.05" r="2.6" fill="#fff" stroke="#333" stroke-width="0.8"/>
<circle cx="399.73" cy="857.94" r="2.6" fill="#fff" stroke="#333" stroke-width="0.8"/>
<circle cx="396.05" cy="873.40" r="2.6" fill="#fff" stroke="#333" stroke-width="0.8"/>
<circle cx="400.46" cy="871.93" r="2.6" fill="#fff" stroke="#333" stroke-width="0.8"/>
<circle cx="402.67" cy="873.40" r="2.6" fill="#fff" stroke="#333" stroke-width="0.8"/>
<circle cx="399.73" cy="793.14" r="2.6" fill="#2040c8" stroke="#0a1450" stroke-width="0.8"/>
<circle cx="401.20" cy="794.61" r="2.6" fill="#2040c8" stroke="#0a1450" stroke-width="0.8"/>
<circle cx="399.73" cy="802.71" r="2.6" fill="#2040c8" stroke="#0a1450" stroke-width="0.8"/>
<circle cx="397.52" cy="808.60" r="2.6" fill="#2040c8" stroke="#0a1450" stroke-width="0.8"/>
<circle cx="402.67" cy="810.81" r="2.6" fill="#2040c8" stroke="#0a1450" stroke-width="0.8"/>
<circle cx="398.99" cy="812.28" r="2.6" fill="#2040c8" stroke="#0a1450" stroke-width="0.8"/>
<circle cx="396.78" cy="818.17" r="2.6" fill="#2040c8" stroke="#0a1450" stroke-width="0.8"/>
<circle cx="401.94" cy="817.44" r="2.6" fill="#2040c8" stroke="#0a1450" stroke-width="0.8"/>
<circle cx="399.73" cy="821.86" r="2.6" fill="#2040c8" stroke="#0a1450" stroke-width="0.8"/>
<circle cx="395.31" cy="824.06" r="2.6" fill="#2040c8" stroke="#0a1450" stroke-width="0.8"/>
<circle cx="403.41" cy="824.80" r="2.6" fill="#2040c8" stroke="#0a1450" stroke-width="0.8"/>
<circle cx="404.88" cy="828.48" r="2.6" fill="#2040c8" stroke="#0a1450" stroke-width="0.8"/>
<circle cx="401.20" cy="829.22" r="2.6" fill="#2040c8" stroke="#0a1450" stroke-width="0.8"/>
<circle cx="398.25" cy="832.16" r="2.6" fill="#2040c8" stroke="#0a1450" stroke-width="0.8"/>
<circle cx="393.84" cy="836.58" r="2.6" fill="#2040c8" stroke="#0a1450" stroke-width="0.8"/>
<circle cx="399.73" cy="836.58" r="2.6" fill="#2040c8" stroke="#0a1450" stroke-width="0.8"/>
<circle cx="405.62" cy="835.11" r="2.6" fill="#2040c8" stroke="#0a1450" stroke-width="0.8"/>
<circle cx="398.25" cy="839.53" r="2.6" fill="#2040c8" stroke="#0a1450" stroke-width="0.8"/>
<circle cx="404.15" cy="840.27" r="2.6" fill="#2040c8" stroke="#0a1450" stroke-width="0.8"/>
<circle cx="405.62" cy="845.42" r="2.6" fill="#2040c8" stroke="#0a1450" stroke-width="0.8"/>
<line x1="392.36" y1="835.85" x2="407.09" y2="835.85" stroke="#111" stroke-width="1.6" />
<line x1="423.60" y1="848.37" x2="423.60" y2="866.04" stroke="#333" stroke-width="0.9" />
<line x1="418.60" y1="848.37" x2="428.60" y2="848.37" stroke="#333" stroke-width="0.9" />
<line x1="418.60" y1="866.04" x2="428.60" y2="866.04" stroke="#333" stroke-width="0.9" />
<circle cx="423.59" cy="826.27" r="2.6" fill="#fff" stroke="#333" stroke-width="0.8"/>
<circle cx="425.50" cy="833.64" r="2.6" fill="#fff" stroke="#333" stroke-width="0.8"/>
<circle cx="422.56" cy="836.58" r="2.6" fill="#fff" stroke="#333" stroke-width="0.8"/>
<circle cx="425.50" cy="842.47" r="2.6" fill="#fff" stroke="#333" stroke-width="0.8"/>
<circle cx="420.35" cy="845.42" r="2.6" fill="#fff" stroke="#333" stroke-width="0.8"/>
<circle cx="427.71" cy="845.42" r="2.6" fill="#fff" stroke="#333" stroke-width="0.8"/>
<circle cx="418.14" cy="851.31" r="2.6" fill="#fff" stroke="#333" stroke-width="0.8"/>
<circle cx="423.29" cy="850.57" r="2.6" fill="#fff" stroke="#333" stroke-width="0.8"/>
<circle cx="428.45" cy="851.31" r="2.6" fill="#fff" stroke="#333" stroke-width="0.8"/>
<circle cx="418.87" cy="855.73" r="2.6" fill="#fff" stroke="#333" stroke-width="0.8"/>
<circle cx="424.03" cy="855.73" r="2.6" fill="#fff" stroke="#333" stroke-width="0.8"/>
<circle cx="429.18" cy="857.20" r="2.6" fill="#fff" stroke="#333" stroke-width="0.8"/>
<circle cx="417.40" cy="860.15" r="2.6" fill="#fff" stroke="#333" stroke-width="0.8"/>
<circle cx="421.82" cy="860.88" r="2.6" fill="#fff" stroke="#333" stroke-width="0.8"/>
<circle cx="426.97" cy="860.15" r="2.6" fill="#fff" stroke="#333" stroke-width="0.8"/>
<circle cx="420.35" cy="864.57" r="2.6" fill="#fff" stroke="#333" stroke-width="0.8"/>
<circle cx="424.76" cy="864.57" r="2.6" fill="#fff" stroke="#333" stroke-width="0.8"/>
<circle cx="422.56" cy="868.98" r="2.6" fill="#fff" stroke="#333" stroke-width="0.8"/>
<circle cx="424.76" cy="873.40" r="2.6" fill="#fff" stroke="#333" stroke-width="0.8"/>
<circle cx="422.56" cy="877.08" r="2.6" fill="#fff" stroke="#333" stroke-width="0.8"/>
<circle cx="424.03" cy="882.97" r="2.6" fill="#fff" stroke="#333" stroke-width="0.8"/>
<circle cx="421.08" cy="897.70" r="2.6" fill="#fff" stroke="#333" stroke-width="0.8"/>
<circle cx="424.03" cy="897.70" r="2.6" fill="#fff" stroke="#333" stroke-width="0.8"/>
<circle cx="426.97" cy="897.70" r="2.6" fill="#fff" stroke="#333" stroke-width="0.8"/>
<circle cx="421.82" cy="841.00" r="2.6" fill="#111" stroke="#000" stroke-width="0.8"/>
<line x1="416.66" y1="857.50" x2="431.39" y2="857.50" stroke="#111" stroke-width="1.6" />
<circle cx="448.33" cy="837.32" r="2.6" fill="#fff" stroke="#333" stroke-width="0.8"/>
<circle cx="441.70" cy="846.89" r="2.6" fill="#fff" stroke="#333" stroke-width="0.8"/>
<circle cx="452.75" cy="847.63" r="2.6" fill="#fff" stroke="#333" stroke-width="0.8"/>
<circle cx="444.65" cy="850.57" r="2.6" fill="#fff" stroke="#333" stroke-width="0.8"/>
<circle cx="449.80" cy="851.31" r="2.6" fill="#fff" stroke="#333" stroke-width="0.8"/>
<circle cx="442.44" cy="855.73" r="2.6" fill="#fff" stroke="#333" stroke-width="0.8"/>
<circle cx="446.86" cy="855.73" r="2.6" fill="#fff" stroke="#333" stroke-width="0.8"/>
<circle cx="452.01" cy="855.73" r="2.6" fill="#fff" stroke="#333" stroke-width="0.8"/>
<circle cx="443.17" cy="860.15" r="2.6" fill="#fff" stroke="#333" stroke-width="0.8"/>
<circle cx="447.59" cy="860.88" r="2.6" fill="#fff" stroke="#333" stroke-width="0.8"/>
<circle cx="452.75" cy="860.15" r="2.6" fill="#fff" stroke="#333" stroke-width="0.8"/>
<circle cx="445.38" cy="864.57" r="2.6" fill="#fff" stroke="#333" stroke-width="0.8"/>
<circle cx="449.80" cy="865.30" r="2.6" fill="#fff" stroke="#333" stroke-width="0.8"/>
<circle cx="446.86" cy="874.87" r="2.6" fill="#fff" stroke="#333" stroke-width="0.8"/>
<circle cx="450.54" cy="876.35" r="2.6" fill="#fff" stroke="#333" stroke-width="0.8"/>
<circle cx="448.33" cy="879.29" r="2.6" fill="#fff" stroke="#333" stroke-width="0.8"/>
<circle cx="447.59" cy="897.70" r="2.6" fill="#fff" stroke="#333" stroke-width="0.8"/>
<circle cx="446.12" cy="799.76" r="2.6" fill="#4a4a4a" stroke="#111" stroke-width="0.8"/>
<circle cx="449.80" cy="801.97" r="2.6" fill="#4a4a4a" stroke="#111" stroke-width="0.8"/>
<circle cx="451.27" cy="805.66" r="2.6" fill="#4a4a4a" stroke="#111" stroke-width="0.8"/>
<circle cx="446.86" cy="808.60" r="2.6" fill="#4a4a4a" stroke="#111" stroke-width="0.8"/>
<circle cx="449.06" cy="810.81" r="2.6" fill="#4a4a4a" stroke="#111" stroke-width="0.8"/>
<circle cx="446.12" cy="815.23" r="2.6" fill="#4a4a4a" stroke="#111" stroke-width="0.8"/>
<circle cx="448.33" cy="817.44" r="2.6" fill="#4a4a4a" stroke="#111" stroke-width="0.8"/>
<circle cx="447.59" cy="824.06" r="2.6" fill="#4a4a4a" stroke="#111" stroke-width="0.8"/>
<circle cx="443.91" cy="829.22" r="2.6" fill="#4a4a4a" stroke="#111" stroke-width="0.8"/>
<circle cx="449.06" cy="829.22" r="2.6" fill="#4a4a4a" stroke="#111" stroke-width="0.8"/>
<circle cx="446.12" cy="833.64" r="2.6" fill="#4a4a4a" stroke="#111" stroke-width="0.8"/>
<circle cx="443.91" cy="841.00" r="2.6" fill="#4a4a4a" stroke="#111" stroke-width="0.8"/>
<circle cx="448.33" cy="842.47" r="2.6" fill="#4a4a4a" stroke="#111" stroke-width="0.8"/>
<circle cx="445.38" cy="845.42" r="2.6" fill="#4a4a4a" stroke="#111" stroke-width="0.8"/>
<line x1="440.23" y1="849.10" x2="454.96" y2="849.10" stroke="#111" stroke-width="1.6" />
<line x1="471.90" y1="838.06" x2="471.90" y2="866.04" stroke="#333" stroke-width="0.9" />
<line x1="466.90" y1="838.06" x2="476.90" y2="838.06" stroke="#333" stroke-width="0.9" />
<line x1="466.90" y1="866.04" x2="476.90" y2="866.04" stroke="#333" stroke-width="0.9" />
<circle cx="471.89" cy="828.48" r="2.6" fill="#fff" stroke="#333" stroke-width="0.8"/>
<circle cx="471.89" cy="832.90" r="2.6" fill="#fff" stroke="#333" stroke-width="0.8"/>
<circle cx="469.68" cy="838.79" r="2.6" fill="#fff" stroke="#333" stroke-width="0.8"/>
<circle cx="473.37" cy="840.27" r="2.6" fill="#fff" stroke="#333" stroke-width="0.8"/>
<circle cx="466.74" cy="845.42" r="2.6" fill="#fff" stroke="#333" stroke-width="0.8"/>
<circle cx="471.89" cy="845.42" r="2.6" fill="#fff" stroke="#333" stroke-width="0.8"/>
<circle cx="477.05" cy="846.89" r="2.6" fill="#fff" stroke="#333" stroke-width="0.8"/>
<circle cx="468.95" cy="851.31" r="2.6" fill="#fff" stroke="#333" stroke-width="0.8"/>
<circle cx="474.10" cy="852.05" r="2.6" fill="#fff" stroke="#333" stroke-width="0.8"/>
<circle cx="471.89" cy="855.73" r="2.6" fill="#fff" stroke="#333" stroke-width="0.8"/>
<circle cx="469.68" cy="865.30" r="2.6" fill="#fff" stroke="#333" stroke-width="0.8"/>
<circle cx="474.10" cy="866.04" r="2.6" fill="#fff" stroke="#333" stroke-width="0.8"/>
<circle cx="471.89" cy="868.98" r="2.6" fill="#fff" stroke="#333" stroke-width="0.8"/>
<circle cx="471.89" cy="872.67" r="2.6" fill="#fff" stroke="#333" stroke-width="0.8"/>
<circle cx="471.16" cy="876.35" r="2.6" fill="#fff" stroke="#333" stroke-width="0.8"/>
<circle cx="471.89" cy="897.70" r="2.6" fill="#fff" stroke="#333" stroke-width="0.8"/>
<circle cx="471.89" cy="821.86" r="2.6" fill="#777" stroke="#222" stroke-width="0.8"/>
<line x1="464.53" y1="848.07" x2="479.26" y2="848.07" stroke="#111" stroke-width="1.6" />
<circle cx="495.04" cy="826.27" r="2.6" fill="#fff" stroke="#333" stroke-width="0.8"/>
<circle cx="497.25" cy="829.96" r="2.6" fill="#fff" stroke="#333" stroke-width="0.8"/>
<circle cx="492.09" cy="845.42" r="2.6" fill="#fff" stroke="#333" stroke-width="0.8"/>
<circle cx="499.46" cy="848.37" r="2.6" fill="#fff" stroke="#333" stroke-width="0.8"/>
<circle cx="493.56" cy="849.84" r="2.6" fill="#fff" stroke="#333" stroke-width="0.8"/>
<circle cx="497.25" cy="852.05" r="2.6" fill="#fff" stroke="#333" stroke-width="0.8"/>
<circle cx="492.09" cy="857.20" r="2.6" fill="#fff" stroke="#333" stroke-width="0.8"/>
<circle cx="498.72" cy="856.47" r="2.6" fill="#fff" stroke="#333" stroke-width="0.8"/>
<circle cx="495.04" cy="860.15" r="2.6" fill="#fff" stroke="#333" stroke-width="0.8"/>
<circle cx="492.83" cy="863.09" r="2.6" fill="#fff" stroke="#333" stroke-width="0.8"/>
<circle cx="496.51" cy="866.04" r="2.6" fill="#fff" stroke="#333" stroke-width="0.8"/>
<circle cx="494.30" cy="867.51" r="2.6" fill="#fff" stroke="#333" stroke-width="0.8"/>
<circle cx="495.77" cy="876.35" r="2.6" fill="#fff" stroke="#333" stroke-width="0.8"/>
<circle cx="495.77" cy="897.70" r="2.6" fill="#fff" stroke="#333" stroke-width="0.8"/>
<circle cx="495.77" cy="812.28" r="2.6" fill="#999" stroke="#333" stroke-width="0.8"/>
<circle cx="495.77" cy="817.44" r="2.6" fill="#999" stroke="#333" stroke-width="0.8"/>
<circle cx="494.30" cy="834.37" r="2.6" fill="#999" stroke="#333" stroke-width="0.8"/>
<circle cx="497.25" cy="836.58" r="2.6" fill="#999" stroke="#333" stroke-width="0.8"/>
<circle cx="489.88" cy="842.47" r="2.6" fill="#999" stroke="#333" stroke-width="0.8"/>
<circle cx="493.56" cy="840.27" r="2.6" fill="#999" stroke="#333" stroke-width="0.8"/>
<circle cx="497.98" cy="841.74" r="2.6" fill="#999" stroke="#333" stroke-width="0.8"/>
<circle cx="500.93" cy="841.74" r="2.6" fill="#999" stroke="#333" stroke-width="0.8"/>
<circle cx="495.77" cy="844.68" r="2.6" fill="#999" stroke="#333" stroke-width="0.8"/>
<line x1="487.67" y1="846.16" x2="503.87" y2="846.16" stroke="#111" stroke-width="1.6" />
<circle cx="514.92" cy="846.89" r="2.6" fill="#fff" stroke="#333" stroke-width="0.8"/>
<circle cx="517.86" cy="848.37" r="2.6" fill="#fff" stroke="#333" stroke-width="0.8"/>
<circle cx="522.28" cy="849.84" r="2.6" fill="#fff" stroke="#333" stroke-width="0.8"/>
<circle cx="525.23" cy="852.05" r="2.6" fill="#fff" stroke="#333" stroke-width="0.8"/>
<circle cx="513.45" cy="853.52" r="2.6" fill="#fff" stroke="#333" stroke-width="0.8"/>
<circle cx="517.13" cy="854.26" r="2.6" fill="#fff" stroke="#333" stroke-width="0.8"/>
<circle cx="521.55" cy="855.73" r="2.6" fill="#fff" stroke="#333" stroke-width="0.8"/>
<circle cx="519.34" cy="858.67" r="2.6" fill="#fff" stroke="#333" stroke-width="0.8"/>
<circle cx="518.60" cy="860.15" r="2.6" fill="#fff" stroke="#333" stroke-width="0.8"/>
<circle cx="519.78" cy="866.04" r="2.6" fill="#fff" stroke="#333" stroke-width="0.8"/>
<circle cx="520.81" cy="873.40" r="2.6" fill="#fff" stroke="#333" stroke-width="0.8"/>
<circle cx="517.86" cy="876.35" r="2.6" fill="#fff" stroke="#333" stroke-width="0.8"/>
<circle cx="519.78" cy="897.70" r="2.6" fill="#fff" stroke="#333" stroke-width="0.8"/>
<circle cx="519.78" cy="801.24" r="2.6" fill="#aaa" stroke="#333" stroke-width="0.8"/>
<circle cx="519.78" cy="815.96" r="2.6" fill="#aaa" stroke="#333" stroke-width="0.8"/>
<circle cx="519.78" cy="824.06" r="2.6" fill="#aaa" stroke="#333" stroke-width="0.8"/>
<circle cx="520.07" cy="828.48" r="2.6" fill="#aaa" stroke="#333" stroke-width="0.8"/>
<circle cx="516.39" cy="830.69" r="2.6" fill="#aaa" stroke="#333" stroke-width="0.8"/>
<circle cx="522.28" cy="829.96" r="2.6" fill="#aaa" stroke="#333" stroke-width="0.8"/>
<circle cx="517.13" cy="838.06" r="2.6" fill="#aaa" stroke="#333" stroke-width="0.8"/>
<circle cx="521.55" cy="836.58" r="2.6" fill="#aaa" stroke="#333" stroke-width="0.8"/>
<circle cx="515.66" cy="842.47" r="2.6" fill="#aaa" stroke="#333" stroke-width="0.8"/>
<circle cx="520.07" cy="841.74" r="2.6" fill="#aaa" stroke="#333" stroke-width="0.8"/>
<circle cx="523.76" cy="842.47" r="2.6" fill="#aaa" stroke="#333" stroke-width="0.8"/>
<circle cx="518.60" cy="845.42" r="2.6" fill="#aaa" stroke="#333" stroke-width="0.8"/>
<line x1="511.97" y1="844.24" x2="527.44" y2="844.24" stroke="#111" stroke-width="1.6" />
<line x1="543.60" y1="851.31" x2="543.60" y2="876.35" stroke="#333" stroke-width="0.9" />
<line x1="538.60" y1="851.31" x2="548.60" y2="851.31" stroke="#333" stroke-width="0.9" />
<line x1="538.60" y1="876.35" x2="548.60" y2="876.35" stroke="#333" stroke-width="0.9" />
<circle cx="544.37" cy="831.43" r="2.6" fill="#fff" stroke="#333" stroke-width="0.8"/>
<circle cx="542.16" cy="835.11" r="2.6" fill="#fff" stroke="#333" stroke-width="0.8"/>
<circle cx="543.64" cy="843.95" r="2.6" fill="#fff" stroke="#333" stroke-width="0.8"/>
<circle cx="542.90" cy="845.42" r="2.6" fill="#fff" stroke="#333" stroke-width="0.8"/>
<circle cx="540.69" cy="849.84" r="2.6" fill="#fff" stroke="#333" stroke-width="0.8"/>
<circle cx="546.58" cy="849.84" r="2.6" fill="#fff" stroke="#333" stroke-width="0.8"/>
<circle cx="543.64" cy="853.52" r="2.6" fill="#fff" stroke="#333" stroke-width="0.8"/>
<circle cx="546.58" cy="854.26" r="2.6" fill="#fff" stroke="#333" stroke-width="0.8"/>
<circle cx="542.90" cy="858.67" r="2.6" fill="#fff" stroke="#333" stroke-width="0.8"/>
<circle cx="545.11" cy="860.15" r="2.6" fill="#fff" stroke="#333" stroke-width="0.8"/>
<circle cx="541.43" cy="863.83" r="2.6" fill="#fff" stroke="#333" stroke-width="0.8"/>
<circle cx="546.58" cy="864.57" r="2.6" fill="#fff" stroke="#333" stroke-width="0.8"/>
<circle cx="543.64" cy="868.25" r="2.6" fill="#fff" stroke="#333" stroke-width="0.8"/>
<circle cx="539.96" cy="871.93" r="2.6" fill="#fff" stroke="#333" stroke-width="0.8"/>
<circle cx="546.58" cy="871.93" r="2.6" fill="#fff" stroke="#333" stroke-width="0.8"/>
<circle cx="542.16" cy="874.87" r="2.6" fill="#fff" stroke="#333" stroke-width="0.8"/>
<circle cx="545.11" cy="874.14" r="2.6" fill="#fff" stroke="#333" stroke-width="0.8"/>
<circle cx="543.64" cy="879.29" r="2.6" fill="#fff" stroke="#333" stroke-width="0.8"/>
<circle cx="537.75" cy="897.70" r="2.6" fill="#fff" stroke="#333" stroke-width="0.8"/>
<circle cx="542.90" cy="897.70" r="2.6" fill="#fff" stroke="#333" stroke-width="0.8"/>
<circle cx="548.06" cy="897.70" r="2.6" fill="#fff" stroke="#333" stroke-width="0.8"/>
<line x1="536.27" y1="867.22" x2="551.74" y2="867.22" stroke="#111" stroke-width="1.6" />
<text x="600.50" y="716.50" font-size="20" text-anchor="start" font-weight="bold" fill="#000" >g.</text>
<line x1="619.70" y1="754.40" x2="619.70" y2="896.50" stroke="#111" stroke-width="1.3" />
<line x1="619.10" y1="896.50" x2="689.90" y2="896.50" stroke="#111" stroke-width="1.3" />
<line x1="616.50" y1="896.50" x2="619.70" y2="896.50" stroke="#111" stroke-width="1.1" />
<text x="615.50" y="900.10" font-size="10" text-anchor="end" fill="#1a1a1a" >0</text>
<line x1="616.50" y1="868.08" x2="619.70" y2="868.08" stroke="#111" stroke-width="1.1" />
<text x="615.50" y="871.68" font-size="10" text-anchor="end" fill="#1a1a1a" >2</text>
<line x1="616.50" y1="839.66" x2="619.70" y2="839.66" stroke="#111" stroke-width="1.1" />
<text x="615.50" y="843.26" font-size="10" text-anchor="end" fill="#1a1a1a" >4</text>
<line x1="616.50" y1="811.24" x2="619.70" y2="811.24" stroke="#111" stroke-width="1.1" />
<text x="615.50" y="814.84" font-size="10" text-anchor="end" fill="#1a1a1a" >6</text>
<line x1="616.50" y1="782.82" x2="619.70" y2="782.82" stroke="#111" stroke-width="1.1" />
<text x="615.50" y="786.42" font-size="10" text-anchor="end" fill="#1a1a1a" >8</text>
<line x1="616.50" y1="754.40" x2="619.70" y2="754.40" stroke="#111" stroke-width="1.1" />
<text x="615.50" y="758.00" font-size="10" text-anchor="end" fill="#1a1a1a" >10</text>
<text x="600.50" y="822.00" font-size="10" text-anchor="middle" fill="#1a1a1a" transform="rotate(-90 600.50 822.00)">No. proteins with T cell responses</text>
<line x1="639.60" y1="896.50" x2="639.60" y2="899.50" stroke="#111" stroke-width="1.0" />
<text x="639.60" y="911.00" font-size="10" text-anchor="middle" fill="#1a1a1a" >Mild</text>
<line x1="669.40" y1="896.50" x2="669.40" y2="899.50" stroke="#111" stroke-width="1.0" />
<text x="669.40" y="911.00" font-size="10" text-anchor="middle" fill="#1a1a1a" >Severe</text>
<text x="652.40" y="763.60" font-size="8.8" text-anchor="middle" fill="#1a1a1a" >p=0.0129</text>
<line x1="640.50" y1="770.30" x2="668.00" y2="770.30" stroke="#111" stroke-width="1.0" />
<line x1="639.40" y1="821.90" x2="639.40" y2="896.50" stroke="#333" stroke-width="1.1" />
<line x1="634.70" y1="821.90" x2="644.10" y2="821.90" stroke="#333" stroke-width="1.1" />
<polygon points="637.00,794.63 639.40,797.03 637.00,799.43 634.60,797.03" fill="#ffffff" stroke="#777" stroke-width="0.9"/>
<polygon points="641.30,794.63 643.70,797.03 641.30,799.43 638.90,797.03" fill="#ffffff" stroke="#777" stroke-width="0.9"/>
<polygon points="633.30,808.84 635.70,811.24 633.30,813.64 630.90,811.24" fill="#ffffff" stroke="#777" stroke-width="0.9"/>
<polygon points="637.50,808.84 639.90,811.24 637.50,813.64 635.10,811.24" fill="#ffffff" stroke="#777" stroke-width="0.9"/>
<polygon points="641.30,808.84 643.70,811.24 641.30,813.64 638.90,811.24" fill="#ffffff" stroke="#777" stroke-width="0.9"/>
<polygon points="645.10,808.84 647.50,811.24 645.10,813.64 642.70,811.24" fill="#ffffff" stroke="#777" stroke-width="0.9"/>
<polygon points="633.30,823.05 635.70,825.45 633.30,827.85 630.90,825.45" fill="#ffffff" stroke="#777" stroke-width="0.9"/>
<polygon points="637.50,823.05 639.90,825.45 637.50,827.85 635.10,825.45" fill="#ffffff" stroke="#777" stroke-width="0.9"/>
<polygon points="641.30,823.05 643.70,825.45 641.30,827.85 638.90,825.45" fill="#ffffff" stroke="#777" stroke-width="0.9"/>
<polygon points="645.10,823.05 647.50,825.45 645.10,827.85 642.70,825.45" fill="#ffffff" stroke="#777" stroke-width="0.9"/>
<polygon points="633.30,837.26 635.70,839.66 633.30,842.06 630.90,839.66" fill="#ffffff" stroke="#777" stroke-width="0.9"/>
<polygon points="637.50,837.26 639.90,839.66 637.50,842.06 635.10,839.66" fill="#ffffff" stroke="#777" stroke-width="0.9"/>
<polygon points="641.30,837.26 643.70,839.66 641.30,842.06 638.90,839.66" fill="#ffffff" stroke="#777" stroke-width="0.9"/>
<polygon points="645.10,837.26 647.50,839.66 645.10,842.06 642.70,839.66" fill="#ffffff" stroke="#777" stroke-width="0.9"/>
<polygon points="631.40,851.47 633.80,853.87 631.40,856.27 629.00,853.87" fill="#ffffff" stroke="#777" stroke-width="0.9"/>
<polygon points="635.20,851.47 637.60,853.87 635.20,856.27 632.80,853.87" fill="#ffffff" stroke="#777" stroke-width="0.9"/>
<polygon points="639.40,851.47 641.80,853.87 639.40,856.27 637.00,853.87" fill="#ffffff" stroke="#777" stroke-width="0.9"/>
<polygon points="643.20,851.47 645.60,853.87 643.20,856.27 640.80,853.87" fill="#ffffff" stroke="#777" stroke-width="0.9"/>
<polygon points="647.00,851.47 649.40,853.87 647.00,856.27 644.60,853.87" fill="#ffffff" stroke="#777" stroke-width="0.9"/>
<polygon points="631.40,865.68 633.80,868.08 631.40,870.48 629.00,868.08" fill="#ffffff" stroke="#777" stroke-width="0.9"/>
<polygon points="635.20,865.68 637.60,868.08 635.20,870.48 632.80,868.08" fill="#ffffff" stroke="#777" stroke-width="0.9"/>
<polygon points="639.40,865.68 641.80,868.08 639.40,870.48 637.00,868.08" fill="#ffffff" stroke="#777" stroke-width="0.9"/>
<polygon points="643.20,865.68 645.60,868.08 643.20,870.48 640.80,868.08" fill="#ffffff" stroke="#777" stroke-width="0.9"/>
<polygon points="647.00,865.68 649.40,868.08 647.00,870.48 644.60,868.08" fill="#ffffff" stroke="#777" stroke-width="0.9"/>
<polygon points="637.00,879.89 639.40,882.29 637.00,884.69 634.60,882.29" fill="#ffffff" stroke="#777" stroke-width="0.9"/>
<polygon points="641.30,879.89 643.70,882.29 641.30,884.69 638.90,882.29" fill="#ffffff" stroke="#777" stroke-width="0.9"/>
<line x1="630.00" y1="839.66" x2="648.90" y2="839.66" stroke="#111" stroke-width="2.2" />
<polygon points="665.90,780.42 668.30,782.82 665.90,785.22 663.50,782.82" fill="#f8a898" stroke="#ee5038" stroke-width="0.9"/>
<polygon points="673.50,780.42 675.90,782.82 673.50,785.22 671.10,782.82" fill="#f8a898" stroke="#ee5038" stroke-width="0.9"/>
<polygon points="669.70,794.63 672.10,797.03 669.70,799.43 667.30,797.03" fill="#f8a898" stroke="#ee5038" stroke-width="0.9"/>
<polygon points="665.90,808.84 668.30,811.24 665.90,813.64 663.50,811.24" fill="#f8a898" stroke="#ee5038" stroke-width="0.9"/>
<polygon points="673.50,808.84 675.90,811.24 673.50,813.64 671.10,811.24" fill="#f8a898" stroke="#ee5038" stroke-width="0.9"/>
<polygon points="662.10,823.05 664.50,825.45 662.10,827.85 659.70,825.45" fill="#f8a898" stroke="#ee5038" stroke-width="0.9"/>
<polygon points="669.70,823.05 672.10,825.45 669.70,827.85 667.30,825.45" fill="#f8a898" stroke="#ee5038" stroke-width="0.9"/>
<polygon points="677.30,823.05 679.70,825.45 677.30,827.85 674.90,825.45" fill="#f8a898" stroke="#ee5038" stroke-width="0.9"/>
<polygon points="669.70,837.26 672.10,839.66 669.70,842.06 667.30,839.66" fill="#f8a898" stroke="#ee5038" stroke-width="0.9"/>
<polygon points="669.70,851.47 672.10,853.87 669.70,856.27 667.30,853.87" fill="#f8a898" stroke="#ee5038" stroke-width="0.9"/>
<line x1="669.70" y1="793.48" x2="669.70" y2="829.00" stroke="#333" stroke-width="1.1" />
<line x1="664.50" y1="793.48" x2="674.90" y2="793.48" stroke="#222" stroke-width="1.1" />
<line x1="664.50" y1="829.00" x2="674.90" y2="829.00" stroke="#222" stroke-width="1.1" />
<line x1="660.20" y1="818.35" x2="679.70" y2="818.35" stroke="#111" stroke-width="2.2" />
</svg></body></html>
